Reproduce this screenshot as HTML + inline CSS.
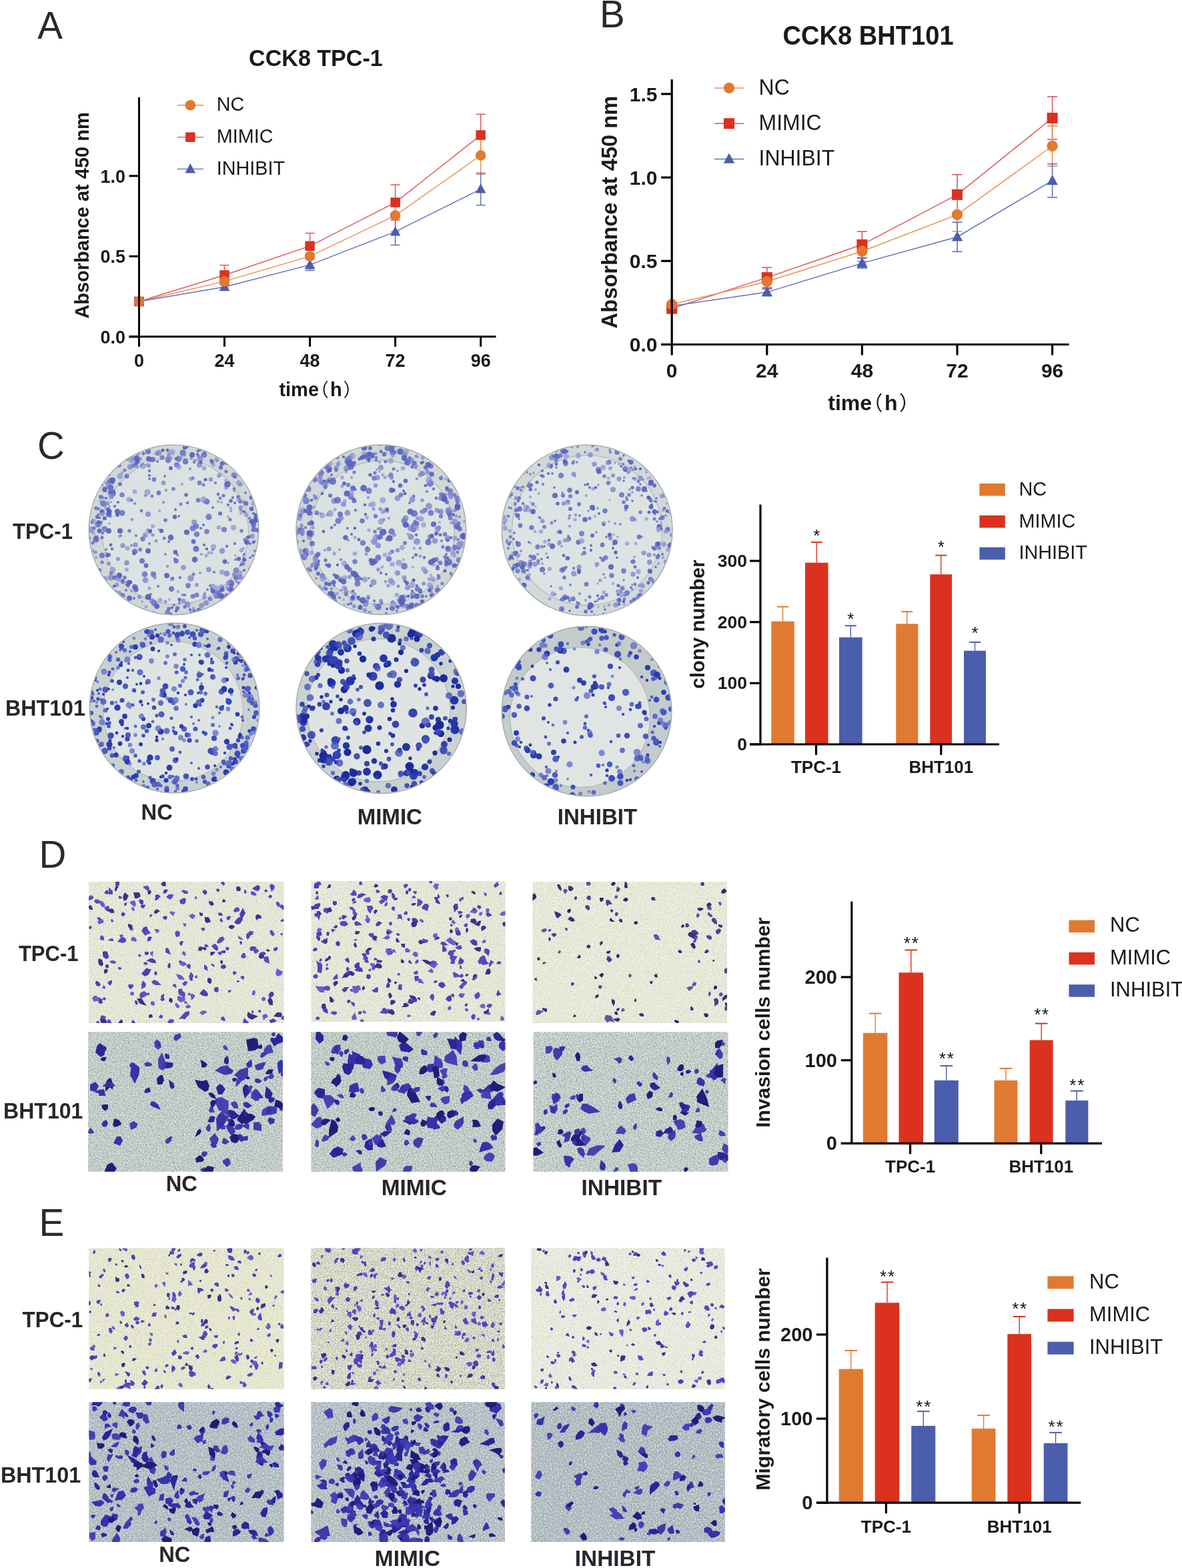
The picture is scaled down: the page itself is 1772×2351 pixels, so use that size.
<!DOCTYPE html><html><head><meta charset="utf-8"><title>Figure</title><style>html,body{margin:0;padding:0;background:#fff;}svg{display:block;}</style></head><body><svg width="1772" height="2351" viewBox="0 0 1772 2351" font-family="'Liberation Sans', Arial, sans-serif">
<defs><filter id="gd_tpc" x="0" y="0" width="100%" height="100%" color-interpolation-filters="sRGB"><feTurbulence type="fractalNoise" baseFrequency="0.7" numOctaves="2" seed="3"/><feColorMatrix type="matrix" values="0 0 0 0 0.714 0 0 0 0 0.737 0 0 0 0 0.635 3 0 0 0 -1.6"/></filter><filter id="gl_tpc" x="0" y="0" width="100%" height="100%" color-interpolation-filters="sRGB"><feTurbulence type="fractalNoise" baseFrequency="0.7" numOctaves="2" seed="8"/><feColorMatrix type="matrix" values="0 0 0 0 0.980 0 0 0 0 0.988 0 0 0 0 0.949 -3 0 0 0 1.5"/></filter><filter id="gd_tpc2" x="0" y="0" width="100%" height="100%" color-interpolation-filters="sRGB"><feTurbulence type="fractalNoise" baseFrequency="0.8" numOctaves="2" seed="3"/><feColorMatrix type="matrix" values="0 0 0 0 0.494 0 0 0 0 0.518 0 0 0 0 0.455 3.2 0 0 0 -1.55"/></filter><filter id="gd_bht" x="0" y="0" width="100%" height="100%" color-interpolation-filters="sRGB"><feTurbulence type="fractalNoise" baseFrequency="0.5" numOctaves="2" seed="5"/><feColorMatrix type="matrix" values="0 0 0 0 0.541 0 0 0 0 0.588 0 0 0 0 0.627 3.5 0 0 0 -1.8"/></filter><filter id="gl_bht" x="0" y="0" width="100%" height="100%" color-interpolation-filters="sRGB"><feTurbulence type="fractalNoise" baseFrequency="0.5" numOctaves="2" seed="9"/><feColorMatrix type="matrix" values="0 0 0 0 0.886 0 0 0 0 0.918 0 0 0 0 0.894 -3.5 0 0 0 1.8"/></filter><filter id="gd_bhtg" x="0" y="0" width="100%" height="100%" color-interpolation-filters="sRGB"><feTurbulence type="fractalNoise" baseFrequency="0.5" numOctaves="2" seed="6"/><feColorMatrix type="matrix" values="0 0 0 0 0.557 0 0 0 0 0.604 0 0 0 0 0.588 3.5 0 0 0 -1.8"/></filter><filter id="gl_bhtg" x="0" y="0" width="100%" height="100%" color-interpolation-filters="sRGB"><feTurbulence type="fractalNoise" baseFrequency="0.5" numOctaves="2" seed="10"/><feColorMatrix type="matrix" values="0 0 0 0 0.910 0 0 0 0 0.941 0 0 0 0 0.902 -3.5 0 0 0 1.8"/></filter><filter id="soft"><feGaussianBlur stdDeviation="0.7"/></filter></defs>
<rect width="1772" height="2351" fill="#ffffff"/>
<text x="56.2" y="57.9" font-size="56.5" text-anchor="start" fill="#2a2a2e">A</text>
<text x="899.0" y="41.2" font-size="56.5" text-anchor="start" fill="#2a2a2e">B</text>
<text x="56.0" y="687.6" font-size="56.5" text-anchor="start" fill="#2a2a2e">C</text>
<text x="58.6" y="1301.0" font-size="56.5" text-anchor="start" fill="#2a2a2e">D</text>
<text x="58.4" y="1853.3" font-size="56.5" text-anchor="start" fill="#2a2a2e">E</text>
<line x1="208.5" y1="454.4" x2="208.5" y2="449.6" stroke="#E0555A" stroke-width="1.5"/>
<line x1="201.5" y1="449.6" x2="215.5" y2="449.6" stroke="#E0555A" stroke-width="1.5"/>
<line x1="201.5" y1="454.4" x2="215.5" y2="454.4" stroke="#E0555A" stroke-width="1.5"/>
<line x1="336.5" y1="427.4" x2="336.5" y2="397.6" stroke="#E0555A" stroke-width="1.5"/>
<line x1="329.5" y1="397.6" x2="343.5" y2="397.6" stroke="#E0555A" stroke-width="1.5"/>
<line x1="329.5" y1="427.4" x2="343.5" y2="427.4" stroke="#E0555A" stroke-width="1.5"/>
<line x1="464.6" y1="388.2" x2="464.6" y2="349.6" stroke="#E0555A" stroke-width="1.5"/>
<line x1="457.6" y1="349.6" x2="471.6" y2="349.6" stroke="#E0555A" stroke-width="1.5"/>
<line x1="457.6" y1="388.2" x2="471.6" y2="388.2" stroke="#E0555A" stroke-width="1.5"/>
<line x1="592.6" y1="330.1" x2="592.6" y2="277.1" stroke="#E0555A" stroke-width="1.5"/>
<line x1="585.6" y1="277.1" x2="599.6" y2="277.1" stroke="#E0555A" stroke-width="1.5"/>
<line x1="585.6" y1="330.1" x2="599.6" y2="330.1" stroke="#E0555A" stroke-width="1.5"/>
<line x1="720.7" y1="233.9" x2="720.7" y2="171.3" stroke="#E0555A" stroke-width="1.5"/>
<line x1="713.7" y1="171.3" x2="727.7" y2="171.3" stroke="#E0555A" stroke-width="1.5"/>
<line x1="713.7" y1="233.9" x2="727.7" y2="233.9" stroke="#E0555A" stroke-width="1.5"/>
<line x1="208.5" y1="454.4" x2="208.5" y2="449.6" stroke="#E89050" stroke-width="1.5"/>
<line x1="201.5" y1="449.6" x2="215.5" y2="449.6" stroke="#E89050" stroke-width="1.5"/>
<line x1="201.5" y1="454.4" x2="215.5" y2="454.4" stroke="#E89050" stroke-width="1.5"/>
<line x1="336.5" y1="431.5" x2="336.5" y2="412.3" stroke="#E89050" stroke-width="1.5"/>
<line x1="329.5" y1="412.3" x2="343.5" y2="412.3" stroke="#E89050" stroke-width="1.5"/>
<line x1="329.5" y1="431.5" x2="343.5" y2="431.5" stroke="#E89050" stroke-width="1.5"/>
<line x1="464.6" y1="403.3" x2="464.6" y2="364.8" stroke="#E89050" stroke-width="1.5"/>
<line x1="457.6" y1="364.8" x2="471.6" y2="364.8" stroke="#E89050" stroke-width="1.5"/>
<line x1="457.6" y1="403.3" x2="471.6" y2="403.3" stroke="#E89050" stroke-width="1.5"/>
<line x1="592.6" y1="347.2" x2="592.6" y2="299.0" stroke="#E89050" stroke-width="1.5"/>
<line x1="585.6" y1="299.0" x2="599.6" y2="299.0" stroke="#E89050" stroke-width="1.5"/>
<line x1="585.6" y1="347.2" x2="599.6" y2="347.2" stroke="#E89050" stroke-width="1.5"/>
<line x1="720.7" y1="261.4" x2="720.7" y2="204.5" stroke="#E89050" stroke-width="1.5"/>
<line x1="713.7" y1="204.5" x2="727.7" y2="204.5" stroke="#E89050" stroke-width="1.5"/>
<line x1="713.7" y1="261.4" x2="727.7" y2="261.4" stroke="#E89050" stroke-width="1.5"/>
<line x1="208.5" y1="454.4" x2="208.5" y2="449.6" stroke="#6070C0" stroke-width="1.5"/>
<line x1="201.5" y1="449.6" x2="215.5" y2="449.6" stroke="#6070C0" stroke-width="1.5"/>
<line x1="201.5" y1="454.4" x2="215.5" y2="454.4" stroke="#6070C0" stroke-width="1.5"/>
<line x1="336.5" y1="435.2" x2="336.5" y2="425.5" stroke="#6070C0" stroke-width="1.5"/>
<line x1="329.5" y1="425.5" x2="343.5" y2="425.5" stroke="#6070C0" stroke-width="1.5"/>
<line x1="329.5" y1="435.2" x2="343.5" y2="435.2" stroke="#6070C0" stroke-width="1.5"/>
<line x1="464.6" y1="405.5" x2="464.6" y2="388.6" stroke="#6070C0" stroke-width="1.5"/>
<line x1="457.6" y1="388.6" x2="471.6" y2="388.6" stroke="#6070C0" stroke-width="1.5"/>
<line x1="457.6" y1="405.5" x2="471.6" y2="405.5" stroke="#6070C0" stroke-width="1.5"/>
<line x1="592.6" y1="367.4" x2="592.6" y2="327.4" stroke="#6070C0" stroke-width="1.5"/>
<line x1="585.6" y1="327.4" x2="599.6" y2="327.4" stroke="#6070C0" stroke-width="1.5"/>
<line x1="585.6" y1="367.4" x2="599.6" y2="367.4" stroke="#6070C0" stroke-width="1.5"/>
<line x1="720.7" y1="307.7" x2="720.7" y2="259.5" stroke="#6070C0" stroke-width="1.5"/>
<line x1="713.7" y1="259.5" x2="727.7" y2="259.5" stroke="#6070C0" stroke-width="1.5"/>
<line x1="713.7" y1="307.7" x2="727.7" y2="307.7" stroke="#6070C0" stroke-width="1.5"/>
<polyline points="208.5,452.0 336.5,412.5 464.6,368.9 592.6,303.6 720.7,202.6" fill="none" stroke="#E0555A" stroke-width="1.4"/>
<polyline points="208.5,452.0 336.5,421.9 464.6,384.1 592.6,323.1 720.7,233.0" fill="none" stroke="#E89050" stroke-width="1.4"/>
<polyline points="208.5,452.0 336.5,430.3 464.6,397.1 592.6,347.4 720.7,283.6" fill="none" stroke="#6070C0" stroke-width="1.4"/>
<polygon points="208.5,443.8 216.2,458.0 200.8,458.0" fill="#4B5EAD"/>
<polygon points="336.5,422.1 344.3,436.3 328.8,436.3" fill="#4B5EAD"/>
<polygon points="464.6,388.8 472.3,403.1 456.8,403.1" fill="#4B5EAD"/>
<polygon points="592.6,339.2 600.4,353.4 584.9,353.4" fill="#4B5EAD"/>
<polygon points="720.7,275.3 728.4,289.6 712.9,289.6" fill="#4B5EAD"/>
<rect x="201.2" y="444.8" width="14.5" height="14.5" fill="#DA321E"/>
<rect x="329.3" y="405.2" width="14.5" height="14.5" fill="#DA321E"/>
<rect x="457.3" y="361.6" width="14.5" height="14.5" fill="#DA321E"/>
<rect x="585.4" y="296.3" width="14.5" height="14.5" fill="#DA321E"/>
<rect x="713.4" y="195.3" width="14.5" height="14.5" fill="#DA321E"/>
<circle cx="208.5" cy="452.0" r="7.8" fill="#E07A30"/>
<circle cx="336.5" cy="421.9" r="7.8" fill="#E07A30"/>
<circle cx="464.6" cy="384.1" r="7.8" fill="#E07A30"/>
<circle cx="592.6" cy="323.1" r="7.8" fill="#E07A30"/>
<circle cx="720.7" cy="233.0" r="7.8" fill="#E07A30"/>
<line x1="208.5" y1="146.0" x2="208.5" y2="506.3" stroke="#000" stroke-width="3"/>
<line x1="193.5" y1="504.8" x2="743.5" y2="504.8" stroke="#000" stroke-width="3"/>
<line x1="193.5" y1="504.8" x2="208.5" y2="504.8" stroke="#000" stroke-width="3"/>
<text x="188.0" y="514.5" font-size="27" font-weight="bold" text-anchor="end" fill="#1a1a1a">0.0</text>
<line x1="193.5" y1="384.3" x2="208.5" y2="384.3" stroke="#000" stroke-width="3"/>
<text x="188.0" y="394.0" font-size="27" font-weight="bold" text-anchor="end" fill="#1a1a1a">0.5</text>
<line x1="193.5" y1="263.8" x2="208.5" y2="263.8" stroke="#000" stroke-width="3"/>
<text x="188.0" y="273.5" font-size="27" font-weight="bold" text-anchor="end" fill="#1a1a1a">1.0</text>
<line x1="208.5" y1="504.8" x2="208.5" y2="519.8" stroke="#000" stroke-width="3"/>
<text x="208.5" y="549.7" font-size="27" font-weight="bold" text-anchor="middle" fill="#1a1a1a">0</text>
<line x1="336.5" y1="504.8" x2="336.5" y2="519.8" stroke="#000" stroke-width="3"/>
<text x="336.5" y="549.7" font-size="27" font-weight="bold" text-anchor="middle" fill="#1a1a1a">24</text>
<line x1="464.6" y1="504.8" x2="464.6" y2="519.8" stroke="#000" stroke-width="3"/>
<text x="464.6" y="549.7" font-size="27" font-weight="bold" text-anchor="middle" fill="#1a1a1a">48</text>
<line x1="592.6" y1="504.8" x2="592.6" y2="519.8" stroke="#000" stroke-width="3"/>
<text x="592.6" y="549.7" font-size="27" font-weight="bold" text-anchor="middle" fill="#1a1a1a">72</text>
<line x1="720.7" y1="504.8" x2="720.7" y2="519.8" stroke="#000" stroke-width="3"/>
<text x="720.7" y="549.7" font-size="27" font-weight="bold" text-anchor="middle" fill="#1a1a1a">96</text>
<text x="133.0" y="323.0" font-size="29" font-weight="bold" text-anchor="middle" fill="#1a1a1a" transform="rotate(-90 133.0 323.0)">Absorbance at 450 nm</text>
<text y="594.3" fill="#1a1a1a"><tspan x="418.4" font-size="29" font-weight="bold">time</tspan><tspan x="465.5" font-size="27.4" font-family="'Liberation Sans', 'Noto Sans CJK SC', sans-serif">（</tspan><tspan x="494.9" font-size="29" font-weight="bold">h</tspan><tspan x="514.4" font-size="27.4" font-family="'Liberation Sans', 'Noto Sans CJK SC', sans-serif">）</tspan></text>
<text x="473.4" y="99.0" font-size="35.5" font-weight="bold" text-anchor="middle" fill="#1a1a1a" transform="matrix(0.96 0 0 1 18.94 0)">CCK8 TPC-1</text>
<line x1="265.6" y1="157.8" x2="305.0" y2="157.8" stroke="#E89050" stroke-width="1.4"/>
<circle cx="285.3" cy="157.8" r="7.8" fill="#E07A30"/>
<text x="324.8" y="166.4" font-size="30" text-anchor="start" fill="#1a1a1a" transform="matrix(0.96 0 0 1 12.99 0)">NC</text>
<line x1="265.6" y1="205.6" x2="305.0" y2="205.6" stroke="#E0555A" stroke-width="1.4"/>
<rect x="278.1" y="198.4" width="14.5" height="14.5" fill="#DA321E"/>
<text x="324.8" y="214.2" font-size="30" text-anchor="start" fill="#1a1a1a" transform="matrix(0.96 0 0 1 12.99 0)">MIMIC</text>
<line x1="265.6" y1="253.4" x2="305.0" y2="253.4" stroke="#6070C0" stroke-width="1.4"/>
<polygon points="285.3,245.1 293.1,259.4 277.6,259.4" fill="#4B5EAD"/>
<text x="324.8" y="262.0" font-size="30" text-anchor="start" fill="#1a1a1a" transform="matrix(0.96 0 0 1 12.99 0)">INHIBIT</text>
<line x1="1007.2" y1="465.2" x2="1007.2" y2="460.2" stroke="#E0555A" stroke-width="1.6"/>
<line x1="999.7" y1="460.2" x2="1014.7" y2="460.2" stroke="#E0555A" stroke-width="1.6"/>
<line x1="999.7" y1="465.2" x2="1014.7" y2="465.2" stroke="#E0555A" stroke-width="1.6"/>
<line x1="1149.8" y1="431.1" x2="1149.8" y2="401.1" stroke="#E0555A" stroke-width="1.6"/>
<line x1="1142.3" y1="401.1" x2="1157.3" y2="401.1" stroke="#E0555A" stroke-width="1.6"/>
<line x1="1142.3" y1="431.1" x2="1157.3" y2="431.1" stroke="#E0555A" stroke-width="1.6"/>
<line x1="1292.4" y1="386.3" x2="1292.4" y2="347.2" stroke="#E0555A" stroke-width="1.6"/>
<line x1="1284.9" y1="347.2" x2="1299.9" y2="347.2" stroke="#E0555A" stroke-width="1.6"/>
<line x1="1284.9" y1="386.3" x2="1299.9" y2="386.3" stroke="#E0555A" stroke-width="1.6"/>
<line x1="1435.0" y1="321.9" x2="1435.0" y2="261.8" stroke="#E0555A" stroke-width="1.6"/>
<line x1="1427.5" y1="261.8" x2="1442.5" y2="261.8" stroke="#E0555A" stroke-width="1.6"/>
<line x1="1427.5" y1="321.9" x2="1442.5" y2="321.9" stroke="#E0555A" stroke-width="1.6"/>
<line x1="1577.6" y1="209.0" x2="1577.6" y2="144.9" stroke="#E0555A" stroke-width="1.6"/>
<line x1="1570.1" y1="144.9" x2="1585.1" y2="144.9" stroke="#E0555A" stroke-width="1.6"/>
<line x1="1570.1" y1="209.0" x2="1585.1" y2="209.0" stroke="#E0555A" stroke-width="1.6"/>
<line x1="1007.2" y1="458.9" x2="1007.2" y2="453.9" stroke="#E89050" stroke-width="1.6"/>
<line x1="999.7" y1="453.9" x2="1014.7" y2="453.9" stroke="#E89050" stroke-width="1.6"/>
<line x1="999.7" y1="458.9" x2="1014.7" y2="458.9" stroke="#E89050" stroke-width="1.6"/>
<line x1="1149.8" y1="432.4" x2="1149.8" y2="412.3" stroke="#E89050" stroke-width="1.6"/>
<line x1="1142.3" y1="412.3" x2="1157.3" y2="412.3" stroke="#E89050" stroke-width="1.6"/>
<line x1="1142.3" y1="432.4" x2="1157.3" y2="432.4" stroke="#E89050" stroke-width="1.6"/>
<line x1="1292.4" y1="391.8" x2="1292.4" y2="361.8" stroke="#E89050" stroke-width="1.6"/>
<line x1="1284.9" y1="361.8" x2="1299.9" y2="361.8" stroke="#E89050" stroke-width="1.6"/>
<line x1="1284.9" y1="391.8" x2="1299.9" y2="391.8" stroke="#E89050" stroke-width="1.6"/>
<line x1="1435.0" y1="347.0" x2="1435.0" y2="296.9" stroke="#E89050" stroke-width="1.6"/>
<line x1="1427.5" y1="296.9" x2="1442.5" y2="296.9" stroke="#E89050" stroke-width="1.6"/>
<line x1="1427.5" y1="347.0" x2="1442.5" y2="347.0" stroke="#E89050" stroke-width="1.6"/>
<line x1="1577.6" y1="249.1" x2="1577.6" y2="189.0" stroke="#E89050" stroke-width="1.6"/>
<line x1="1570.1" y1="189.0" x2="1585.1" y2="189.0" stroke="#E89050" stroke-width="1.6"/>
<line x1="1570.1" y1="249.1" x2="1585.1" y2="249.1" stroke="#E89050" stroke-width="1.6"/>
<line x1="1007.2" y1="461.4" x2="1007.2" y2="456.4" stroke="#6070C0" stroke-width="1.6"/>
<line x1="999.7" y1="456.4" x2="1014.7" y2="456.4" stroke="#6070C0" stroke-width="1.6"/>
<line x1="999.7" y1="461.4" x2="1014.7" y2="461.4" stroke="#6070C0" stroke-width="1.6"/>
<line x1="1149.8" y1="443.1" x2="1149.8" y2="433.1" stroke="#6070C0" stroke-width="1.6"/>
<line x1="1142.3" y1="433.1" x2="1157.3" y2="433.1" stroke="#6070C0" stroke-width="1.6"/>
<line x1="1142.3" y1="443.1" x2="1157.3" y2="443.1" stroke="#6070C0" stroke-width="1.6"/>
<line x1="1292.4" y1="402.1" x2="1292.4" y2="387.0" stroke="#6070C0" stroke-width="1.6"/>
<line x1="1284.9" y1="387.0" x2="1299.9" y2="387.0" stroke="#6070C0" stroke-width="1.6"/>
<line x1="1284.9" y1="402.1" x2="1299.9" y2="402.1" stroke="#6070C0" stroke-width="1.6"/>
<line x1="1435.0" y1="377.3" x2="1435.0" y2="333.2" stroke="#6070C0" stroke-width="1.6"/>
<line x1="1427.5" y1="333.2" x2="1442.5" y2="333.2" stroke="#6070C0" stroke-width="1.6"/>
<line x1="1427.5" y1="377.3" x2="1442.5" y2="377.3" stroke="#6070C0" stroke-width="1.6"/>
<line x1="1577.6" y1="295.9" x2="1577.6" y2="245.8" stroke="#6070C0" stroke-width="1.6"/>
<line x1="1570.1" y1="245.8" x2="1585.1" y2="245.8" stroke="#6070C0" stroke-width="1.6"/>
<line x1="1570.1" y1="295.9" x2="1585.1" y2="295.9" stroke="#6070C0" stroke-width="1.6"/>
<polyline points="1007.2,462.7 1149.8,416.1 1292.4,366.8 1435.0,291.9 1577.6,177.0" fill="none" stroke="#E0555A" stroke-width="1.5"/>
<polyline points="1007.2,456.4 1149.8,422.3 1292.4,376.8 1435.0,321.9 1577.6,219.0" fill="none" stroke="#E89050" stroke-width="1.5"/>
<polyline points="1007.2,458.9 1149.8,438.1 1292.4,394.6 1435.0,355.2 1577.6,270.9" fill="none" stroke="#6070C0" stroke-width="1.5"/>
<polygon points="1007.2,450.1 1015.5,465.3 999.0,465.3" fill="#4B5EAD"/>
<polygon points="1149.8,429.3 1158.1,444.5 1141.6,444.5" fill="#4B5EAD"/>
<polygon points="1292.4,385.8 1300.7,400.9 1284.2,400.9" fill="#4B5EAD"/>
<polygon points="1435.0,346.4 1443.3,361.6 1426.8,361.6" fill="#4B5EAD"/>
<polygon points="1577.6,262.1 1585.9,277.2 1569.4,277.2" fill="#4B5EAD"/>
<rect x="999.2" y="454.7" width="16.0" height="16.0" fill="#DA321E"/>
<rect x="1141.8" y="408.1" width="16.0" height="16.0" fill="#DA321E"/>
<rect x="1284.4" y="358.8" width="16.0" height="16.0" fill="#DA321E"/>
<rect x="1427.0" y="283.9" width="16.0" height="16.0" fill="#DA321E"/>
<rect x="1569.6" y="169.0" width="16.0" height="16.0" fill="#DA321E"/>
<circle cx="1007.2" cy="456.4" r="8.2" fill="#E07A30"/>
<circle cx="1149.8" cy="422.3" r="8.2" fill="#E07A30"/>
<circle cx="1292.4" cy="376.8" r="8.2" fill="#E07A30"/>
<circle cx="1435.0" cy="321.9" r="8.2" fill="#E07A30"/>
<circle cx="1577.6" cy="219.0" r="8.2" fill="#E07A30"/>
<line x1="1007.2" y1="119.0" x2="1007.2" y2="518.1" stroke="#000" stroke-width="3.2"/>
<line x1="991.2" y1="516.5" x2="1602.5" y2="516.5" stroke="#000" stroke-width="3.2"/>
<line x1="991.2" y1="516.5" x2="1007.2" y2="516.5" stroke="#000" stroke-width="3.2"/>
<text x="985.5" y="527.2" font-size="30" font-weight="bold" text-anchor="end" fill="#1a1a1a">0.0</text>
<line x1="991.2" y1="391.3" x2="1007.2" y2="391.3" stroke="#000" stroke-width="3.2"/>
<text x="985.5" y="402.0" font-size="30" font-weight="bold" text-anchor="end" fill="#1a1a1a">0.5</text>
<line x1="991.2" y1="266.1" x2="1007.2" y2="266.1" stroke="#000" stroke-width="3.2"/>
<text x="985.5" y="276.8" font-size="30" font-weight="bold" text-anchor="end" fill="#1a1a1a">1.0</text>
<line x1="991.2" y1="140.9" x2="1007.2" y2="140.9" stroke="#000" stroke-width="3.2"/>
<text x="985.5" y="151.6" font-size="30" font-weight="bold" text-anchor="end" fill="#1a1a1a">1.5</text>
<line x1="1007.2" y1="516.5" x2="1007.2" y2="532.5" stroke="#000" stroke-width="3.2"/>
<text x="1007.2" y="565.7" font-size="30" font-weight="bold" text-anchor="middle" fill="#1a1a1a">0</text>
<line x1="1149.8" y1="516.5" x2="1149.8" y2="532.5" stroke="#000" stroke-width="3.2"/>
<text x="1149.8" y="565.7" font-size="30" font-weight="bold" text-anchor="middle" fill="#1a1a1a">24</text>
<line x1="1292.4" y1="516.5" x2="1292.4" y2="532.5" stroke="#000" stroke-width="3.2"/>
<text x="1292.4" y="565.7" font-size="30" font-weight="bold" text-anchor="middle" fill="#1a1a1a">48</text>
<line x1="1435.0" y1="516.5" x2="1435.0" y2="532.5" stroke="#000" stroke-width="3.2"/>
<text x="1435.0" y="565.7" font-size="30" font-weight="bold" text-anchor="middle" fill="#1a1a1a">72</text>
<line x1="1577.6" y1="516.5" x2="1577.6" y2="532.5" stroke="#000" stroke-width="3.2"/>
<text x="1577.6" y="565.7" font-size="30" font-weight="bold" text-anchor="middle" fill="#1a1a1a">96</text>
<text x="924.5" y="318.0" font-size="32.7" font-weight="bold" text-anchor="middle" fill="#1a1a1a" transform="rotate(-90 924.5 318.0)">Absorbance at 450 nm</text>
<text y="615.3" fill="#1a1a1a"><tspan x="1241.3" font-size="32" font-weight="bold">time</tspan><tspan x="1293.6" font-size="30" font-family="'Liberation Sans', 'Noto Sans CJK SC', sans-serif">（</tspan><tspan x="1326" font-size="32" font-weight="bold">h</tspan><tspan x="1348" font-size="30" font-family="'Liberation Sans', 'Noto Sans CJK SC', sans-serif">）</tspan></text>
<text x="1301.6" y="66.8" font-size="40.5" font-weight="bold" text-anchor="middle" fill="#1a1a1a" transform="matrix(0.94 0 0 1 78.10 0)">CCK8 BHT101</text>
<line x1="1071.0" y1="132.0" x2="1115.0" y2="132.0" stroke="#E89050" stroke-width="1.5"/>
<circle cx="1093.0" cy="132.0" r="8.2" fill="#E07A30"/>
<text x="1137.6" y="141.8" font-size="34" text-anchor="start" fill="#1a1a1a" transform="matrix(0.94 0 0 1 68.26 0)">NC</text>
<line x1="1071.0" y1="185.2" x2="1115.0" y2="185.2" stroke="#E0555A" stroke-width="1.5"/>
<rect x="1085.0" y="177.2" width="16.0" height="16.0" fill="#DA321E"/>
<text x="1137.6" y="195.0" font-size="34" text-anchor="start" fill="#1a1a1a" transform="matrix(0.94 0 0 1 68.26 0)">MIMIC</text>
<line x1="1071.0" y1="238.4" x2="1115.0" y2="238.4" stroke="#6070C0" stroke-width="1.5"/>
<polygon points="1093.0,229.6 1101.2,244.8 1084.8,244.8" fill="#4B5EAD"/>
<text x="1137.6" y="248.2" font-size="34" text-anchor="start" fill="#1a1a1a" transform="matrix(0.94 0 0 1 68.26 0)">INHIBIT</text>
<clipPath id="p11"><circle cx="260.6" cy="794.4" r="126.5"/></clipPath>
<circle cx="260.6" cy="794.4" r="127.4" fill="#D0D7D6" stroke="#9AA2A2" stroke-width="1.2"/>
<circle cx="262.6" cy="796.4" r="110.0" fill="#DBE2E1" stroke="#B4BCBC" stroke-width="1.4"/>
<g clip-path="url(#p11)"><g filter="url(#soft)">
<g fill="#6870C8" fill-opacity="0.85"><circle cx="248" cy="831" r="1.9"/><circle cx="183" cy="769" r="4.5"/><circle cx="270" cy="866" r="2.3"/><circle cx="293" cy="821" r="2.3"/><circle cx="378" cy="795" r="2.1"/><circle cx="262" cy="838" r="2.0"/><circle cx="343" cy="883" r="3.3"/><circle cx="318" cy="691" r="2.5"/><circle cx="181" cy="803" r="1.9"/><circle cx="319" cy="761" r="2.1"/><circle cx="375" cy="853" r="3.0"/><circle cx="353" cy="839" r="1.9"/><circle cx="144" cy="808" r="2.2"/><circle cx="349" cy="746" r="2.2"/><circle cx="295" cy="801" r="4.3"/><circle cx="187" cy="705" r="2.5"/><circle cx="204" cy="803" r="2.1"/><circle cx="289" cy="894" r="3.6"/><circle cx="251" cy="918" r="3.6"/><circle cx="268" cy="774" r="1.9"/><circle cx="187" cy="866" r="3.0"/><circle cx="336" cy="794" r="4.1"/><circle cx="271" cy="756" r="2.4"/><circle cx="268" cy="688" r="4.7"/><circle cx="178" cy="697" r="4.0"/><circle cx="289" cy="792" r="4.6"/><circle cx="295" cy="892" r="3.5"/><circle cx="325" cy="691" r="1.9"/><circle cx="228" cy="744" r="2.4"/><circle cx="350" cy="712" r="2.3"/><circle cx="317" cy="882" r="2.3"/><circle cx="252" cy="690" r="4.4"/><circle cx="364" cy="845" r="3.3"/><circle cx="231" cy="904" r="4.7"/><circle cx="371" cy="806" r="2.8"/><circle cx="328" cy="889" r="3.8"/><circle cx="144" cy="762" r="2.9"/><circle cx="155" cy="755" r="4.8"/><circle cx="237" cy="879" r="2.0"/><circle cx="266" cy="832" r="2.0"/><circle cx="200" cy="698" r="3.2"/><circle cx="360" cy="752" r="3.1"/><circle cx="321" cy="888" r="2.6"/><circle cx="359" cy="749" r="1.9"/><circle cx="167" cy="859" r="2.9"/><circle cx="330" cy="747" r="2.4"/><circle cx="202" cy="755" r="1.9"/><circle cx="360" cy="865" r="3.9"/><circle cx="165" cy="737" r="1.9"/><circle cx="297" cy="750" r="3.5"/><circle cx="218" cy="743" r="1.9"/><circle cx="183" cy="742" r="3.8"/><circle cx="214" cy="808" r="3.7"/><circle cx="305" cy="727" r="2.5"/><circle cx="334" cy="880" r="2.2"/><circle cx="374" cy="777" r="2.3"/><circle cx="246" cy="807" r="2.5"/><circle cx="217" cy="861" r="4.4"/><circle cx="194" cy="796" r="2.8"/><circle cx="291" cy="693" r="2.2"/><circle cx="298" cy="684" r="2.6"/><circle cx="330" cy="886" r="2.1"/><circle cx="310" cy="797" r="3.8"/><circle cx="289" cy="717" r="2.6"/><circle cx="380" cy="790" r="2.7"/><circle cx="311" cy="884" r="2.0"/><circle cx="274" cy="679" r="4.8"/><circle cx="351" cy="733" r="2.4"/><circle cx="367" cy="809" r="2.6"/><circle cx="290" cy="861" r="2.5"/><circle cx="147" cy="786" r="4.8"/><circle cx="163" cy="722" r="2.7"/><circle cx="282" cy="878" r="3.9"/><circle cx="202" cy="689" r="2.4"/><circle cx="166" cy="721" r="4.7"/><circle cx="299" cy="724" r="3.4"/><circle cx="153" cy="727" r="2.1"/><circle cx="315" cy="898" r="3.3"/><circle cx="260" cy="733" r="2.8"/><circle cx="375" cy="836" r="2.1"/><circle cx="380" cy="782" r="4.5"/><circle cx="153" cy="833" r="4.4"/><circle cx="183" cy="893" r="4.1"/><circle cx="231" cy="719" r="3.4"/><circle cx="210" cy="824" r="3.0"/><circle cx="191" cy="689" r="1.9"/><circle cx="265" cy="697" r="4.0"/><circle cx="141" cy="792" r="2.7"/><circle cx="173" cy="887" r="2.5"/><circle cx="294" cy="789" r="4.4"/><circle cx="340" cy="893" r="3.6"/><circle cx="368" cy="739" r="2.0"/><circle cx="313" cy="775" r="4.7"/><circle cx="148" cy="763" r="2.3"/><circle cx="164" cy="712" r="1.9"/><circle cx="362" cy="796" r="2.8"/><circle cx="138" cy="783" r="2.5"/><circle cx="197" cy="818" r="1.9"/></g>
<g fill="#7A80CE" fill-opacity="0.75"><circle cx="184" cy="818" r="3.7"/><circle cx="368" cy="840" r="1.9"/><circle cx="209" cy="895" r="3.2"/><circle cx="159" cy="871" r="1.9"/><circle cx="222" cy="771" r="4.1"/><circle cx="253" cy="687" r="4.6"/><circle cx="159" cy="724" r="2.3"/><circle cx="223" cy="698" r="3.1"/><circle cx="300" cy="688" r="4.4"/><circle cx="136" cy="794" r="4.8"/><circle cx="287" cy="687" r="2.0"/><circle cx="346" cy="766" r="1.9"/><circle cx="318" cy="693" r="3.1"/><circle cx="168" cy="719" r="2.3"/><circle cx="382" cy="812" r="2.1"/><circle cx="316" cy="719" r="3.2"/><circle cx="302" cy="908" r="3.9"/><circle cx="366" cy="753" r="3.0"/><circle cx="302" cy="831" r="2.1"/><circle cx="378" cy="804" r="3.6"/><circle cx="253" cy="681" r="2.6"/><circle cx="367" cy="768" r="2.3"/><circle cx="361" cy="765" r="2.5"/><circle cx="249" cy="735" r="2.2"/><circle cx="299" cy="697" r="4.4"/><circle cx="328" cy="714" r="2.5"/><circle cx="191" cy="874" r="3.7"/><circle cx="251" cy="849" r="2.2"/><circle cx="368" cy="813" r="1.9"/><circle cx="324" cy="887" r="3.2"/><circle cx="340" cy="860" r="4.5"/><circle cx="225" cy="898" r="2.0"/><circle cx="287" cy="685" r="1.9"/><circle cx="360" cy="727" r="2.7"/><circle cx="238" cy="679" r="4.4"/><circle cx="351" cy="861" r="3.3"/><circle cx="198" cy="779" r="2.3"/><circle cx="190" cy="844" r="3.9"/><circle cx="185" cy="893" r="2.8"/><circle cx="161" cy="755" r="3.0"/><circle cx="144" cy="836" r="1.9"/><circle cx="245" cy="753" r="2.2"/><circle cx="274" cy="892" r="2.3"/><circle cx="177" cy="838" r="3.1"/><circle cx="203" cy="817" r="3.8"/><circle cx="235" cy="680" r="3.1"/><circle cx="293" cy="690" r="1.9"/><circle cx="285" cy="703" r="2.2"/><circle cx="234" cy="811" r="2.5"/><circle cx="352" cy="713" r="4.5"/><circle cx="306" cy="896" r="3.0"/><circle cx="206" cy="679" r="4.2"/><circle cx="248" cy="902" r="2.5"/><circle cx="295" cy="877" r="2.9"/><circle cx="163" cy="845" r="3.0"/><circle cx="228" cy="901" r="4.0"/><circle cx="327" cy="752" r="1.9"/><circle cx="275" cy="901" r="3.5"/><circle cx="245" cy="724" r="3.5"/><circle cx="276" cy="682" r="2.8"/><circle cx="309" cy="904" r="4.2"/><circle cx="154" cy="746" r="2.6"/><circle cx="166" cy="866" r="4.5"/><circle cx="167" cy="745" r="3.5"/><circle cx="349" cy="712" r="2.7"/><circle cx="316" cy="690" r="2.2"/><circle cx="306" cy="892" r="1.9"/><circle cx="307" cy="889" r="2.0"/><circle cx="153" cy="769" r="4.6"/><circle cx="175" cy="877" r="3.3"/><circle cx="163" cy="729" r="4.5"/><circle cx="258" cy="868" r="3.3"/><circle cx="157" cy="868" r="4.2"/><circle cx="354" cy="872" r="2.1"/><circle cx="291" cy="783" r="4.0"/><circle cx="275" cy="851" r="3.8"/><circle cx="286" cy="867" r="4.8"/><circle cx="232" cy="866" r="2.6"/><circle cx="229" cy="802" r="2.6"/><circle cx="354" cy="866" r="4.2"/><circle cx="195" cy="700" r="4.3"/><circle cx="214" cy="695" r="1.9"/><circle cx="351" cy="736" r="1.9"/><circle cx="143" cy="828" r="2.8"/><circle cx="210" cy="688" r="2.9"/><circle cx="300" cy="859" r="2.1"/><circle cx="178" cy="890" r="3.9"/><circle cx="361" cy="761" r="3.4"/><circle cx="350" cy="710" r="2.0"/><circle cx="287" cy="918" r="2.6"/><circle cx="197" cy="886" r="1.9"/><circle cx="306" cy="753" r="2.1"/><circle cx="281" cy="906" r="4.5"/><circle cx="313" cy="854" r="3.9"/><circle cx="333" cy="826" r="4.4"/><circle cx="251" cy="917" r="2.0"/><circle cx="290" cy="912" r="1.9"/><circle cx="218" cy="870" r="4.4"/><circle cx="222" cy="795" r="2.8"/><circle cx="205" cy="699" r="2.9"/><circle cx="160" cy="830" r="2.3"/></g>
<g fill="#5E68C4" fill-opacity="0.85"><circle cx="301" cy="792" r="2.1"/><circle cx="266" cy="912" r="3.2"/><circle cx="261" cy="907" r="1.9"/><circle cx="139" cy="814" r="2.5"/><circle cx="248" cy="780" r="2.8"/><circle cx="229" cy="689" r="3.9"/><circle cx="180" cy="726" r="2.9"/><circle cx="327" cy="741" r="2.4"/><circle cx="382" cy="826" r="1.9"/><circle cx="159" cy="824" r="1.9"/><circle cx="352" cy="815" r="2.2"/><circle cx="157" cy="793" r="4.0"/><circle cx="163" cy="832" r="3.0"/><circle cx="224" cy="815" r="1.9"/><circle cx="347" cy="879" r="2.9"/><circle cx="306" cy="682" r="4.4"/><circle cx="264" cy="841" r="3.7"/><circle cx="179" cy="861" r="2.6"/><circle cx="212" cy="766" r="2.4"/><circle cx="247" cy="714" r="1.9"/><circle cx="184" cy="870" r="2.0"/><circle cx="145" cy="807" r="2.2"/><circle cx="264" cy="688" r="2.5"/><circle cx="204" cy="695" r="2.7"/><circle cx="269" cy="904" r="2.0"/><circle cx="134" cy="807" r="2.4"/><circle cx="144" cy="806" r="3.5"/><circle cx="243" cy="686" r="3.5"/><circle cx="166" cy="731" r="4.4"/><circle cx="152" cy="783" r="1.9"/><circle cx="190" cy="714" r="3.5"/><circle cx="277" cy="892" r="2.1"/><circle cx="310" cy="752" r="4.4"/><circle cx="315" cy="878" r="2.0"/><circle cx="335" cy="896" r="2.0"/><circle cx="146" cy="776" r="2.0"/><circle cx="152" cy="767" r="2.3"/><circle cx="330" cy="770" r="3.1"/><circle cx="373" cy="805" r="2.6"/><circle cx="354" cy="855" r="4.3"/><circle cx="172" cy="759" r="2.2"/><circle cx="281" cy="754" r="2.3"/><circle cx="294" cy="823" r="4.6"/><circle cx="153" cy="843" r="2.5"/><circle cx="381" cy="794" r="3.7"/><circle cx="168" cy="823" r="2.3"/><circle cx="379" cy="833" r="2.0"/><circle cx="202" cy="827" r="4.3"/><circle cx="278" cy="692" r="4.4"/><circle cx="331" cy="701" r="3.2"/><circle cx="169" cy="740" r="4.8"/><circle cx="340" cy="819" r="2.3"/><circle cx="189" cy="885" r="2.0"/><circle cx="238" cy="739" r="3.4"/><circle cx="342" cy="757" r="2.3"/><circle cx="298" cy="915" r="3.8"/><circle cx="257" cy="883" r="4.2"/><circle cx="213" cy="841" r="4.1"/><circle cx="259" cy="867" r="1.9"/><circle cx="380" cy="786" r="4.0"/><circle cx="172" cy="866" r="3.6"/><circle cx="383" cy="771" r="2.0"/><circle cx="349" cy="876" r="1.9"/><circle cx="153" cy="806" r="2.5"/><circle cx="357" cy="745" r="2.8"/><circle cx="277" cy="910" r="2.5"/><circle cx="204" cy="881" r="2.9"/><circle cx="323" cy="724" r="2.1"/><circle cx="202" cy="880" r="4.2"/><circle cx="222" cy="677" r="4.1"/><circle cx="321" cy="858" r="2.0"/><circle cx="184" cy="872" r="3.2"/><circle cx="235" cy="909" r="4.3"/><circle cx="165" cy="738" r="3.4"/><circle cx="339" cy="707" r="2.5"/><circle cx="217" cy="803" r="1.9"/><circle cx="375" cy="815" r="2.0"/><circle cx="335" cy="743" r="2.6"/><circle cx="201" cy="897" r="2.0"/><circle cx="236" cy="692" r="1.9"/><circle cx="354" cy="866" r="3.5"/><circle cx="197" cy="750" r="2.5"/><circle cx="366" cy="831" r="2.0"/><circle cx="369" cy="755" r="3.4"/><circle cx="230" cy="861" r="4.0"/><circle cx="144" cy="809" r="4.7"/><circle cx="151" cy="745" r="3.0"/><circle cx="345" cy="779" r="2.5"/><circle cx="215" cy="680" r="2.5"/><circle cx="377" cy="781" r="2.0"/><circle cx="258" cy="911" r="2.3"/><circle cx="319" cy="824" r="1.9"/><circle cx="170" cy="737" r="3.3"/><circle cx="346" cy="874" r="4.8"/><circle cx="224" cy="718" r="1.9"/><circle cx="256" cy="920" r="2.1"/><circle cx="358" cy="874" r="2.3"/><circle cx="145" cy="775" r="2.4"/><circle cx="253" cy="913" r="2.9"/><circle cx="154" cy="799" r="2.2"/><circle cx="212" cy="697" r="2.0"/><circle cx="226" cy="891" r="1.9"/><circle cx="224" cy="706" r="2.2"/><circle cx="230" cy="918" r="2.1"/><circle cx="325" cy="893" r="4.6"/></g>
<g fill="#8A90D4" fill-opacity="0.7"><circle cx="158" cy="795" r="3.4"/><circle cx="317" cy="829" r="2.4"/><circle cx="361" cy="770" r="2.2"/><circle cx="340" cy="881" r="2.5"/><circle cx="358" cy="724" r="4.3"/><circle cx="238" cy="794" r="1.9"/><circle cx="213" cy="902" r="2.0"/><circle cx="218" cy="802" r="4.5"/><circle cx="362" cy="825" r="3.3"/><circle cx="363" cy="726" r="1.9"/><circle cx="180" cy="714" r="4.4"/><circle cx="140" cy="781" r="3.5"/><circle cx="151" cy="751" r="2.3"/><circle cx="286" cy="718" r="3.1"/><circle cx="357" cy="749" r="2.7"/><circle cx="341" cy="876" r="2.7"/><circle cx="242" cy="686" r="2.2"/><circle cx="338" cy="720" r="1.9"/><circle cx="362" cy="864" r="1.9"/><circle cx="329" cy="712" r="3.3"/><circle cx="256" cy="689" r="2.0"/><circle cx="153" cy="768" r="2.5"/><circle cx="166" cy="774" r="2.5"/><circle cx="325" cy="689" r="3.8"/><circle cx="258" cy="678" r="4.5"/><circle cx="219" cy="910" r="2.4"/><circle cx="358" cy="863" r="4.0"/><circle cx="271" cy="687" r="2.9"/><circle cx="369" cy="772" r="3.5"/><circle cx="199" cy="687" r="4.2"/><circle cx="355" cy="856" r="4.2"/><circle cx="360" cy="864" r="2.8"/><circle cx="332" cy="753" r="1.9"/><circle cx="355" cy="868" r="2.6"/><circle cx="342" cy="873" r="2.7"/><circle cx="342" cy="844" r="2.1"/><circle cx="307" cy="892" r="2.6"/><circle cx="325" cy="881" r="3.5"/><circle cx="202" cy="737" r="3.5"/><circle cx="350" cy="791" r="4.1"/><circle cx="305" cy="749" r="4.7"/><circle cx="267" cy="887" r="2.3"/><circle cx="289" cy="716" r="2.2"/><circle cx="228" cy="858" r="2.0"/><circle cx="178" cy="868" r="4.5"/><circle cx="157" cy="760" r="2.2"/><circle cx="193" cy="749" r="3.8"/><circle cx="178" cy="868" r="1.9"/><circle cx="139" cy="780" r="1.9"/><circle cx="224" cy="882" r="2.7"/><circle cx="240" cy="900" r="3.6"/><circle cx="365" cy="822" r="1.9"/><circle cx="361" cy="858" r="2.6"/><circle cx="313" cy="829" r="2.4"/><circle cx="353" cy="833" r="1.9"/><circle cx="323" cy="892" r="3.3"/><circle cx="179" cy="804" r="2.4"/><circle cx="298" cy="684" r="2.0"/><circle cx="221" cy="738" r="4.7"/><circle cx="317" cy="899" r="1.9"/><circle cx="166" cy="753" r="2.0"/><circle cx="332" cy="880" r="3.9"/><circle cx="164" cy="759" r="1.9"/><circle cx="328" cy="791" r="3.3"/><circle cx="342" cy="775" r="2.1"/><circle cx="307" cy="683" r="1.9"/><circle cx="191" cy="822" r="3.6"/><circle cx="333" cy="858" r="4.1"/><circle cx="320" cy="697" r="2.9"/><circle cx="164" cy="785" r="1.9"/><circle cx="309" cy="833" r="2.7"/><circle cx="244" cy="676" r="2.1"/><circle cx="346" cy="762" r="2.4"/><circle cx="239" cy="766" r="2.2"/><circle cx="204" cy="688" r="2.2"/><circle cx="197" cy="690" r="4.7"/><circle cx="273" cy="726" r="2.2"/><circle cx="319" cy="879" r="4.0"/><circle cx="268" cy="700" r="3.9"/><circle cx="254" cy="899" r="2.0"/><circle cx="283" cy="910" r="1.9"/><circle cx="229" cy="789" r="3.0"/><circle cx="163" cy="741" r="1.9"/><circle cx="219" cy="698" r="2.0"/><circle cx="169" cy="854" r="4.4"/><circle cx="140" cy="799" r="2.7"/><circle cx="306" cy="702" r="3.4"/><circle cx="190" cy="854" r="3.1"/><circle cx="183" cy="709" r="2.4"/><circle cx="320" cy="820" r="4.1"/><circle cx="381" cy="755" r="4.5"/><circle cx="214" cy="699" r="4.3"/><circle cx="178" cy="697" r="2.0"/><circle cx="138" cy="826" r="3.2"/><circle cx="167" cy="744" r="3.2"/><circle cx="339" cy="731" r="3.4"/><circle cx="365" cy="834" r="1.9"/></g>
<g fill="#5560BE" fill-opacity="0.9"><circle cx="346" cy="751" r="2.8"/><circle cx="279" cy="742" r="2.8"/><circle cx="224" cy="713" r="2.1"/><circle cx="388" cy="795" r="4.2"/><circle cx="291" cy="916" r="2.6"/><circle cx="292" cy="839" r="4.4"/><circle cx="349" cy="885" r="2.8"/><circle cx="244" cy="675" r="2.5"/><circle cx="176" cy="772" r="2.9"/><circle cx="206" cy="692" r="3.6"/><circle cx="219" cy="848" r="3.4"/><circle cx="385" cy="779" r="4.7"/><circle cx="177" cy="753" r="2.1"/><circle cx="163" cy="771" r="4.2"/><circle cx="296" cy="681" r="2.0"/><circle cx="380" cy="770" r="2.0"/><circle cx="262" cy="775" r="3.2"/><circle cx="341" cy="726" r="4.8"/><circle cx="269" cy="899" r="2.7"/><circle cx="153" cy="766" r="2.6"/><circle cx="339" cy="694" r="3.0"/><circle cx="149" cy="855" r="2.9"/><circle cx="370" cy="813" r="3.8"/><circle cx="169" cy="724" r="2.0"/><circle cx="196" cy="873" r="2.3"/><circle cx="290" cy="812" r="3.5"/><circle cx="301" cy="693" r="2.5"/><circle cx="166" cy="817" r="2.4"/><circle cx="256" cy="806" r="4.4"/><circle cx="157" cy="734" r="3.9"/><circle cx="366" cy="839" r="3.0"/><circle cx="377" cy="763" r="3.3"/><circle cx="192" cy="877" r="3.1"/><circle cx="377" cy="746" r="3.3"/><circle cx="301" cy="674" r="2.5"/><circle cx="307" cy="678" r="2.0"/><circle cx="194" cy="897" r="4.0"/><circle cx="223" cy="895" r="2.7"/><circle cx="288" cy="682" r="4.1"/><circle cx="333" cy="884" r="3.6"/><circle cx="310" cy="823" r="2.2"/><circle cx="305" cy="787" r="2.0"/><circle cx="317" cy="692" r="2.1"/><circle cx="251" cy="675" r="2.5"/><circle cx="159" cy="747" r="2.1"/><circle cx="161" cy="833" r="2.7"/><circle cx="250" cy="863" r="4.0"/><circle cx="147" cy="772" r="1.9"/><circle cx="264" cy="916" r="2.3"/><circle cx="332" cy="894" r="4.4"/><circle cx="148" cy="783" r="2.9"/><circle cx="169" cy="720" r="4.0"/><circle cx="223" cy="688" r="4.0"/><circle cx="149" cy="796" r="3.4"/><circle cx="319" cy="886" r="3.5"/><circle cx="347" cy="885" r="3.8"/><circle cx="149" cy="776" r="2.0"/><circle cx="361" cy="847" r="1.9"/><circle cx="222" cy="895" r="4.6"/><circle cx="256" cy="702" r="2.9"/><circle cx="277" cy="671" r="3.3"/><circle cx="383" cy="779" r="1.9"/><circle cx="162" cy="764" r="3.3"/><circle cx="201" cy="830" r="2.5"/><circle cx="194" cy="873" r="3.6"/><circle cx="236" cy="909" r="2.5"/><circle cx="365" cy="767" r="1.9"/><circle cx="308" cy="719" r="2.6"/><circle cx="358" cy="838" r="3.2"/><circle cx="226" cy="795" r="1.9"/><circle cx="179" cy="863" r="4.2"/><circle cx="337" cy="842" r="3.4"/><circle cx="333" cy="695" r="3.2"/><circle cx="306" cy="817" r="2.1"/><circle cx="163" cy="796" r="4.1"/><circle cx="366" cy="855" r="2.1"/><circle cx="380" cy="813" r="2.4"/><circle cx="281" cy="670" r="2.0"/><circle cx="263" cy="828" r="3.4"/><circle cx="263" cy="764" r="1.9"/><circle cx="204" cy="884" r="3.6"/><circle cx="176" cy="767" r="4.2"/><circle cx="285" cy="914" r="2.1"/><circle cx="222" cy="826" r="4.0"/><circle cx="164" cy="767" r="3.7"/><circle cx="201" cy="882" r="2.1"/><circle cx="352" cy="715" r="1.9"/><circle cx="377" cy="782" r="3.5"/><circle cx="225" cy="797" r="3.0"/><circle cx="242" cy="796" r="3.2"/><circle cx="352" cy="754" r="1.9"/><circle cx="280" cy="798" r="4.1"/><circle cx="253" cy="812" r="1.9"/><circle cx="205" cy="687" r="3.9"/><circle cx="171" cy="879" r="2.3"/><circle cx="157" cy="777" r="3.0"/><circle cx="385" cy="775" r="4.5"/><circle cx="180" cy="796" r="4.1"/><circle cx="297" cy="676" r="2.2"/></g>
</g></g>
<clipPath id="p12"><circle cx="571.3" cy="794.3" r="126.5"/></clipPath>
<circle cx="571.3" cy="794.3" r="127.4" fill="#D0D7D6" stroke="#9AA2A2" stroke-width="1.2"/>
<circle cx="573.3" cy="798.3" r="108.0" fill="#DBE2E1" stroke="#B4BCBC" stroke-width="1.4"/>
<g clip-path="url(#p12)"><g filter="url(#soft)">
<g fill="#6870C8" fill-opacity="0.85"><circle cx="519" cy="705" r="2.1"/><circle cx="688" cy="840" r="4.2"/><circle cx="523" cy="689" r="4.1"/><circle cx="661" cy="741" r="3.0"/><circle cx="459" cy="751" r="5.0"/><circle cx="475" cy="769" r="3.5"/><circle cx="614" cy="687" r="3.0"/><circle cx="449" cy="793" r="2.3"/><circle cx="662" cy="811" r="2.0"/><circle cx="639" cy="894" r="2.0"/><circle cx="458" cy="826" r="4.5"/><circle cx="483" cy="863" r="3.6"/><circle cx="531" cy="708" r="2.6"/><circle cx="590" cy="669" r="3.2"/><circle cx="475" cy="845" r="4.2"/><circle cx="563" cy="774" r="3.2"/><circle cx="489" cy="700" r="3.4"/><circle cx="556" cy="878" r="2.5"/><circle cx="686" cy="752" r="3.3"/><circle cx="511" cy="839" r="2.1"/><circle cx="583" cy="838" r="4.3"/><circle cx="507" cy="781" r="4.6"/><circle cx="661" cy="774" r="3.2"/><circle cx="529" cy="732" r="4.3"/><circle cx="620" cy="744" r="2.5"/><circle cx="503" cy="901" r="2.4"/><circle cx="597" cy="879" r="2.3"/><circle cx="640" cy="737" r="2.1"/><circle cx="564" cy="690" r="2.4"/><circle cx="665" cy="746" r="5.0"/><circle cx="686" cy="790" r="3.3"/><circle cx="645" cy="725" r="5.0"/><circle cx="637" cy="765" r="3.7"/><circle cx="611" cy="909" r="3.4"/><circle cx="472" cy="719" r="4.2"/><circle cx="675" cy="736" r="3.8"/><circle cx="524" cy="687" r="4.0"/><circle cx="497" cy="791" r="2.5"/><circle cx="667" cy="801" r="3.2"/><circle cx="657" cy="863" r="2.4"/><circle cx="581" cy="672" r="4.5"/><circle cx="586" cy="712" r="3.4"/><circle cx="607" cy="814" r="3.1"/><circle cx="551" cy="824" r="4.3"/><circle cx="532" cy="842" r="3.7"/><circle cx="682" cy="821" r="4.4"/><circle cx="587" cy="797" r="4.7"/><circle cx="453" cy="799" r="2.6"/><circle cx="606" cy="849" r="5.0"/><circle cx="606" cy="781" r="4.6"/><circle cx="621" cy="788" r="4.7"/><circle cx="648" cy="892" r="3.6"/><circle cx="476" cy="846" r="3.4"/><circle cx="561" cy="717" r="3.7"/><circle cx="526" cy="745" r="4.2"/><circle cx="488" cy="730" r="3.1"/><circle cx="587" cy="677" r="2.0"/><circle cx="622" cy="782" r="2.8"/><circle cx="576" cy="795" r="2.1"/><circle cx="590" cy="703" r="2.6"/><circle cx="601" cy="742" r="3.4"/><circle cx="572" cy="904" r="2.5"/><circle cx="626" cy="883" r="4.1"/><circle cx="664" cy="746" r="4.9"/><circle cx="595" cy="916" r="2.0"/><circle cx="630" cy="887" r="3.2"/><circle cx="588" cy="827" r="2.9"/><circle cx="676" cy="860" r="2.4"/><circle cx="492" cy="707" r="2.4"/><circle cx="493" cy="703" r="4.8"/><circle cx="453" cy="802" r="2.0"/><circle cx="561" cy="901" r="2.2"/><circle cx="489" cy="847" r="2.2"/><circle cx="658" cy="866" r="2.7"/><circle cx="551" cy="682" r="4.4"/><circle cx="462" cy="733" r="4.6"/><circle cx="589" cy="902" r="2.1"/><circle cx="620" cy="794" r="3.9"/><circle cx="685" cy="747" r="3.6"/><circle cx="675" cy="739" r="3.5"/><circle cx="678" cy="864" r="2.3"/><circle cx="500" cy="890" r="2.1"/><circle cx="550" cy="902" r="2.8"/><circle cx="613" cy="912" r="4.5"/><circle cx="681" cy="742" r="2.9"/><circle cx="530" cy="748" r="2.4"/><circle cx="633" cy="894" r="2.9"/><circle cx="673" cy="768" r="4.5"/><circle cx="490" cy="696" r="2.4"/><circle cx="660" cy="844" r="3.5"/><circle cx="553" cy="736" r="4.7"/><circle cx="667" cy="835" r="2.7"/><circle cx="564" cy="686" r="2.3"/><circle cx="588" cy="679" r="3.7"/><circle cx="664" cy="820" r="2.7"/><circle cx="536" cy="875" r="4.6"/><circle cx="606" cy="906" r="2.0"/><circle cx="519" cy="891" r="3.1"/><circle cx="591" cy="678" r="3.5"/><circle cx="444" cy="798" r="4.8"/><circle cx="654" cy="839" r="3.7"/><circle cx="522" cy="727" r="3.2"/><circle cx="533" cy="734" r="2.1"/><circle cx="481" cy="709" r="4.7"/><circle cx="456" cy="835" r="5.0"/><circle cx="447" cy="777" r="2.0"/><circle cx="646" cy="699" r="3.8"/><circle cx="675" cy="777" r="3.2"/><circle cx="646" cy="769" r="4.5"/><circle cx="663" cy="875" r="2.5"/><circle cx="544" cy="814" r="4.3"/><circle cx="672" cy="823" r="4.7"/><circle cx="630" cy="886" r="3.4"/><circle cx="451" cy="798" r="3.3"/><circle cx="489" cy="723" r="3.5"/><circle cx="687" cy="809" r="2.1"/><circle cx="580" cy="809" r="2.4"/></g>
<g fill="#7A80CE" fill-opacity="0.75"><circle cx="493" cy="823" r="3.6"/><circle cx="487" cy="727" r="3.9"/><circle cx="682" cy="765" r="2.9"/><circle cx="611" cy="881" r="4.0"/><circle cx="492" cy="698" r="2.8"/><circle cx="501" cy="751" r="4.6"/><circle cx="468" cy="802" r="2.8"/><circle cx="564" cy="803" r="2.4"/><circle cx="482" cy="723" r="4.3"/><circle cx="497" cy="883" r="2.4"/><circle cx="611" cy="689" r="2.2"/><circle cx="583" cy="777" r="2.0"/><circle cx="483" cy="883" r="2.0"/><circle cx="491" cy="772" r="2.5"/><circle cx="454" cy="800" r="2.6"/><circle cx="548" cy="906" r="4.3"/><circle cx="650" cy="870" r="2.2"/><circle cx="560" cy="873" r="4.6"/><circle cx="630" cy="834" r="2.2"/><circle cx="469" cy="791" r="2.7"/><circle cx="596" cy="747" r="4.4"/><circle cx="511" cy="777" r="4.1"/><circle cx="467" cy="799" r="4.2"/><circle cx="520" cy="688" r="3.3"/><circle cx="635" cy="875" r="3.1"/><circle cx="658" cy="791" r="3.2"/><circle cx="444" cy="798" r="4.6"/><circle cx="473" cy="837" r="4.4"/><circle cx="596" cy="706" r="2.0"/><circle cx="561" cy="812" r="4.9"/><circle cx="578" cy="798" r="2.0"/><circle cx="487" cy="867" r="2.0"/><circle cx="556" cy="685" r="2.0"/><circle cx="528" cy="898" r="3.8"/><circle cx="518" cy="882" r="2.3"/><circle cx="587" cy="903" r="2.1"/><circle cx="641" cy="707" r="2.6"/><circle cx="591" cy="802" r="3.0"/><circle cx="684" cy="774" r="2.2"/><circle cx="515" cy="756" r="4.1"/><circle cx="481" cy="770" r="2.1"/><circle cx="689" cy="775" r="2.2"/><circle cx="527" cy="716" r="2.0"/><circle cx="630" cy="712" r="3.4"/><circle cx="626" cy="777" r="2.8"/><circle cx="563" cy="680" r="2.4"/><circle cx="524" cy="865" r="3.0"/><circle cx="661" cy="767" r="4.2"/><circle cx="507" cy="696" r="3.2"/><circle cx="469" cy="847" r="3.5"/><circle cx="608" cy="777" r="4.5"/><circle cx="624" cy="684" r="2.6"/><circle cx="643" cy="759" r="5.0"/><circle cx="521" cy="769" r="4.4"/><circle cx="618" cy="749" r="4.4"/><circle cx="531" cy="698" r="2.1"/><circle cx="473" cy="746" r="3.5"/><circle cx="623" cy="701" r="2.4"/><circle cx="452" cy="788" r="2.9"/><circle cx="519" cy="887" r="3.6"/><circle cx="616" cy="792" r="4.9"/><circle cx="581" cy="767" r="2.3"/><circle cx="560" cy="763" r="2.6"/><circle cx="511" cy="885" r="2.1"/><circle cx="652" cy="811" r="4.3"/><circle cx="606" cy="866" r="3.6"/><circle cx="670" cy="735" r="2.3"/><circle cx="585" cy="672" r="5.0"/><circle cx="520" cy="696" r="2.0"/><circle cx="523" cy="694" r="4.8"/><circle cx="586" cy="871" r="4.4"/><circle cx="625" cy="718" r="2.3"/><circle cx="566" cy="716" r="3.8"/><circle cx="569" cy="693" r="2.1"/><circle cx="624" cy="832" r="2.6"/><circle cx="547" cy="915" r="3.3"/><circle cx="677" cy="766" r="2.0"/><circle cx="596" cy="825" r="3.2"/><circle cx="626" cy="685" r="2.0"/><circle cx="530" cy="748" r="2.7"/><circle cx="607" cy="784" r="2.8"/><circle cx="658" cy="767" r="2.5"/><circle cx="679" cy="771" r="2.5"/><circle cx="480" cy="715" r="3.8"/><circle cx="616" cy="805" r="4.5"/><circle cx="511" cy="867" r="2.7"/><circle cx="467" cy="798" r="2.7"/><circle cx="625" cy="812" r="5.0"/><circle cx="689" cy="816" r="4.6"/><circle cx="467" cy="849" r="2.3"/><circle cx="587" cy="716" r="3.3"/><circle cx="630" cy="822" r="2.4"/><circle cx="638" cy="857" r="3.8"/><circle cx="531" cy="909" r="3.0"/><circle cx="571" cy="701" r="4.3"/><circle cx="619" cy="891" r="4.4"/><circle cx="571" cy="901" r="3.1"/><circle cx="504" cy="702" r="3.7"/><circle cx="553" cy="867" r="2.0"/><circle cx="596" cy="859" r="4.0"/><circle cx="567" cy="818" r="4.3"/><circle cx="609" cy="695" r="2.2"/><circle cx="684" cy="745" r="3.1"/><circle cx="471" cy="743" r="2.1"/><circle cx="494" cy="720" r="4.7"/><circle cx="606" cy="895" r="3.7"/><circle cx="549" cy="831" r="2.4"/><circle cx="577" cy="716" r="2.2"/><circle cx="570" cy="763" r="2.7"/><circle cx="563" cy="728" r="3.2"/><circle cx="606" cy="684" r="4.1"/><circle cx="580" cy="671" r="2.0"/><circle cx="522" cy="810" r="2.1"/><circle cx="487" cy="825" r="2.0"/><circle cx="656" cy="793" r="4.2"/><circle cx="607" cy="682" r="3.8"/><circle cx="672" cy="771" r="2.3"/><circle cx="474" cy="747" r="2.0"/><circle cx="676" cy="745" r="3.6"/><circle cx="633" cy="750" r="2.8"/><circle cx="570" cy="667" r="2.2"/><circle cx="479" cy="879" r="2.4"/><circle cx="634" cy="686" r="3.0"/><circle cx="487" cy="881" r="2.8"/><circle cx="633" cy="710" r="4.1"/><circle cx="500" cy="719" r="3.2"/><circle cx="567" cy="854" r="2.9"/><circle cx="567" cy="793" r="2.3"/><circle cx="640" cy="704" r="2.3"/><circle cx="570" cy="792" r="2.2"/><circle cx="554" cy="919" r="3.2"/><circle cx="655" cy="765" r="3.6"/><circle cx="474" cy="867" r="2.1"/><circle cx="672" cy="765" r="4.6"/><circle cx="578" cy="872" r="2.2"/><circle cx="661" cy="747" r="4.1"/><circle cx="671" cy="807" r="4.5"/><circle cx="617" cy="690" r="3.8"/><circle cx="696" cy="782" r="2.0"/><circle cx="520" cy="702" r="4.7"/><circle cx="575" cy="779" r="2.6"/></g>
<g fill="#5E68C4" fill-opacity="0.85"><circle cx="499" cy="722" r="5.0"/><circle cx="506" cy="686" r="2.6"/><circle cx="542" cy="868" r="2.3"/><circle cx="688" cy="822" r="2.4"/><circle cx="463" cy="785" r="2.6"/><circle cx="570" cy="805" r="4.0"/><circle cx="443" cy="791" r="2.0"/><circle cx="558" cy="844" r="4.5"/><circle cx="543" cy="781" r="3.8"/><circle cx="550" cy="821" r="2.0"/><circle cx="502" cy="787" r="2.1"/><circle cx="482" cy="723" r="2.1"/><circle cx="567" cy="836" r="4.5"/><circle cx="587" cy="673" r="4.4"/><circle cx="614" cy="754" r="2.0"/><circle cx="613" cy="910" r="2.2"/><circle cx="509" cy="896" r="2.0"/><circle cx="466" cy="804" r="2.1"/><circle cx="501" cy="862" r="2.5"/><circle cx="603" cy="902" r="2.5"/><circle cx="611" cy="693" r="5.0"/><circle cx="462" cy="853" r="2.5"/><circle cx="567" cy="910" r="4.9"/><circle cx="450" cy="773" r="3.4"/><circle cx="686" cy="828" r="2.4"/><circle cx="621" cy="695" r="3.9"/><circle cx="488" cy="723" r="2.6"/><circle cx="522" cy="906" r="2.0"/><circle cx="468" cy="815" r="4.0"/><circle cx="495" cy="743" r="3.1"/><circle cx="578" cy="692" r="2.6"/><circle cx="501" cy="878" r="2.1"/><circle cx="473" cy="854" r="2.0"/><circle cx="562" cy="797" r="2.6"/><circle cx="606" cy="900" r="2.7"/><circle cx="455" cy="834" r="3.6"/><circle cx="497" cy="712" r="2.0"/><circle cx="456" cy="743" r="4.4"/><circle cx="520" cy="692" r="3.5"/><circle cx="650" cy="733" r="2.3"/><circle cx="475" cy="833" r="3.1"/><circle cx="546" cy="684" r="3.3"/><circle cx="618" cy="700" r="2.5"/><circle cx="488" cy="840" r="2.7"/><circle cx="685" cy="789" r="5.0"/><circle cx="588" cy="912" r="4.1"/><circle cx="610" cy="787" r="3.2"/><circle cx="638" cy="701" r="3.1"/><circle cx="689" cy="793" r="3.7"/><circle cx="674" cy="772" r="3.2"/><circle cx="666" cy="743" r="3.8"/><circle cx="669" cy="846" r="3.2"/><circle cx="670" cy="753" r="3.1"/><circle cx="621" cy="770" r="5.1"/><circle cx="634" cy="693" r="2.2"/><circle cx="576" cy="681" r="3.5"/><circle cx="531" cy="751" r="3.6"/><circle cx="686" cy="847" r="2.1"/><circle cx="642" cy="813" r="4.7"/><circle cx="553" cy="691" r="2.4"/><circle cx="590" cy="735" r="3.0"/><circle cx="477" cy="831" r="3.5"/><circle cx="623" cy="832" r="2.3"/><circle cx="536" cy="867" r="4.9"/><circle cx="673" cy="844" r="2.2"/><circle cx="643" cy="809" r="2.4"/><circle cx="619" cy="836" r="2.0"/><circle cx="673" cy="843" r="5.1"/><circle cx="489" cy="883" r="2.6"/><circle cx="654" cy="747" r="2.4"/><circle cx="661" cy="717" r="2.9"/><circle cx="521" cy="792" r="2.0"/><circle cx="588" cy="668" r="2.3"/><circle cx="618" cy="886" r="2.1"/><circle cx="524" cy="854" r="3.8"/><circle cx="530" cy="732" r="2.7"/><circle cx="510" cy="771" r="4.1"/><circle cx="562" cy="709" r="2.6"/><circle cx="632" cy="767" r="2.6"/><circle cx="610" cy="693" r="2.2"/><circle cx="620" cy="870" r="2.7"/><circle cx="625" cy="785" r="3.5"/><circle cx="452" cy="795" r="4.3"/><circle cx="656" cy="852" r="3.2"/><circle cx="506" cy="750" r="5.0"/><circle cx="688" cy="784" r="2.5"/><circle cx="504" cy="705" r="2.5"/><circle cx="458" cy="791" r="2.0"/><circle cx="669" cy="831" r="2.1"/><circle cx="671" cy="810" r="2.7"/><circle cx="526" cy="700" r="4.6"/><circle cx="567" cy="806" r="3.5"/><circle cx="670" cy="840" r="4.2"/><circle cx="460" cy="831" r="3.0"/><circle cx="539" cy="899" r="2.1"/><circle cx="552" cy="686" r="4.9"/><circle cx="465" cy="855" r="2.6"/><circle cx="607" cy="871" r="2.5"/><circle cx="656" cy="885" r="4.1"/><circle cx="625" cy="908" r="4.2"/><circle cx="526" cy="905" r="2.2"/><circle cx="636" cy="836" r="2.4"/><circle cx="579" cy="920" r="2.2"/><circle cx="602" cy="907" r="3.5"/><circle cx="540" cy="909" r="2.4"/></g>
<g fill="#8A90D4" fill-opacity="0.7"><circle cx="693" cy="820" r="2.0"/><circle cx="517" cy="866" r="3.7"/><circle cx="462" cy="854" r="2.3"/><circle cx="452" cy="768" r="4.1"/><circle cx="595" cy="892" r="3.3"/><circle cx="531" cy="891" r="3.7"/><circle cx="679" cy="829" r="4.0"/><circle cx="647" cy="880" r="3.0"/><circle cx="634" cy="768" r="3.3"/><circle cx="480" cy="720" r="4.1"/><circle cx="516" cy="882" r="4.0"/><circle cx="555" cy="757" r="3.1"/><circle cx="643" cy="868" r="2.7"/><circle cx="513" cy="729" r="2.7"/><circle cx="528" cy="684" r="4.9"/><circle cx="604" cy="702" r="3.5"/><circle cx="464" cy="806" r="3.9"/><circle cx="516" cy="845" r="4.4"/><circle cx="646" cy="887" r="2.5"/><circle cx="450" cy="827" r="4.8"/><circle cx="484" cy="867" r="4.9"/><circle cx="648" cy="868" r="4.3"/><circle cx="553" cy="795" r="2.6"/><circle cx="582" cy="808" r="2.9"/><circle cx="608" cy="785" r="3.4"/><circle cx="679" cy="785" r="2.1"/><circle cx="670" cy="841" r="2.9"/><circle cx="519" cy="708" r="2.0"/><circle cx="559" cy="756" r="4.2"/><circle cx="662" cy="715" r="2.3"/><circle cx="483" cy="773" r="4.4"/><circle cx="624" cy="791" r="4.3"/><circle cx="646" cy="881" r="2.2"/><circle cx="674" cy="762" r="2.2"/><circle cx="515" cy="899" r="2.1"/><circle cx="676" cy="784" r="2.0"/><circle cx="513" cy="716" r="2.9"/><circle cx="643" cy="720" r="5.0"/><circle cx="460" cy="748" r="2.8"/><circle cx="692" cy="815" r="4.3"/><circle cx="688" cy="816" r="2.8"/><circle cx="552" cy="895" r="3.2"/><circle cx="668" cy="744" r="2.2"/><circle cx="650" cy="846" r="3.3"/><circle cx="457" cy="834" r="3.4"/><circle cx="532" cy="806" r="2.5"/><circle cx="644" cy="877" r="4.3"/><circle cx="577" cy="832" r="3.2"/><circle cx="565" cy="704" r="2.2"/><circle cx="574" cy="750" r="4.6"/><circle cx="449" cy="777" r="3.9"/><circle cx="464" cy="736" r="2.1"/><circle cx="618" cy="877" r="4.7"/><circle cx="622" cy="789" r="2.5"/><circle cx="502" cy="764" r="2.6"/><circle cx="445" cy="812" r="3.2"/><circle cx="505" cy="890" r="2.8"/><circle cx="453" cy="797" r="4.4"/><circle cx="647" cy="882" r="3.2"/><circle cx="547" cy="869" r="4.4"/><circle cx="589" cy="683" r="3.0"/><circle cx="584" cy="830" r="3.1"/><circle cx="488" cy="723" r="3.5"/><circle cx="624" cy="699" r="3.1"/><circle cx="656" cy="868" r="2.4"/><circle cx="586" cy="691" r="4.2"/><circle cx="588" cy="846" r="3.8"/><circle cx="479" cy="882" r="3.0"/><circle cx="545" cy="679" r="2.7"/><circle cx="456" cy="749" r="2.8"/><circle cx="495" cy="770" r="4.9"/><circle cx="472" cy="843" r="3.4"/><circle cx="656" cy="879" r="2.3"/><circle cx="606" cy="910" r="2.5"/><circle cx="467" cy="829" r="3.2"/><circle cx="680" cy="783" r="2.1"/><circle cx="526" cy="740" r="5.0"/><circle cx="659" cy="783" r="2.1"/><circle cx="508" cy="693" r="2.1"/><circle cx="562" cy="907" r="2.9"/><circle cx="443" cy="792" r="4.4"/><circle cx="686" cy="837" r="2.1"/><circle cx="675" cy="741" r="4.5"/><circle cx="562" cy="814" r="2.5"/><circle cx="465" cy="852" r="2.1"/><circle cx="582" cy="714" r="2.1"/><circle cx="574" cy="712" r="2.5"/><circle cx="571" cy="782" r="4.5"/><circle cx="569" cy="707" r="2.0"/><circle cx="681" cy="833" r="2.9"/><circle cx="619" cy="850" r="2.0"/><circle cx="597" cy="899" r="2.8"/><circle cx="605" cy="839" r="2.0"/><circle cx="495" cy="695" r="3.6"/><circle cx="621" cy="822" r="2.3"/><circle cx="643" cy="804" r="2.6"/><circle cx="499" cy="900" r="2.9"/><circle cx="550" cy="776" r="2.7"/><circle cx="681" cy="782" r="4.7"/><circle cx="589" cy="874" r="3.9"/><circle cx="668" cy="718" r="2.0"/><circle cx="467" cy="849" r="2.2"/><circle cx="454" cy="765" r="4.6"/><circle cx="509" cy="824" r="2.2"/><circle cx="635" cy="787" r="3.7"/><circle cx="641" cy="708" r="3.6"/><circle cx="526" cy="888" r="2.2"/><circle cx="603" cy="821" r="3.9"/><circle cx="631" cy="778" r="4.4"/><circle cx="552" cy="746" r="2.4"/><circle cx="635" cy="853" r="3.8"/><circle cx="565" cy="841" r="3.0"/><circle cx="590" cy="906" r="4.5"/><circle cx="471" cy="760" r="2.3"/><circle cx="563" cy="806" r="4.0"/><circle cx="598" cy="901" r="2.5"/><circle cx="576" cy="767" r="2.2"/><circle cx="646" cy="862" r="2.0"/><circle cx="548" cy="772" r="2.0"/><circle cx="484" cy="883" r="2.3"/><circle cx="532" cy="830" r="3.3"/><circle cx="657" cy="796" r="2.3"/><circle cx="609" cy="676" r="4.4"/><circle cx="516" cy="907" r="2.0"/><circle cx="517" cy="751" r="2.7"/><circle cx="675" cy="721" r="2.4"/><circle cx="556" cy="685" r="2.1"/><circle cx="501" cy="830" r="2.9"/><circle cx="574" cy="767" r="3.7"/><circle cx="682" cy="807" r="3.7"/><circle cx="573" cy="850" r="2.4"/><circle cx="598" cy="844" r="4.8"/><circle cx="612" cy="801" r="2.4"/><circle cx="582" cy="878" r="3.1"/><circle cx="684" cy="781" r="2.5"/></g>
<g fill="#5560BE" fill-opacity="0.9"><circle cx="516" cy="725" r="2.9"/><circle cx="650" cy="840" r="3.4"/><circle cx="552" cy="897" r="2.1"/><circle cx="520" cy="850" r="3.9"/><circle cx="612" cy="894" r="2.4"/><circle cx="486" cy="721" r="2.1"/><circle cx="464" cy="769" r="4.3"/><circle cx="554" cy="680" r="3.0"/><circle cx="644" cy="885" r="2.9"/><circle cx="670" cy="732" r="2.9"/><circle cx="606" cy="687" r="3.9"/><circle cx="533" cy="765" r="2.1"/><circle cx="602" cy="902" r="4.9"/><circle cx="458" cy="766" r="3.1"/><circle cx="506" cy="847" r="2.2"/><circle cx="464" cy="761" r="4.7"/><circle cx="478" cy="841" r="2.0"/><circle cx="676" cy="806" r="2.1"/><circle cx="600" cy="900" r="2.8"/><circle cx="547" cy="757" r="2.2"/><circle cx="667" cy="748" r="3.8"/><circle cx="656" cy="849" r="2.0"/><circle cx="493" cy="848" r="3.4"/><circle cx="493" cy="721" r="2.2"/><circle cx="615" cy="767" r="4.6"/><circle cx="638" cy="728" r="2.3"/><circle cx="548" cy="771" r="2.1"/><circle cx="494" cy="876" r="3.0"/><circle cx="531" cy="694" r="2.8"/><circle cx="608" cy="787" r="4.4"/><circle cx="579" cy="861" r="2.0"/><circle cx="587" cy="735" r="3.9"/><circle cx="485" cy="797" r="2.4"/><circle cx="630" cy="908" r="2.9"/><circle cx="555" cy="712" r="2.7"/><circle cx="543" cy="686" r="3.6"/><circle cx="696" cy="804" r="4.8"/><circle cx="529" cy="886" r="2.0"/><circle cx="556" cy="840" r="3.3"/><circle cx="497" cy="890" r="3.7"/><circle cx="527" cy="801" r="2.0"/><circle cx="555" cy="672" r="2.9"/><circle cx="608" cy="721" r="3.3"/><circle cx="467" cy="784" r="3.7"/><circle cx="474" cy="851" r="3.0"/><circle cx="530" cy="860" r="4.6"/><circle cx="532" cy="792" r="2.3"/><circle cx="469" cy="785" r="2.0"/><circle cx="540" cy="911" r="3.6"/><circle cx="624" cy="802" r="2.2"/><circle cx="681" cy="848" r="3.6"/><circle cx="515" cy="872" r="4.3"/><circle cx="600" cy="677" r="4.8"/><circle cx="574" cy="798" r="5.1"/><circle cx="669" cy="843" r="2.4"/><circle cx="494" cy="705" r="3.2"/><circle cx="694" cy="804" r="4.7"/><circle cx="686" cy="761" r="4.3"/><circle cx="671" cy="822" r="2.4"/><circle cx="533" cy="862" r="4.4"/><circle cx="520" cy="740" r="4.6"/><circle cx="553" cy="689" r="2.1"/><circle cx="477" cy="860" r="2.9"/><circle cx="571" cy="859" r="2.1"/><circle cx="545" cy="732" r="4.9"/><circle cx="467" cy="750" r="2.3"/><circle cx="620" cy="870" r="2.2"/><circle cx="671" cy="836" r="2.0"/><circle cx="647" cy="711" r="3.8"/><circle cx="617" cy="910" r="3.3"/><circle cx="618" cy="895" r="2.6"/><circle cx="483" cy="740" r="2.3"/><circle cx="610" cy="874" r="3.1"/><circle cx="646" cy="843" r="4.4"/><circle cx="546" cy="671" r="4.7"/><circle cx="596" cy="910" r="3.0"/><circle cx="660" cy="802" r="2.4"/><circle cx="647" cy="804" r="3.8"/><circle cx="605" cy="736" r="2.0"/><circle cx="625" cy="894" r="4.1"/><circle cx="539" cy="688" r="2.4"/><circle cx="525" cy="695" r="5.1"/><circle cx="495" cy="890" r="3.8"/><circle cx="642" cy="697" r="4.6"/><circle cx="529" cy="896" r="3.4"/><circle cx="580" cy="913" r="2.1"/><circle cx="625" cy="878" r="2.0"/><circle cx="464" cy="800" r="4.5"/><circle cx="600" cy="728" r="3.2"/><circle cx="686" cy="759" r="4.4"/><circle cx="537" cy="896" r="3.0"/><circle cx="650" cy="786" r="4.1"/><circle cx="456" cy="826" r="2.0"/><circle cx="510" cy="870" r="3.0"/><circle cx="674" cy="720" r="3.6"/><circle cx="489" cy="875" r="3.0"/><circle cx="633" cy="902" r="3.3"/><circle cx="544" cy="900" r="4.8"/><circle cx="464" cy="799" r="3.9"/><circle cx="584" cy="807" r="4.8"/><circle cx="558" cy="682" r="3.6"/><circle cx="617" cy="907" r="3.7"/><circle cx="632" cy="694" r="2.4"/><circle cx="654" cy="800" r="3.0"/><circle cx="580" cy="764" r="3.1"/><circle cx="538" cy="809" r="2.5"/><circle cx="607" cy="740" r="2.5"/><circle cx="667" cy="856" r="2.5"/><circle cx="515" cy="685" r="2.1"/><circle cx="602" cy="896" r="3.9"/><circle cx="590" cy="722" r="2.2"/><circle cx="561" cy="842" r="4.6"/><circle cx="559" cy="685" r="2.3"/><circle cx="505" cy="865" r="3.7"/><circle cx="518" cy="806" r="3.8"/><circle cx="500" cy="895" r="4.0"/><circle cx="500" cy="873" r="3.5"/><circle cx="646" cy="893" r="2.1"/><circle cx="680" cy="772" r="2.1"/><circle cx="666" cy="749" r="3.8"/><circle cx="455" cy="811" r="2.0"/><circle cx="571" cy="677" r="2.4"/></g>
</g></g>
<clipPath id="p13"><circle cx="880.1" cy="795.2" r="127.1"/></clipPath>
<circle cx="880.1" cy="795.2" r="128.0" fill="#D2D9D8" stroke="#9AA2A2" stroke-width="1.2"/>
<circle cx="880.1" cy="795.2" r="112.6" fill="#DCE3E2" stroke="#B4BCBC" stroke-width="1.4"/>
<g clip-path="url(#p13)"><g filter="url(#soft)">
<g fill="#6870C8" fill-opacity="0.85"><circle cx="972" cy="873" r="1.9"/><circle cx="867" cy="905" r="2.8"/><circle cx="989" cy="822" r="2.2"/><circle cx="860" cy="852" r="2.2"/><circle cx="854" cy="789" r="1.8"/><circle cx="763" cy="761" r="1.7"/><circle cx="987" cy="833" r="2.6"/><circle cx="848" cy="695" r="3.9"/><circle cx="766" cy="741" r="3.2"/><circle cx="884" cy="895" r="2.6"/><circle cx="772" cy="849" r="3.9"/><circle cx="830" cy="683" r="2.2"/><circle cx="842" cy="913" r="4.0"/><circle cx="807" cy="841" r="2.7"/><circle cx="795" cy="834" r="2.7"/><circle cx="814" cy="726" r="2.1"/><circle cx="877" cy="727" r="1.9"/><circle cx="839" cy="797" r="2.8"/><circle cx="908" cy="836" r="3.6"/><circle cx="843" cy="676" r="3.4"/><circle cx="774" cy="829" r="3.3"/><circle cx="957" cy="722" r="2.4"/><circle cx="799" cy="756" r="2.7"/><circle cx="785" cy="856" r="3.8"/><circle cx="950" cy="899" r="2.7"/><circle cx="989" cy="778" r="2.4"/><circle cx="854" cy="773" r="1.9"/><circle cx="975" cy="868" r="3.2"/><circle cx="876" cy="829" r="3.1"/><circle cx="946" cy="701" r="1.7"/><circle cx="809" cy="776" r="2.3"/><circle cx="975" cy="725" r="3.6"/><circle cx="985" cy="782" r="1.7"/><circle cx="846" cy="866" r="2.9"/><circle cx="909" cy="892" r="2.7"/><circle cx="943" cy="742" r="2.7"/><circle cx="932" cy="742" r="3.9"/><circle cx="855" cy="877" r="1.9"/><circle cx="991" cy="792" r="2.1"/><circle cx="879" cy="876" r="3.6"/><circle cx="831" cy="892" r="1.8"/><circle cx="897" cy="704" r="3.9"/><circle cx="827" cy="784" r="2.4"/><circle cx="957" cy="733" r="3.9"/><circle cx="753" cy="776" r="3.1"/><circle cx="812" cy="819" r="1.7"/><circle cx="915" cy="678" r="2.0"/><circle cx="949" cy="717" r="1.8"/><circle cx="814" cy="714" r="2.6"/><circle cx="855" cy="744" r="3.1"/><circle cx="766" cy="762" r="1.9"/><circle cx="844" cy="898" r="3.6"/><circle cx="765" cy="813" r="2.2"/><circle cx="942" cy="709" r="1.9"/><circle cx="904" cy="839" r="3.4"/><circle cx="786" cy="878" r="3.7"/><circle cx="896" cy="893" r="2.3"/><circle cx="806" cy="820" r="3.7"/><circle cx="906" cy="714" r="2.8"/><circle cx="852" cy="897" r="2.7"/><circle cx="752" cy="807" r="1.9"/><circle cx="812" cy="713" r="2.0"/><circle cx="935" cy="856" r="3.9"/><circle cx="872" cy="800" r="3.9"/><circle cx="844" cy="743" r="3.1"/><circle cx="937" cy="893" r="1.8"/><circle cx="776" cy="856" r="3.5"/><circle cx="853" cy="808" r="3.4"/><circle cx="939" cy="746" r="1.9"/><circle cx="917" cy="863" r="3.7"/><circle cx="935" cy="870" r="1.8"/><circle cx="847" cy="895" r="3.7"/><circle cx="795" cy="734" r="2.6"/><circle cx="774" cy="765" r="3.1"/><circle cx="859" cy="694" r="2.6"/><circle cx="930" cy="786" r="1.8"/><circle cx="933" cy="882" r="3.6"/><circle cx="940" cy="889" r="4.2"/><circle cx="816" cy="790" r="3.0"/><circle cx="912" cy="724" r="3.3"/><circle cx="937" cy="703" r="4.0"/><circle cx="981" cy="778" r="2.6"/><circle cx="903" cy="896" r="3.4"/><circle cx="843" cy="739" r="1.7"/><circle cx="892" cy="902" r="1.7"/><circle cx="807" cy="845" r="1.8"/><circle cx="797" cy="791" r="3.8"/><circle cx="841" cy="713" r="4.2"/><circle cx="840" cy="683" r="3.6"/><circle cx="769" cy="838" r="1.8"/><circle cx="859" cy="898" r="3.8"/><circle cx="982" cy="771" r="1.7"/><circle cx="986" cy="835" r="3.2"/><circle cx="771" cy="799" r="2.1"/><circle cx="884" cy="777" r="2.6"/><circle cx="960" cy="768" r="2.8"/><circle cx="987" cy="815" r="2.1"/></g>
<g fill="#7A80CE" fill-opacity="0.75"><circle cx="832" cy="685" r="3.7"/><circle cx="952" cy="718" r="2.9"/><circle cx="1001" cy="794" r="4.2"/><circle cx="914" cy="675" r="2.0"/><circle cx="834" cy="676" r="2.7"/><circle cx="773" cy="771" r="2.0"/><circle cx="787" cy="765" r="2.7"/><circle cx="980" cy="751" r="1.7"/><circle cx="965" cy="735" r="3.1"/><circle cx="773" cy="745" r="1.8"/><circle cx="913" cy="692" r="2.2"/><circle cx="928" cy="696" r="1.7"/><circle cx="958" cy="893" r="3.6"/><circle cx="781" cy="843" r="3.3"/><circle cx="995" cy="743" r="3.5"/><circle cx="989" cy="863" r="1.7"/><circle cx="981" cy="832" r="2.3"/><circle cx="1002" cy="768" r="1.9"/><circle cx="795" cy="842" r="3.2"/><circle cx="846" cy="673" r="2.9"/><circle cx="907" cy="866" r="1.8"/><circle cx="842" cy="819" r="1.9"/><circle cx="951" cy="835" r="1.9"/><circle cx="756" cy="785" r="2.4"/><circle cx="790" cy="763" r="1.8"/><circle cx="923" cy="907" r="3.8"/><circle cx="965" cy="829" r="3.5"/><circle cx="787" cy="846" r="4.0"/><circle cx="931" cy="887" r="2.4"/><circle cx="853" cy="777" r="2.2"/><circle cx="866" cy="670" r="2.2"/><circle cx="827" cy="686" r="4.2"/><circle cx="891" cy="696" r="3.8"/><circle cx="860" cy="711" r="3.5"/><circle cx="913" cy="782" r="1.7"/><circle cx="895" cy="674" r="3.0"/><circle cx="800" cy="709" r="1.7"/><circle cx="938" cy="764" r="2.7"/><circle cx="998" cy="773" r="2.1"/><circle cx="794" cy="850" r="3.0"/><circle cx="868" cy="850" r="3.6"/><circle cx="905" cy="785" r="3.3"/><circle cx="962" cy="805" r="2.0"/><circle cx="895" cy="846" r="3.3"/><circle cx="777" cy="834" r="2.2"/><circle cx="915" cy="807" r="3.2"/><circle cx="959" cy="878" r="2.5"/><circle cx="984" cy="821" r="3.8"/><circle cx="760" cy="813" r="1.8"/><circle cx="806" cy="831" r="2.0"/><circle cx="781" cy="826" r="2.1"/><circle cx="895" cy="901" r="2.0"/><circle cx="949" cy="861" r="3.7"/><circle cx="936" cy="716" r="2.1"/><circle cx="948" cy="778" r="4.2"/><circle cx="842" cy="855" r="3.8"/><circle cx="919" cy="734" r="4.2"/><circle cx="944" cy="734" r="1.9"/><circle cx="922" cy="694" r="1.7"/><circle cx="925" cy="886" r="1.7"/><circle cx="803" cy="734" r="1.9"/><circle cx="919" cy="713" r="3.1"/><circle cx="973" cy="832" r="3.6"/><circle cx="891" cy="922" r="2.2"/><circle cx="869" cy="890" r="2.2"/><circle cx="814" cy="782" r="2.3"/><circle cx="897" cy="727" r="1.7"/><circle cx="1007" cy="802" r="3.2"/><circle cx="969" cy="708" r="1.7"/><circle cx="775" cy="855" r="2.0"/><circle cx="987" cy="790" r="3.3"/><circle cx="845" cy="755" r="3.2"/><circle cx="950" cy="899" r="1.9"/><circle cx="772" cy="754" r="1.7"/><circle cx="764" cy="745" r="2.4"/><circle cx="978" cy="870" r="2.9"/><circle cx="885" cy="682" r="3.8"/><circle cx="896" cy="762" r="1.9"/><circle cx="816" cy="860" r="1.9"/><circle cx="928" cy="718" r="3.5"/><circle cx="791" cy="760" r="2.4"/><circle cx="948" cy="738" r="1.9"/><circle cx="873" cy="831" r="2.3"/><circle cx="978" cy="723" r="2.1"/><circle cx="862" cy="714" r="1.7"/><circle cx="974" cy="843" r="3.9"/><circle cx="882" cy="766" r="1.8"/><circle cx="798" cy="727" r="2.0"/><circle cx="802" cy="846" r="3.7"/><circle cx="960" cy="717" r="3.9"/><circle cx="847" cy="852" r="3.0"/><circle cx="960" cy="895" r="3.9"/><circle cx="952" cy="779" r="2.5"/><circle cx="813" cy="821" r="1.8"/><circle cx="860" cy="860" r="3.9"/><circle cx="948" cy="877" r="1.9"/><circle cx="998" cy="842" r="3.3"/><circle cx="847" cy="810" r="3.1"/><circle cx="767" cy="854" r="3.7"/><circle cx="863" cy="772" r="2.3"/><circle cx="964" cy="719" r="1.9"/><circle cx="894" cy="798" r="2.1"/><circle cx="948" cy="884" r="1.9"/><circle cx="860" cy="692" r="2.4"/></g>
<g fill="#5E68C4" fill-opacity="0.85"><circle cx="777" cy="751" r="2.3"/><circle cx="884" cy="731" r="2.1"/><circle cx="778" cy="778" r="1.8"/><circle cx="935" cy="721" r="1.7"/><circle cx="854" cy="735" r="3.7"/><circle cx="972" cy="746" r="3.0"/><circle cx="772" cy="756" r="2.1"/><circle cx="955" cy="896" r="1.7"/><circle cx="829" cy="684" r="1.7"/><circle cx="832" cy="781" r="2.0"/><circle cx="865" cy="693" r="1.7"/><circle cx="991" cy="793" r="2.4"/><circle cx="983" cy="752" r="1.9"/><circle cx="890" cy="667" r="2.5"/><circle cx="923" cy="828" r="2.8"/><circle cx="826" cy="700" r="2.8"/><circle cx="780" cy="788" r="3.4"/><circle cx="946" cy="881" r="2.1"/><circle cx="974" cy="856" r="3.4"/><circle cx="969" cy="736" r="1.7"/><circle cx="958" cy="805" r="3.4"/><circle cx="876" cy="822" r="2.3"/><circle cx="762" cy="822" r="1.9"/><circle cx="985" cy="767" r="2.1"/><circle cx="952" cy="850" r="2.6"/><circle cx="834" cy="691" r="2.3"/><circle cx="760" cy="810" r="1.7"/><circle cx="791" cy="866" r="3.5"/><circle cx="979" cy="873" r="1.9"/><circle cx="844" cy="854" r="3.7"/><circle cx="935" cy="753" r="2.7"/><circle cx="762" cy="774" r="2.3"/><circle cx="784" cy="845" r="3.5"/><circle cx="867" cy="855" r="1.9"/><circle cx="777" cy="816" r="4.0"/><circle cx="834" cy="701" r="1.7"/><circle cx="855" cy="763" r="3.1"/><circle cx="1005" cy="816" r="2.8"/><circle cx="850" cy="677" r="2.4"/><circle cx="865" cy="903" r="1.7"/><circle cx="979" cy="821" r="2.6"/><circle cx="975" cy="749" r="2.9"/><circle cx="868" cy="856" r="3.2"/><circle cx="993" cy="776" r="3.4"/><circle cx="857" cy="670" r="1.9"/><circle cx="960" cy="893" r="3.5"/><circle cx="794" cy="728" r="4.1"/><circle cx="1001" cy="793" r="2.4"/><circle cx="778" cy="747" r="3.0"/><circle cx="949" cy="704" r="1.7"/><circle cx="772" cy="830" r="3.8"/><circle cx="887" cy="908" r="3.5"/><circle cx="793" cy="813" r="2.0"/><circle cx="922" cy="785" r="1.7"/><circle cx="779" cy="763" r="4.1"/><circle cx="867" cy="813" r="3.7"/><circle cx="852" cy="752" r="2.4"/><circle cx="887" cy="917" r="2.1"/><circle cx="972" cy="874" r="2.7"/><circle cx="981" cy="823" r="2.5"/><circle cx="784" cy="755" r="2.3"/><circle cx="984" cy="747" r="1.7"/><circle cx="927" cy="891" r="2.6"/><circle cx="854" cy="901" r="2.0"/><circle cx="868" cy="756" r="2.9"/><circle cx="813" cy="854" r="4.2"/><circle cx="934" cy="696" r="1.9"/><circle cx="953" cy="900" r="4.0"/><circle cx="852" cy="804" r="1.9"/><circle cx="823" cy="810" r="2.2"/><circle cx="775" cy="813" r="2.3"/><circle cx="795" cy="846" r="3.3"/><circle cx="800" cy="836" r="4.0"/><circle cx="877" cy="678" r="1.8"/><circle cx="946" cy="902" r="2.5"/><circle cx="962" cy="743" r="1.7"/><circle cx="781" cy="735" r="2.0"/><circle cx="773" cy="748" r="1.8"/><circle cx="991" cy="788" r="1.8"/><circle cx="913" cy="693" r="3.6"/><circle cx="993" cy="831" r="2.0"/><circle cx="776" cy="732" r="3.1"/><circle cx="905" cy="861" r="1.7"/><circle cx="764" cy="838" r="2.5"/><circle cx="795" cy="711" r="1.7"/><circle cx="952" cy="876" r="2.4"/><circle cx="907" cy="766" r="3.7"/><circle cx="930" cy="688" r="2.7"/><circle cx="903" cy="817" r="3.4"/><circle cx="883" cy="912" r="2.7"/><circle cx="770" cy="808" r="2.1"/><circle cx="920" cy="816" r="1.8"/><circle cx="835" cy="685" r="4.0"/><circle cx="986" cy="768" r="1.9"/><circle cx="765" cy="805" r="2.4"/><circle cx="949" cy="842" r="3.6"/><circle cx="936" cy="898" r="2.3"/><circle cx="925" cy="678" r="3.8"/><circle cx="888" cy="669" r="1.8"/><circle cx="760" cy="813" r="1.7"/><circle cx="898" cy="898" r="1.9"/><circle cx="826" cy="879" r="1.7"/><circle cx="940" cy="749" r="2.2"/><circle cx="816" cy="819" r="1.9"/><circle cx="790" cy="708" r="1.7"/><circle cx="841" cy="899" r="2.1"/><circle cx="828" cy="710" r="1.9"/></g>
<g fill="#8A90D4" fill-opacity="0.7"><circle cx="906" cy="909" r="2.0"/><circle cx="974" cy="716" r="2.0"/><circle cx="817" cy="812" r="2.8"/><circle cx="838" cy="815" r="2.9"/><circle cx="779" cy="832" r="1.9"/><circle cx="915" cy="702" r="3.1"/><circle cx="969" cy="778" r="2.6"/><circle cx="889" cy="733" r="2.8"/><circle cx="757" cy="780" r="3.9"/><circle cx="994" cy="765" r="2.4"/><circle cx="995" cy="816" r="3.9"/><circle cx="764" cy="796" r="2.7"/><circle cx="757" cy="774" r="2.0"/><circle cx="964" cy="879" r="3.2"/><circle cx="911" cy="694" r="3.5"/><circle cx="788" cy="760" r="3.4"/><circle cx="778" cy="869" r="2.8"/><circle cx="803" cy="760" r="1.7"/><circle cx="757" cy="792" r="3.7"/><circle cx="892" cy="774" r="1.9"/><circle cx="808" cy="740" r="1.9"/><circle cx="912" cy="717" r="2.3"/><circle cx="991" cy="784" r="1.7"/><circle cx="811" cy="797" r="3.3"/><circle cx="833" cy="891" r="2.0"/><circle cx="829" cy="890" r="3.5"/><circle cx="851" cy="810" r="3.0"/><circle cx="963" cy="877" r="3.1"/><circle cx="813" cy="845" r="2.2"/><circle cx="851" cy="753" r="4.1"/><circle cx="919" cy="875" r="2.2"/><circle cx="1002" cy="824" r="3.5"/><circle cx="863" cy="862" r="1.9"/><circle cx="896" cy="875" r="1.8"/><circle cx="900" cy="870" r="2.7"/><circle cx="987" cy="795" r="3.2"/><circle cx="913" cy="907" r="2.5"/><circle cx="824" cy="853" r="3.1"/><circle cx="981" cy="769" r="2.4"/><circle cx="988" cy="792" r="3.0"/><circle cx="999" cy="755" r="1.7"/><circle cx="878" cy="900" r="2.2"/><circle cx="940" cy="815" r="3.2"/><circle cx="781" cy="731" r="2.0"/><circle cx="932" cy="891" r="4.1"/><circle cx="824" cy="898" r="2.5"/><circle cx="823" cy="698" r="3.9"/><circle cx="957" cy="857" r="3.8"/><circle cx="831" cy="690" r="1.8"/><circle cx="992" cy="744" r="3.2"/><circle cx="823" cy="816" r="2.9"/><circle cx="905" cy="888" r="2.7"/><circle cx="849" cy="684" r="4.1"/><circle cx="793" cy="862" r="2.9"/><circle cx="914" cy="750" r="1.7"/><circle cx="972" cy="843" r="1.8"/><circle cx="819" cy="830" r="2.1"/><circle cx="987" cy="845" r="2.2"/><circle cx="899" cy="871" r="2.1"/><circle cx="936" cy="906" r="2.1"/><circle cx="785" cy="710" r="2.3"/><circle cx="897" cy="910" r="1.7"/><circle cx="953" cy="815" r="2.5"/><circle cx="961" cy="886" r="3.3"/><circle cx="839" cy="813" r="3.3"/><circle cx="927" cy="887" r="3.5"/><circle cx="792" cy="764" r="4.1"/><circle cx="969" cy="703" r="3.1"/><circle cx="931" cy="699" r="1.8"/><circle cx="943" cy="705" r="3.9"/><circle cx="971" cy="717" r="1.7"/><circle cx="926" cy="805" r="1.9"/><circle cx="795" cy="745" r="2.3"/><circle cx="994" cy="836" r="2.3"/><circle cx="998" cy="797" r="3.3"/><circle cx="794" cy="869" r="1.9"/><circle cx="894" cy="849" r="1.8"/><circle cx="813" cy="781" r="3.6"/><circle cx="836" cy="798" r="2.2"/><circle cx="768" cy="830" r="2.1"/><circle cx="796" cy="815" r="1.7"/><circle cx="920" cy="802" r="1.9"/><circle cx="841" cy="882" r="3.3"/><circle cx="904" cy="701" r="4.1"/><circle cx="951" cy="700" r="2.2"/><circle cx="995" cy="817" r="2.4"/><circle cx="872" cy="811" r="4.1"/><circle cx="795" cy="753" r="1.7"/><circle cx="802" cy="797" r="2.3"/><circle cx="867" cy="683" r="4.2"/><circle cx="793" cy="723" r="1.8"/><circle cx="862" cy="779" r="2.6"/><circle cx="879" cy="743" r="2.3"/></g>
<g fill="#5560BE" fill-opacity="0.9"><circle cx="822" cy="710" r="2.1"/><circle cx="836" cy="755" r="2.7"/><circle cx="840" cy="798" r="2.8"/><circle cx="776" cy="773" r="3.5"/><circle cx="927" cy="675" r="2.3"/><circle cx="847" cy="897" r="2.6"/><circle cx="808" cy="697" r="2.3"/><circle cx="981" cy="728" r="3.0"/><circle cx="900" cy="836" r="1.7"/><circle cx="847" cy="692" r="3.5"/><circle cx="805" cy="723" r="2.6"/><circle cx="868" cy="858" r="2.7"/><circle cx="976" cy="760" r="3.5"/><circle cx="766" cy="835" r="3.2"/><circle cx="771" cy="729" r="2.4"/><circle cx="846" cy="677" r="3.8"/><circle cx="886" cy="825" r="2.2"/><circle cx="893" cy="731" r="2.2"/><circle cx="938" cy="706" r="2.1"/><circle cx="783" cy="850" r="3.8"/><circle cx="976" cy="723" r="3.9"/><circle cx="966" cy="733" r="3.9"/><circle cx="898" cy="707" r="3.8"/><circle cx="986" cy="816" r="4.0"/><circle cx="905" cy="787" r="2.0"/><circle cx="776" cy="847" r="3.6"/><circle cx="865" cy="910" r="2.8"/><circle cx="907" cy="914" r="1.8"/><circle cx="878" cy="917" r="2.8"/><circle cx="849" cy="850" r="1.7"/><circle cx="1004" cy="818" r="3.5"/><circle cx="1000" cy="766" r="2.5"/><circle cx="916" cy="850" r="4.2"/><circle cx="1006" cy="770" r="2.0"/><circle cx="983" cy="850" r="1.7"/><circle cx="881" cy="726" r="2.2"/><circle cx="834" cy="696" r="2.4"/><circle cx="996" cy="762" r="2.2"/><circle cx="845" cy="833" r="2.4"/><circle cx="843" cy="914" r="1.7"/><circle cx="886" cy="818" r="1.9"/><circle cx="977" cy="757" r="2.0"/><circle cx="973" cy="746" r="2.4"/><circle cx="854" cy="916" r="1.7"/><circle cx="791" cy="855" r="1.9"/><circle cx="973" cy="768" r="2.5"/><circle cx="811" cy="713" r="1.7"/><circle cx="922" cy="813" r="3.9"/><circle cx="763" cy="816" r="2.2"/><circle cx="812" cy="838" r="1.7"/><circle cx="981" cy="767" r="3.6"/><circle cx="927" cy="878" r="2.5"/><circle cx="953" cy="703" r="2.2"/><circle cx="935" cy="683" r="1.7"/><circle cx="834" cy="682" r="2.3"/><circle cx="931" cy="699" r="1.8"/><circle cx="799" cy="767" r="4.0"/><circle cx="928" cy="906" r="2.2"/><circle cx="869" cy="773" r="1.8"/><circle cx="919" cy="822" r="2.0"/><circle cx="948" cy="731" r="2.6"/><circle cx="976" cy="752" r="1.8"/><circle cx="939" cy="760" r="3.4"/><circle cx="905" cy="920" r="1.8"/><circle cx="827" cy="698" r="2.2"/><circle cx="832" cy="743" r="4.1"/><circle cx="948" cy="751" r="1.8"/><circle cx="851" cy="837" r="3.3"/><circle cx="851" cy="895" r="1.8"/><circle cx="877" cy="779" r="3.8"/><circle cx="909" cy="805" r="1.7"/><circle cx="890" cy="764" r="1.7"/><circle cx="821" cy="836" r="2.1"/><circle cx="865" cy="738" r="3.1"/><circle cx="885" cy="907" r="3.9"/><circle cx="831" cy="731" r="1.7"/><circle cx="898" cy="770" r="2.0"/><circle cx="928" cy="900" r="3.4"/><circle cx="960" cy="703" r="2.2"/><circle cx="925" cy="836" r="1.8"/><circle cx="935" cy="902" r="2.4"/><circle cx="946" cy="693" r="3.6"/><circle cx="975" cy="857" r="2.9"/><circle cx="914" cy="802" r="3.2"/><circle cx="888" cy="761" r="4.0"/><circle cx="769" cy="853" r="2.4"/><circle cx="784" cy="730" r="1.7"/><circle cx="828" cy="819" r="4.2"/><circle cx="888" cy="803" r="2.9"/><circle cx="796" cy="734" r="2.1"/><circle cx="785" cy="877" r="3.6"/><circle cx="988" cy="788" r="2.5"/><circle cx="960" cy="726" r="1.7"/><circle cx="813" cy="706" r="1.9"/><circle cx="988" cy="814" r="1.7"/><circle cx="884" cy="910" r="3.6"/><circle cx="923" cy="829" r="2.2"/><circle cx="956" cy="866" r="2.0"/><circle cx="943" cy="691" r="2.3"/></g>
</g></g>
<clipPath id="p21"><circle cx="261.6" cy="1061.6" r="126.5"/></clipPath>
<circle cx="261.6" cy="1061.6" r="127.4" fill="#CAD1D1" stroke="#9AA2A2" stroke-width="1.2"/>
<circle cx="259.6" cy="1066.6" r="105.0" fill="#DFE4E3" stroke="#B4BCBC" stroke-width="1.4"/>
<g clip-path="url(#p21)"><g filter="url(#soft)">
<g fill="#3344BC" fill-opacity="0.95"><circle cx="191" cy="1136" r="3.1"/><circle cx="339" cy="984" r="3.2"/><circle cx="365" cy="1126" r="4.0"/><circle cx="191" cy="1108" r="3.7"/><circle cx="256" cy="1050" r="4.6"/><circle cx="334" cy="1059" r="2.0"/><circle cx="215" cy="1103" r="2.8"/><circle cx="183" cy="1050" r="3.6"/><circle cx="338" cy="986" r="3.6"/><circle cx="298" cy="1152" r="1.9"/><circle cx="375" cy="1013" r="3.6"/><circle cx="381" cy="1075" r="3.1"/><circle cx="353" cy="986" r="1.9"/><circle cx="305" cy="945" r="4.4"/><circle cx="362" cy="991" r="3.0"/><circle cx="370" cy="994" r="4.6"/><circle cx="308" cy="1100" r="3.0"/><circle cx="263" cy="1099" r="3.2"/><circle cx="289" cy="951" r="4.5"/><circle cx="149" cy="1118" r="2.1"/><circle cx="221" cy="947" r="3.7"/><circle cx="277" cy="939" r="2.9"/><circle cx="219" cy="947" r="2.9"/><circle cx="311" cy="1150" r="3.8"/><circle cx="229" cy="1171" r="4.5"/><circle cx="322" cy="1167" r="3.0"/><circle cx="337" cy="1129" r="2.3"/><circle cx="212" cy="965" r="1.9"/><circle cx="356" cy="1130" r="4.7"/><circle cx="213" cy="1057" r="1.9"/><circle cx="164" cy="1122" r="3.3"/><circle cx="379" cy="1048" r="1.9"/><circle cx="278" cy="1183" r="4.0"/><circle cx="305" cy="1098" r="2.6"/><circle cx="349" cy="976" r="3.8"/><circle cx="337" cy="1035" r="2.7"/><circle cx="374" cy="1046" r="2.2"/><circle cx="257" cy="967" r="1.9"/><circle cx="192" cy="1005" r="2.5"/><circle cx="136" cy="1083" r="4.7"/><circle cx="178" cy="989" r="2.2"/><circle cx="321" cy="1168" r="3.6"/><circle cx="191" cy="1016" r="2.0"/><circle cx="150" cy="1096" r="2.3"/><circle cx="194" cy="1170" r="4.7"/><circle cx="202" cy="1036" r="2.0"/><circle cx="222" cy="1141" r="2.8"/><circle cx="145" cy="1099" r="3.6"/><circle cx="304" cy="944" r="2.3"/><circle cx="164" cy="1008" r="2.5"/><circle cx="364" cy="1080" r="2.0"/><circle cx="161" cy="1063" r="2.2"/><circle cx="279" cy="1164" r="2.5"/><circle cx="166" cy="1103" r="4.8"/><circle cx="168" cy="1021" r="2.8"/><circle cx="294" cy="1168" r="2.4"/><circle cx="321" cy="1107" r="4.1"/><circle cx="343" cy="1052" r="4.7"/><circle cx="182" cy="993" r="2.0"/><circle cx="284" cy="1110" r="3.6"/><circle cx="182" cy="969" r="4.0"/><circle cx="266" cy="952" r="4.5"/><circle cx="357" cy="1110" r="3.1"/><circle cx="265" cy="1008" r="2.6"/><circle cx="302" cy="944" r="2.8"/><circle cx="300" cy="992" r="2.6"/><circle cx="273" cy="950" r="4.2"/><circle cx="357" cy="1135" r="2.3"/><circle cx="288" cy="1168" r="3.0"/><circle cx="260" cy="949" r="2.3"/><circle cx="316" cy="1126" r="4.7"/><circle cx="297" cy="1039" r="2.1"/><circle cx="142" cy="1101" r="2.0"/><circle cx="280" cy="1103" r="2.8"/><circle cx="371" cy="1118" r="2.0"/><circle cx="147" cy="1048" r="2.7"/><circle cx="248" cy="1029" r="4.5"/><circle cx="343" cy="1148" r="4.2"/><circle cx="353" cy="1142" r="4.0"/><circle cx="364" cy="1118" r="4.0"/><circle cx="160" cy="1085" r="2.5"/><circle cx="352" cy="1118" r="4.0"/><circle cx="380" cy="1093" r="3.9"/><circle cx="231" cy="1061" r="3.3"/><circle cx="332" cy="1062" r="3.7"/><circle cx="287" cy="982" r="2.0"/><circle cx="209" cy="985" r="4.5"/><circle cx="259" cy="1164" r="1.9"/></g>
<g fill="#3B4CC0" fill-opacity="0.9"><circle cx="182" cy="972" r="2.8"/><circle cx="209" cy="1141" r="2.8"/><circle cx="299" cy="982" r="1.9"/><circle cx="193" cy="995" r="2.1"/><circle cx="214" cy="967" r="4.4"/><circle cx="263" cy="1140" r="4.3"/><circle cx="339" cy="980" r="3.4"/><circle cx="318" cy="1129" r="3.1"/><circle cx="371" cy="1033" r="4.4"/><circle cx="305" cy="1165" r="3.3"/><circle cx="188" cy="1029" r="4.2"/><circle cx="220" cy="1024" r="2.4"/><circle cx="187" cy="1138" r="3.2"/><circle cx="199" cy="1005" r="2.3"/><circle cx="344" cy="1120" r="4.7"/><circle cx="148" cy="1040" r="1.9"/><circle cx="378" cy="1054" r="3.4"/><circle cx="141" cy="1051" r="2.0"/><circle cx="164" cy="1084" r="2.8"/><circle cx="252" cy="947" r="3.7"/><circle cx="345" cy="1092" r="2.5"/><circle cx="368" cy="1118" r="2.3"/><circle cx="164" cy="989" r="2.9"/><circle cx="163" cy="1089" r="2.9"/><circle cx="299" cy="1012" r="4.4"/><circle cx="261" cy="940" r="2.4"/><circle cx="204" cy="1170" r="2.4"/><circle cx="287" cy="1144" r="1.9"/><circle cx="293" cy="1093" r="3.6"/><circle cx="354" cy="1121" r="2.4"/><circle cx="365" cy="1037" r="1.9"/><circle cx="319" cy="1015" r="4.1"/><circle cx="292" cy="957" r="3.2"/><circle cx="355" cy="988" r="4.0"/><circle cx="364" cy="1018" r="2.4"/><circle cx="214" cy="1038" r="3.0"/><circle cx="225" cy="1166" r="2.7"/><circle cx="201" cy="1035" r="3.3"/><circle cx="287" cy="1075" r="2.1"/><circle cx="158" cy="1034" r="4.6"/><circle cx="168" cy="1133" r="3.3"/><circle cx="257" cy="1077" r="2.5"/><circle cx="318" cy="993" r="3.2"/><circle cx="236" cy="1136" r="3.9"/><circle cx="169" cy="1148" r="3.3"/><circle cx="192" cy="1166" r="3.4"/><circle cx="332" cy="1037" r="4.4"/><circle cx="258" cy="1123" r="3.9"/><circle cx="335" cy="1142" r="3.2"/><circle cx="276" cy="1093" r="4.1"/><circle cx="279" cy="1164" r="4.5"/><circle cx="150" cy="1074" r="1.9"/><circle cx="145" cy="1111" r="3.5"/><circle cx="307" cy="1172" r="3.2"/><circle cx="137" cy="1069" r="3.2"/><circle cx="203" cy="986" r="2.4"/><circle cx="331" cy="1150" r="1.9"/><circle cx="295" cy="945" r="2.1"/><circle cx="244" cy="1164" r="3.0"/><circle cx="188" cy="1092" r="2.0"/><circle cx="195" cy="977" r="2.0"/><circle cx="347" cy="1155" r="1.9"/><circle cx="303" cy="949" r="2.1"/><circle cx="342" cy="1158" r="2.2"/><circle cx="384" cy="1069" r="3.9"/><circle cx="208" cy="1157" r="3.0"/><circle cx="192" cy="1102" r="4.1"/><circle cx="199" cy="1057" r="2.6"/><circle cx="346" cy="1137" r="3.2"/><circle cx="164" cy="983" r="2.7"/><circle cx="373" cy="1002" r="3.8"/><circle cx="300" cy="1057" r="2.6"/><circle cx="365" cy="1017" r="1.9"/><circle cx="244" cy="1036" r="4.5"/><circle cx="298" cy="1080" r="1.9"/><circle cx="235" cy="1073" r="2.7"/><circle cx="274" cy="1003" r="4.3"/><circle cx="284" cy="956" r="2.0"/><circle cx="318" cy="1005" r="2.6"/><circle cx="232" cy="1176" r="4.2"/><circle cx="152" cy="1049" r="2.0"/><circle cx="383" cy="1058" r="3.6"/><circle cx="280" cy="1101" r="3.0"/><circle cx="165" cy="1110" r="2.6"/><circle cx="203" cy="1133" r="2.9"/><circle cx="141" cy="1094" r="2.6"/><circle cx="270" cy="1128" r="2.4"/><circle cx="157" cy="1126" r="4.7"/><circle cx="347" cy="1086" r="2.2"/><circle cx="301" cy="951" r="4.4"/><circle cx="286" cy="1038" r="4.5"/><circle cx="341" cy="1049" r="2.6"/><circle cx="226" cy="964" r="2.2"/><circle cx="220" cy="1096" r="3.3"/><circle cx="340" cy="994" r="2.5"/><circle cx="221" cy="1181" r="3.1"/><circle cx="233" cy="944" r="2.0"/><circle cx="339" cy="987" r="2.0"/><circle cx="281" cy="948" r="4.0"/><circle cx="366" cy="1012" r="2.4"/><circle cx="242" cy="1071" r="4.5"/><circle cx="168" cy="1054" r="3.2"/></g>
<g fill="#2C3CB2" fill-opacity="1.0"><circle cx="229" cy="973" r="3.4"/><circle cx="357" cy="980" r="2.6"/><circle cx="224" cy="1144" r="2.8"/><circle cx="204" cy="1163" r="3.8"/><circle cx="385" cy="1031" r="3.2"/><circle cx="346" cy="1036" r="4.4"/><circle cx="241" cy="1165" r="2.3"/><circle cx="325" cy="1172" r="2.7"/><circle cx="163" cy="1033" r="2.0"/><circle cx="322" cy="1148" r="2.0"/><circle cx="311" cy="969" r="2.5"/><circle cx="365" cy="1031" r="2.6"/><circle cx="336" cy="1033" r="4.5"/><circle cx="141" cy="1018" r="3.9"/><circle cx="211" cy="1025" r="2.4"/><circle cx="278" cy="1042" r="2.1"/><circle cx="260" cy="1096" r="2.0"/><circle cx="250" cy="1185" r="3.5"/><circle cx="200" cy="1165" r="3.4"/><circle cx="176" cy="1061" r="4.7"/><circle cx="246" cy="1042" r="3.9"/><circle cx="155" cy="1041" r="2.0"/><circle cx="254" cy="1151" r="4.5"/><circle cx="162" cy="1078" r="3.0"/><circle cx="359" cy="990" r="2.1"/><circle cx="352" cy="1138" r="2.9"/><circle cx="228" cy="955" r="4.1"/><circle cx="351" cy="979" r="2.2"/><circle cx="276" cy="996" r="1.9"/><circle cx="339" cy="1158" r="4.5"/><circle cx="174" cy="1132" r="3.7"/><circle cx="184" cy="1104" r="2.2"/><circle cx="339" cy="1001" r="1.9"/><circle cx="137" cy="1038" r="2.9"/><circle cx="274" cy="1186" r="2.1"/><circle cx="320" cy="1169" r="3.1"/><circle cx="183" cy="1086" r="2.8"/><circle cx="163" cy="1012" r="2.2"/><circle cx="293" cy="1058" r="3.7"/><circle cx="216" cy="1014" r="1.9"/><circle cx="187" cy="1074" r="3.9"/><circle cx="211" cy="1052" r="2.8"/><circle cx="164" cy="1116" r="4.6"/><circle cx="314" cy="1004" r="3.2"/><circle cx="267" cy="1039" r="2.2"/><circle cx="180" cy="1115" r="3.4"/><circle cx="235" cy="1110" r="2.7"/><circle cx="215" cy="1078" r="3.1"/><circle cx="340" cy="1112" r="4.2"/><circle cx="165" cy="1111" r="2.0"/><circle cx="203" cy="970" r="4.0"/><circle cx="191" cy="1092" r="2.3"/><circle cx="222" cy="1055" r="2.0"/><circle cx="145" cy="1095" r="3.1"/><circle cx="374" cy="1096" r="2.7"/><circle cx="181" cy="997" r="3.1"/><circle cx="182" cy="1082" r="3.9"/><circle cx="272" cy="1089" r="3.2"/><circle cx="249" cy="1170" r="3.6"/><circle cx="370" cy="1122" r="2.0"/><circle cx="302" cy="1031" r="3.9"/><circle cx="317" cy="988" r="1.9"/><circle cx="265" cy="1138" r="2.6"/><circle cx="223" cy="1088" r="4.1"/><circle cx="241" cy="1097" r="4.6"/><circle cx="146" cy="1035" r="2.1"/><circle cx="175" cy="1099" r="2.4"/><circle cx="348" cy="1087" r="2.1"/><circle cx="191" cy="1142" r="4.4"/><circle cx="238" cy="976" r="2.1"/><circle cx="360" cy="1101" r="2.4"/><circle cx="249" cy="1159" r="2.3"/><circle cx="360" cy="1104" r="3.6"/><circle cx="328" cy="972" r="2.2"/><circle cx="205" cy="1026" r="1.9"/><circle cx="236" cy="953" r="3.2"/><circle cx="353" cy="993" r="3.4"/><circle cx="349" cy="1145" r="2.9"/><circle cx="313" cy="968" r="3.0"/><circle cx="235" cy="1105" r="2.2"/><circle cx="185" cy="962" r="2.0"/><circle cx="356" cy="1071" r="3.3"/><circle cx="302" cy="993" r="3.8"/><circle cx="292" cy="966" r="3.7"/><circle cx="138" cy="1046" r="2.2"/><circle cx="211" cy="1116" r="3.0"/><circle cx="340" cy="1019" r="3.1"/><circle cx="179" cy="1023" r="4.0"/><circle cx="343" cy="970" r="3.0"/><circle cx="303" cy="1050" r="3.5"/><circle cx="374" cy="1039" r="2.3"/><circle cx="310" cy="946" r="3.5"/><circle cx="149" cy="1093" r="3.7"/><circle cx="225" cy="1136" r="4.7"/></g>
<g fill="#4A5AC4" fill-opacity="0.85"><circle cx="369" cy="1004" r="3.5"/><circle cx="230" cy="1049" r="3.0"/><circle cx="241" cy="959" r="4.8"/><circle cx="356" cy="1012" r="2.1"/><circle cx="260" cy="1091" r="2.3"/><circle cx="262" cy="1172" r="4.6"/><circle cx="174" cy="978" r="2.1"/><circle cx="290" cy="953" r="1.9"/><circle cx="215" cy="1172" r="1.9"/><circle cx="370" cy="1113" r="1.9"/><circle cx="169" cy="1003" r="2.6"/><circle cx="265" cy="1167" r="4.5"/><circle cx="250" cy="1096" r="4.6"/><circle cx="241" cy="1178" r="2.5"/><circle cx="168" cy="1132" r="2.7"/><circle cx="165" cy="985" r="3.3"/><circle cx="158" cy="1065" r="3.5"/><circle cx="357" cy="1017" r="3.0"/><circle cx="363" cy="1075" r="2.5"/><circle cx="177" cy="989" r="3.2"/><circle cx="308" cy="1040" r="3.0"/><circle cx="203" cy="1089" r="2.5"/><circle cx="323" cy="1130" r="3.8"/><circle cx="236" cy="1183" r="2.2"/><circle cx="279" cy="1056" r="2.0"/><circle cx="305" cy="944" r="3.5"/><circle cx="244" cy="1108" r="2.0"/><circle cx="242" cy="1042" r="3.2"/><circle cx="263" cy="1187" r="2.4"/><circle cx="325" cy="1060" r="2.4"/><circle cx="155" cy="1052" r="4.7"/><circle cx="347" cy="1118" r="2.7"/><circle cx="158" cy="1125" r="2.4"/><circle cx="298" cy="1053" r="4.5"/><circle cx="312" cy="1175" r="3.6"/><circle cx="180" cy="975" r="1.9"/><circle cx="374" cy="1050" r="4.2"/><circle cx="250" cy="1182" r="3.8"/><circle cx="187" cy="975" r="3.3"/><circle cx="255" cy="1165" r="3.6"/><circle cx="197" cy="970" r="3.0"/><circle cx="152" cy="1116" r="3.9"/><circle cx="237" cy="1176" r="4.1"/><circle cx="139" cy="1085" r="3.9"/><circle cx="369" cy="1118" r="2.5"/><circle cx="278" cy="1016" r="2.6"/><circle cx="266" cy="1178" r="2.8"/><circle cx="295" cy="1111" r="2.8"/><circle cx="138" cy="1048" r="1.9"/><circle cx="145" cy="1059" r="2.4"/><circle cx="329" cy="1069" r="2.2"/><circle cx="343" cy="964" r="2.5"/><circle cx="264" cy="1008" r="2.5"/><circle cx="349" cy="1154" r="4.4"/><circle cx="248" cy="994" r="3.0"/><circle cx="301" cy="1038" r="3.2"/><circle cx="195" cy="1170" r="1.9"/><circle cx="260" cy="1054" r="3.3"/><circle cx="241" cy="1054" r="4.2"/><circle cx="290" cy="1085" r="2.0"/><circle cx="373" cy="1032" r="3.2"/><circle cx="150" cy="1033" r="2.4"/><circle cx="264" cy="1062" r="3.8"/><circle cx="145" cy="1097" r="3.6"/><circle cx="363" cy="1138" r="4.7"/><circle cx="319" cy="1087" r="3.1"/><circle cx="307" cy="968" r="1.9"/><circle cx="311" cy="958" r="2.1"/><circle cx="265" cy="957" r="2.4"/><circle cx="296" cy="1019" r="2.5"/><circle cx="344" cy="1143" r="3.5"/><circle cx="227" cy="948" r="3.8"/><circle cx="210" cy="1008" r="4.6"/><circle cx="215" cy="1090" r="3.9"/><circle cx="363" cy="1106" r="2.7"/><circle cx="138" cy="1041" r="2.4"/><circle cx="367" cy="1124" r="3.7"/><circle cx="254" cy="953" r="2.9"/><circle cx="222" cy="1022" r="4.1"/><circle cx="369" cy="1114" r="3.8"/><circle cx="188" cy="1136" r="3.7"/><circle cx="283" cy="1102" r="3.2"/><circle cx="277" cy="989" r="2.8"/><circle cx="229" cy="1082" r="2.4"/><circle cx="371" cy="1106" r="3.7"/><circle cx="304" cy="1011" r="1.9"/><circle cx="171" cy="1121" r="2.0"/><circle cx="182" cy="1157" r="4.0"/><circle cx="262" cy="1173" r="2.3"/><circle cx="330" cy="959" r="3.7"/><circle cx="262" cy="981" r="3.0"/><circle cx="374" cy="1011" r="2.2"/><circle cx="336" cy="1144" r="3.6"/><circle cx="311" cy="982" r="4.4"/><circle cx="279" cy="1008" r="2.9"/><circle cx="270" cy="1028" r="3.1"/></g>
<g fill="#5A68C8" fill-opacity="0.75"><circle cx="347" cy="1041" r="2.1"/><circle cx="362" cy="983" r="3.8"/><circle cx="177" cy="1001" r="2.9"/><circle cx="152" cy="1076" r="2.2"/><circle cx="165" cy="990" r="2.6"/><circle cx="267" cy="940" r="3.2"/><circle cx="382" cy="1054" r="4.0"/><circle cx="169" cy="1034" r="1.9"/><circle cx="215" cy="1179" r="3.6"/><circle cx="298" cy="967" r="4.7"/><circle cx="251" cy="1047" r="2.7"/><circle cx="267" cy="960" r="3.4"/><circle cx="298" cy="1008" r="2.0"/><circle cx="373" cy="1064" r="2.1"/><circle cx="266" cy="1182" r="3.1"/><circle cx="319" cy="1076" r="2.4"/><circle cx="256" cy="952" r="2.1"/><circle cx="342" cy="1063" r="3.4"/><circle cx="142" cy="1094" r="2.8"/><circle cx="195" cy="1117" r="3.3"/><circle cx="323" cy="1123" r="4.4"/><circle cx="351" cy="989" r="3.8"/><circle cx="261" cy="1033" r="4.1"/><circle cx="241" cy="950" r="1.9"/><circle cx="231" cy="1177" r="3.8"/><circle cx="364" cy="998" r="1.9"/><circle cx="263" cy="1050" r="4.8"/><circle cx="174" cy="1053" r="2.2"/><circle cx="218" cy="958" r="2.4"/><circle cx="195" cy="1061" r="1.9"/><circle cx="223" cy="952" r="2.9"/><circle cx="368" cy="999" r="1.9"/><circle cx="136" cy="1051" r="2.8"/><circle cx="376" cy="1100" r="3.2"/><circle cx="342" cy="1145" r="4.7"/><circle cx="145" cy="1053" r="2.0"/><circle cx="253" cy="935" r="2.4"/><circle cx="238" cy="1017" r="2.7"/><circle cx="227" cy="991" r="3.9"/><circle cx="212" cy="965" r="2.7"/><circle cx="276" cy="1110" r="2.7"/><circle cx="191" cy="989" r="4.8"/><circle cx="195" cy="1145" r="2.6"/><circle cx="302" cy="1025" r="2.0"/><circle cx="216" cy="1145" r="2.9"/><circle cx="271" cy="1106" r="3.9"/><circle cx="251" cy="984" r="3.1"/><circle cx="361" cy="1140" r="2.1"/><circle cx="326" cy="973" r="2.3"/><circle cx="201" cy="957" r="2.4"/><circle cx="203" cy="1102" r="2.9"/><circle cx="198" cy="1126" r="4.0"/><circle cx="136" cy="1085" r="3.2"/><circle cx="375" cy="1045" r="4.7"/><circle cx="386" cy="1080" r="1.9"/><circle cx="325" cy="1154" r="2.7"/><circle cx="237" cy="1092" r="4.5"/><circle cx="321" cy="1124" r="3.0"/><circle cx="274" cy="1021" r="3.1"/><circle cx="212" cy="1074" r="4.2"/><circle cx="156" cy="1007" r="4.6"/><circle cx="264" cy="999" r="3.7"/><circle cx="323" cy="1099" r="4.7"/><circle cx="140" cy="1041" r="2.1"/><circle cx="329" cy="1089" r="1.9"/><circle cx="383" cy="1098" r="4.1"/><circle cx="242" cy="960" r="2.7"/><circle cx="146" cy="1022" r="2.3"/><circle cx="144" cy="1016" r="2.0"/><circle cx="256" cy="935" r="4.1"/><circle cx="209" cy="984" r="2.2"/><circle cx="193" cy="1057" r="4.4"/><circle cx="247" cy="951" r="2.9"/><circle cx="368" cy="1042" r="4.4"/><circle cx="320" cy="1160" r="3.4"/><circle cx="251" cy="964" r="2.7"/><circle cx="153" cy="1083" r="4.7"/><circle cx="295" cy="1173" r="2.0"/><circle cx="302" cy="947" r="3.1"/><circle cx="336" cy="1020" r="4.4"/></g>
</g></g>
<clipPath id="p22"><circle cx="571.6" cy="1062.0" r="126.8"/></clipPath>
<circle cx="571.6" cy="1062.0" r="127.7" fill="#CAD1D1" stroke="#9AA2A2" stroke-width="1.2"/>
<circle cx="567.6" cy="1065.0" r="107.3" fill="#DFE4E3" stroke="#B4BCBC" stroke-width="1.4"/>
<g clip-path="url(#p22)"><g filter="url(#soft)">
<g fill="#2434A8" fill-opacity="1.0"><circle cx="651" cy="986" r="5.5"/><circle cx="540" cy="943" r="2.7"/><circle cx="681" cy="1050" r="6.5"/><circle cx="589" cy="1103" r="3.4"/><circle cx="653" cy="1099" r="2.7"/><circle cx="554" cy="1079" r="5.8"/><circle cx="579" cy="1126" r="3.1"/><circle cx="618" cy="1180" r="3.6"/><circle cx="607" cy="1160" r="2.9"/><circle cx="590" cy="1056" r="4.9"/><circle cx="493" cy="987" r="6.2"/><circle cx="504" cy="1143" r="3.2"/><circle cx="596" cy="1026" r="5.3"/><circle cx="496" cy="975" r="4.6"/><circle cx="594" cy="989" r="3.5"/><circle cx="651" cy="1017" r="3.6"/><circle cx="494" cy="995" r="3.5"/><circle cx="615" cy="1137" r="2.7"/><circle cx="560" cy="958" r="3.5"/><circle cx="547" cy="1185" r="6.1"/><circle cx="584" cy="1078" r="3.3"/><circle cx="686" cy="1010" r="3.0"/><circle cx="540" cy="1175" r="2.8"/><circle cx="567" cy="1115" r="3.3"/><circle cx="552" cy="1187" r="3.3"/><circle cx="535" cy="1082" r="5.7"/><circle cx="622" cy="1158" r="5.0"/><circle cx="474" cy="1016" r="3.5"/><circle cx="575" cy="987" r="5.9"/><circle cx="569" cy="1091" r="3.5"/><circle cx="518" cy="1062" r="4.9"/><circle cx="599" cy="1125" r="3.8"/><circle cx="609" cy="1120" r="6.0"/><circle cx="682" cy="1094" r="6.7"/><circle cx="454" cy="1074" r="5.5"/><circle cx="646" cy="1013" r="5.3"/><circle cx="521" cy="972" r="6.1"/><circle cx="479" cy="1140" r="3.2"/><circle cx="666" cy="1020" r="2.7"/><circle cx="589" cy="1065" r="3.3"/><circle cx="675" cy="991" r="2.7"/><circle cx="486" cy="1128" r="3.2"/><circle cx="454" cy="1106" r="5.1"/><circle cx="555" cy="1012" r="2.7"/><circle cx="552" cy="1092" r="5.6"/><circle cx="517" cy="1092" r="3.8"/><circle cx="481" cy="972" r="2.7"/><circle cx="637" cy="1150" r="5.1"/><circle cx="591" cy="1184" r="5.0"/><circle cx="465" cy="1111" r="2.7"/><circle cx="657" cy="1079" r="4.3"/><circle cx="682" cy="1021" r="5.1"/><circle cx="653" cy="1062" r="3.8"/><circle cx="675" cy="1081" r="3.3"/><circle cx="494" cy="1134" r="3.2"/><circle cx="470" cy="1061" r="2.7"/><circle cx="588" cy="1048" r="2.8"/><circle cx="550" cy="1157" r="5.9"/><circle cx="519" cy="1118" r="5.2"/><circle cx="488" cy="988" r="5.3"/><circle cx="477" cy="987" r="4.9"/><circle cx="525" cy="1021" r="6.7"/><circle cx="546" cy="1070" r="2.9"/><circle cx="636" cy="1027" r="2.8"/><circle cx="656" cy="982" r="4.2"/><circle cx="582" cy="995" r="4.8"/><circle cx="539" cy="980" r="3.3"/><circle cx="561" cy="1141" r="4.3"/><circle cx="681" cy="1085" r="5.7"/><circle cx="511" cy="978" r="4.9"/><circle cx="496" cy="1052" r="2.7"/><circle cx="577" cy="1149" r="4.6"/><circle cx="499" cy="966" r="6.3"/><circle cx="667" cy="1077" r="2.9"/><circle cx="497" cy="1024" r="6.3"/><circle cx="454" cy="1093" r="4.0"/></g>
<g fill="#2A3AAE" fill-opacity="0.95"><circle cx="619" cy="1069" r="6.8"/><circle cx="503" cy="1110" r="6.3"/><circle cx="638" cy="1108" r="6.1"/><circle cx="620" cy="1163" r="6.2"/><circle cx="593" cy="1086" r="5.4"/><circle cx="585" cy="1100" r="2.8"/><circle cx="610" cy="1159" r="4.9"/><circle cx="642" cy="1087" r="4.1"/><circle cx="600" cy="960" r="2.7"/><circle cx="527" cy="1155" r="3.2"/><circle cx="628" cy="950" r="6.3"/><circle cx="506" cy="1044" r="2.7"/><circle cx="482" cy="1095" r="3.1"/><circle cx="519" cy="1093" r="2.8"/><circle cx="529" cy="1172" r="5.4"/><circle cx="499" cy="1138" r="3.9"/><circle cx="477" cy="1012" r="3.0"/><circle cx="647" cy="1075" r="3.9"/><circle cx="651" cy="1160" r="3.7"/><circle cx="546" cy="1098" r="2.8"/><circle cx="632" cy="1173" r="3.1"/><circle cx="475" cy="983" r="3.4"/><circle cx="597" cy="940" r="2.6"/><circle cx="655" cy="1089" r="2.9"/><circle cx="672" cy="1092" r="2.7"/><circle cx="501" cy="990" r="6.3"/><circle cx="476" cy="996" r="4.3"/><circle cx="538" cy="1159" r="4.1"/><circle cx="550" cy="1122" r="4.1"/><circle cx="518" cy="1026" r="4.2"/><circle cx="459" cy="1116" r="4.2"/><circle cx="550" cy="1145" r="4.1"/><circle cx="489" cy="1059" r="6.0"/><circle cx="483" cy="1125" r="2.7"/><circle cx="634" cy="1019" r="4.6"/><circle cx="479" cy="1056" r="3.4"/><circle cx="683" cy="1078" r="3.3"/><circle cx="508" cy="1125" r="2.8"/><circle cx="564" cy="999" r="5.1"/><circle cx="485" cy="1149" r="2.8"/><circle cx="629" cy="1160" r="3.8"/><circle cx="623" cy="1028" r="2.9"/><circle cx="509" cy="998" r="3.8"/><circle cx="453" cy="1056" r="3.8"/><circle cx="509" cy="993" r="4.6"/><circle cx="559" cy="1014" r="6.8"/><circle cx="505" cy="1132" r="6.3"/><circle cx="644" cy="1142" r="3.5"/><circle cx="455" cy="1083" r="5.8"/><circle cx="540" cy="947" r="6.0"/><circle cx="681" cy="1078" r="2.9"/><circle cx="507" cy="997" r="6.4"/><circle cx="666" cy="1116" r="5.0"/><circle cx="468" cy="1062" r="4.0"/><circle cx="632" cy="975" r="3.4"/><circle cx="518" cy="1163" r="6.7"/><circle cx="622" cy="951" r="3.5"/><circle cx="662" cy="978" r="5.1"/><circle cx="522" cy="1106" r="2.9"/></g>
<g fill="#1E2C9C" fill-opacity="1.0"><circle cx="566" cy="1162" r="6.5"/><circle cx="687" cy="1029" r="4.1"/><circle cx="553" cy="1012" r="3.7"/><circle cx="614" cy="1149" r="6.5"/><circle cx="511" cy="1049" r="2.8"/><circle cx="609" cy="1006" r="3.1"/><circle cx="679" cy="1029" r="2.6"/><circle cx="617" cy="1156" r="4.0"/><circle cx="512" cy="1005" r="5.2"/><circle cx="530" cy="1159" r="6.1"/><circle cx="521" cy="1128" r="5.6"/><circle cx="655" cy="1018" r="4.6"/><circle cx="499" cy="998" r="3.2"/><circle cx="599" cy="965" r="2.9"/><circle cx="503" cy="972" r="4.0"/><circle cx="532" cy="969" r="2.8"/><circle cx="587" cy="957" r="6.6"/><circle cx="531" cy="1017" r="2.8"/><circle cx="485" cy="1139" r="5.6"/><circle cx="505" cy="1169" r="6.0"/><circle cx="569" cy="1028" r="6.6"/><circle cx="460" cy="1074" r="4.0"/><circle cx="527" cy="1173" r="5.9"/><circle cx="629" cy="1033" r="2.7"/><circle cx="485" cy="1133" r="6.5"/><circle cx="661" cy="1100" r="5.2"/><circle cx="560" cy="942" r="2.7"/><circle cx="534" cy="950" r="6.1"/><circle cx="511" cy="1066" r="5.1"/><circle cx="482" cy="1045" r="2.7"/><circle cx="579" cy="997" r="4.1"/><circle cx="475" cy="1130" r="2.7"/><circle cx="618" cy="947" r="5.2"/><circle cx="661" cy="995" r="2.7"/><circle cx="679" cy="1061" r="3.1"/><circle cx="519" cy="1161" r="4.7"/><circle cx="625" cy="958" r="4.6"/><circle cx="616" cy="951" r="5.4"/><circle cx="516" cy="1034" r="5.4"/><circle cx="659" cy="1087" r="6.6"/><circle cx="550" cy="1124" r="6.7"/><circle cx="652" cy="1129" r="3.7"/><circle cx="665" cy="1017" r="6.0"/><circle cx="463" cy="1059" r="2.7"/><circle cx="557" cy="943" r="4.3"/><circle cx="601" cy="978" r="4.2"/><circle cx="495" cy="1021" r="4.4"/><circle cx="633" cy="1088" r="4.3"/><circle cx="653" cy="1091" r="4.6"/><circle cx="544" cy="988" r="5.2"/><circle cx="674" cy="1109" r="3.6"/><circle cx="455" cy="1079" r="5.9"/><circle cx="516" cy="1167" r="5.4"/><circle cx="659" cy="1087" r="2.7"/></g>
<g fill="#3444B4" fill-opacity="0.9"><circle cx="571" cy="1145" r="3.2"/><circle cx="621" cy="1175" r="4.3"/><circle cx="514" cy="1022" r="4.2"/><circle cx="462" cy="1116" r="2.7"/><circle cx="527" cy="961" r="5.9"/><circle cx="491" cy="970" r="2.7"/><circle cx="480" cy="992" r="2.7"/><circle cx="579" cy="995" r="3.0"/><circle cx="599" cy="1019" r="4.1"/><circle cx="490" cy="1042" r="3.6"/><circle cx="516" cy="964" r="3.8"/><circle cx="565" cy="1165" r="2.6"/><circle cx="665" cy="1125" r="5.9"/><circle cx="617" cy="957" r="2.6"/><circle cx="530" cy="1071" r="3.0"/><circle cx="476" cy="977" r="4.8"/><circle cx="579" cy="952" r="5.2"/><circle cx="520" cy="991" r="3.8"/><circle cx="622" cy="993" r="6.5"/><circle cx="493" cy="1142" r="6.2"/><circle cx="583" cy="1138" r="3.4"/><circle cx="507" cy="967" r="5.5"/><circle cx="629" cy="948" r="4.4"/><circle cx="520" cy="1068" r="2.8"/><circle cx="516" cy="1169" r="3.7"/><circle cx="570" cy="948" r="3.5"/><circle cx="541" cy="1030" r="3.1"/><circle cx="610" cy="1178" r="3.7"/><circle cx="696" cy="1052" r="3.8"/><circle cx="574" cy="1151" r="3.0"/><circle cx="498" cy="989" r="5.7"/><circle cx="467" cy="1102" r="6.1"/><circle cx="551" cy="1054" r="6.0"/><circle cx="628" cy="1118" r="4.9"/><circle cx="530" cy="1014" r="2.9"/><circle cx="520" cy="1030" r="4.5"/><circle cx="541" cy="1121" r="2.9"/><circle cx="648" cy="1156" r="4.2"/><circle cx="644" cy="968" r="4.0"/><circle cx="536" cy="1034" r="2.8"/><circle cx="446" cy="1078" r="6.7"/><circle cx="639" cy="1041" r="2.9"/><circle cx="460" cy="1010" r="3.7"/><circle cx="657" cy="1098" r="4.8"/><circle cx="535" cy="1134" r="4.7"/><circle cx="588" cy="1116" r="2.9"/><circle cx="494" cy="979" r="5.3"/><circle cx="647" cy="1004" r="4.5"/><circle cx="627" cy="1123" r="3.0"/><circle cx="509" cy="1002" r="2.7"/><circle cx="601" cy="1160" r="4.5"/></g>
<g fill="#4656BC" fill-opacity="0.8"><circle cx="518" cy="1177" r="4.5"/><circle cx="598" cy="1129" r="5.8"/><circle cx="613" cy="1158" r="2.7"/><circle cx="621" cy="990" r="4.0"/><circle cx="509" cy="1144" r="5.5"/><circle cx="489" cy="1120" r="2.8"/><circle cx="524" cy="945" r="5.0"/><circle cx="589" cy="1011" r="6.1"/><circle cx="529" cy="1067" r="5.6"/><circle cx="600" cy="1163" r="2.8"/><circle cx="584" cy="1012" r="4.2"/><circle cx="507" cy="1168" r="3.6"/><circle cx="596" cy="945" r="3.0"/><circle cx="638" cy="1082" r="6.3"/><circle cx="498" cy="1070" r="2.9"/><circle cx="519" cy="969" r="4.9"/><circle cx="647" cy="1010" r="4.9"/><circle cx="453" cy="1093" r="4.5"/><circle cx="571" cy="1057" r="4.9"/><circle cx="485" cy="1052" r="2.8"/><circle cx="582" cy="1178" r="4.3"/><circle cx="668" cy="1077" r="3.3"/><circle cx="673" cy="1130" r="3.2"/><circle cx="461" cy="1030" r="4.9"/><circle cx="691" cy="1040" r="5.3"/><circle cx="604" cy="971" r="4.1"/><circle cx="521" cy="1005" r="3.2"/><circle cx="508" cy="1108" r="2.8"/><circle cx="538" cy="954" r="6.2"/><circle cx="636" cy="1165" r="3.0"/><circle cx="583" cy="938" r="6.5"/><circle cx="577" cy="936" r="2.9"/><circle cx="641" cy="1062" r="2.7"/><circle cx="572" cy="942" r="5.6"/><circle cx="508" cy="1081" r="4.6"/><circle cx="499" cy="1159" r="3.2"/><circle cx="465" cy="1046" r="5.3"/><circle cx="538" cy="1049" r="2.8"/><circle cx="456" cy="1067" r="4.0"/><circle cx="510" cy="971" r="2.7"/><circle cx="534" cy="1084" r="3.3"/><circle cx="458" cy="1062" r="4.2"/><circle cx="686" cy="1007" r="6.5"/><circle cx="609" cy="958" r="3.7"/><circle cx="550" cy="1171" r="3.2"/><circle cx="525" cy="959" r="2.7"/><circle cx="502" cy="1118" r="6.1"/><circle cx="638" cy="1110" r="5.2"/><circle cx="641" cy="976" r="4.8"/><circle cx="543" cy="1184" r="3.5"/><circle cx="468" cy="1018" r="5.1"/><circle cx="673" cy="1043" r="5.1"/><circle cx="693" cy="1097" r="4.9"/><circle cx="473" cy="992" r="3.0"/><circle cx="480" cy="1028" r="3.8"/><circle cx="573" cy="945" r="3.7"/><circle cx="499" cy="1030" r="2.7"/><circle cx="525" cy="1052" r="4.4"/><circle cx="567" cy="1188" r="3.2"/><circle cx="566" cy="1002" r="4.8"/></g>
</g></g>
<clipPath id="p23"><circle cx="879.6" cy="1066.5" r="126.5"/></clipPath>
<circle cx="879.6" cy="1066.5" r="127.4" fill="#C4CBCB" stroke="#9AA2A2" stroke-width="1.2"/>
<circle cx="869.6" cy="1075.5" r="105.0" fill="#E0E5E3" stroke="#B4BCBC" stroke-width="1.4"/>
<g clip-path="url(#p23)"><g filter="url(#soft)">
<g fill="#3344BC" fill-opacity="0.95"><circle cx="822" cy="1083" r="2.1"/><circle cx="772" cy="1032" r="2.4"/><circle cx="984" cy="1049" r="4.4"/><circle cx="781" cy="1113" r="2.3"/><circle cx="862" cy="1193" r="2.6"/><circle cx="912" cy="1031" r="2.3"/><circle cx="945" cy="1064" r="2.4"/><circle cx="945" cy="979" r="3.1"/><circle cx="858" cy="1192" r="4.2"/><circle cx="988" cy="999" r="2.3"/><circle cx="917" cy="1046" r="5.2"/><circle cx="926" cy="981" r="5.1"/><circle cx="778" cy="992" r="2.8"/><circle cx="833" cy="1048" r="3.6"/><circle cx="930" cy="1164" r="4.7"/><circle cx="901" cy="944" r="3.9"/><circle cx="837" cy="1135" r="2.2"/><circle cx="903" cy="946" r="3.8"/><circle cx="799" cy="1017" r="4.6"/><circle cx="778" cy="1001" r="4.1"/><circle cx="866" cy="1046" r="2.2"/><circle cx="771" cy="1114" r="4.3"/><circle cx="1002" cy="1046" r="4.7"/><circle cx="917" cy="1167" r="4.9"/><circle cx="790" cy="1062" r="4.4"/><circle cx="945" cy="1169" r="2.3"/><circle cx="836" cy="993" r="3.1"/><circle cx="893" cy="1029" r="4.8"/><circle cx="962" cy="1015" r="2.2"/><circle cx="773" cy="1026" r="2.9"/><circle cx="910" cy="1163" r="2.3"/><circle cx="908" cy="1060" r="2.1"/><circle cx="934" cy="1071" r="2.2"/><circle cx="877" cy="1085" r="2.4"/><circle cx="915" cy="999" r="4.1"/><circle cx="841" cy="966" r="4.5"/><circle cx="916" cy="1112" r="2.3"/><circle cx="771" cy="1072" r="4.2"/><circle cx="825" cy="953" r="4.5"/><circle cx="774" cy="1032" r="3.0"/><circle cx="762" cy="1118" r="2.1"/><circle cx="967" cy="1070" r="2.6"/><circle cx="956" cy="1059" r="4.0"/><circle cx="775" cy="1039" r="2.6"/><circle cx="859" cy="1180" r="3.5"/><circle cx="818" cy="1105" r="2.4"/><circle cx="959" cy="1054" r="2.4"/><circle cx="775" cy="995" r="3.3"/><circle cx="753" cy="1074" r="3.7"/><circle cx="815" cy="1077" r="3.1"/><circle cx="940" cy="1103" r="4.3"/><circle cx="984" cy="1113" r="4.8"/></g>
<g fill="#3B4CC0" fill-opacity="0.9"><circle cx="886" cy="1036" r="3.5"/><circle cx="909" cy="956" r="3.8"/><circle cx="832" cy="1162" r="4.4"/><circle cx="777" cy="999" r="5.0"/><circle cx="864" cy="1049" r="2.8"/><circle cx="927" cy="1103" r="3.2"/><circle cx="886" cy="1162" r="2.2"/><circle cx="833" cy="1138" r="4.8"/><circle cx="789" cy="1122" r="3.9"/><circle cx="819" cy="1150" r="2.2"/><circle cx="815" cy="960" r="3.2"/><circle cx="833" cy="1180" r="4.7"/><circle cx="885" cy="958" r="3.3"/><circle cx="979" cy="1018" r="2.9"/><circle cx="968" cy="1104" r="4.3"/><circle cx="825" cy="1004" r="2.1"/><circle cx="834" cy="973" r="3.7"/><circle cx="980" cy="1107" r="3.7"/><circle cx="908" cy="974" r="3.6"/><circle cx="902" cy="1030" r="4.1"/><circle cx="790" cy="1045" r="3.5"/><circle cx="826" cy="1028" r="4.4"/><circle cx="897" cy="1148" r="3.3"/><circle cx="974" cy="1050" r="2.1"/><circle cx="906" cy="1054" r="2.5"/><circle cx="778" cy="1059" r="3.8"/><circle cx="938" cy="1038" r="5.2"/><circle cx="958" cy="1137" r="2.9"/><circle cx="980" cy="1009" r="5.3"/><circle cx="902" cy="957" r="3.7"/><circle cx="930" cy="1174" r="4.5"/><circle cx="989" cy="1119" r="2.1"/><circle cx="891" cy="947" r="4.7"/><circle cx="962" cy="1157" r="2.1"/><circle cx="757" cy="1063" r="5.0"/><circle cx="879" cy="962" r="2.5"/><circle cx="845" cy="976" r="4.8"/><circle cx="851" cy="1099" r="2.2"/><circle cx="995" cy="1068" r="4.6"/><circle cx="1006" cy="1063" r="4.1"/><circle cx="885" cy="1102" r="3.9"/><circle cx="914" cy="1146" r="4.3"/><circle cx="907" cy="1055" r="2.2"/><circle cx="932" cy="955" r="4.7"/><circle cx="958" cy="1059" r="4.0"/><circle cx="891" cy="1014" r="3.1"/><circle cx="766" cy="1031" r="2.3"/><circle cx="872" cy="1105" r="3.0"/><circle cx="994" cy="1068" r="2.8"/><circle cx="950" cy="1148" r="2.3"/><circle cx="892" cy="947" r="3.4"/><circle cx="977" cy="1045" r="2.2"/><circle cx="784" cy="1018" r="2.1"/><circle cx="921" cy="952" r="2.8"/><circle cx="775" cy="1118" r="2.7"/></g>
<g fill="#2C3CB2" fill-opacity="1.0"><circle cx="830" cy="1128" r="4.0"/><circle cx="798" cy="1162" r="4.2"/><circle cx="892" cy="1024" r="3.1"/><circle cx="970" cy="1140" r="3.6"/><circle cx="779" cy="1120" r="2.1"/><circle cx="791" cy="1125" r="4.4"/><circle cx="889" cy="1042" r="2.5"/><circle cx="989" cy="1017" r="2.5"/><circle cx="795" cy="1117" r="2.4"/><circle cx="925" cy="967" r="2.8"/><circle cx="966" cy="1068" r="3.6"/><circle cx="800" cy="1132" r="5.2"/><circle cx="910" cy="1155" r="2.7"/><circle cx="795" cy="974" r="3.2"/><circle cx="929" cy="1001" r="2.1"/><circle cx="998" cy="1092" r="2.3"/><circle cx="971" cy="1132" r="2.4"/><circle cx="820" cy="980" r="4.6"/><circle cx="970" cy="1020" r="2.2"/><circle cx="798" cy="999" r="2.4"/><circle cx="971" cy="1001" r="4.1"/><circle cx="869" cy="1020" r="3.9"/><circle cx="988" cy="1084" r="2.9"/><circle cx="890" cy="1030" r="4.5"/><circle cx="981" cy="1089" r="2.1"/><circle cx="995" cy="1038" r="3.8"/><circle cx="845" cy="1111" r="3.8"/><circle cx="824" cy="1057" r="2.7"/><circle cx="862" cy="1113" r="2.5"/><circle cx="800" cy="1129" r="4.1"/><circle cx="954" cy="985" r="3.8"/><circle cx="985" cy="1012" r="5.0"/><circle cx="826" cy="1172" r="5.3"/><circle cx="849" cy="1004" r="4.5"/><circle cx="819" cy="1179" r="4.6"/><circle cx="907" cy="947" r="2.8"/><circle cx="940" cy="1170" r="2.3"/><circle cx="808" cy="1134" r="4.6"/><circle cx="774" cy="1099" r="4.0"/><circle cx="882" cy="1095" r="2.2"/><circle cx="990" cy="1113" r="2.2"/><circle cx="762" cy="1060" r="3.3"/><circle cx="972" cy="1117" r="2.1"/><circle cx="882" cy="966" r="2.6"/><circle cx="875" cy="1024" r="3.9"/><circle cx="840" cy="975" r="5.0"/><circle cx="808" cy="974" r="3.7"/></g>
<g fill="#4A5AC4" fill-opacity="0.85"><circle cx="969" cy="1078" r="3.6"/><circle cx="947" cy="1056" r="3.4"/><circle cx="879" cy="939" r="2.7"/><circle cx="877" cy="1091" r="3.3"/><circle cx="960" cy="1136" r="4.7"/><circle cx="823" cy="1115" r="2.9"/><circle cx="763" cy="1037" r="3.9"/><circle cx="833" cy="1184" r="4.9"/><circle cx="960" cy="1088" r="4.1"/><circle cx="757" cy="1038" r="3.6"/><circle cx="829" cy="1087" r="2.3"/><circle cx="984" cy="1111" r="3.8"/><circle cx="820" cy="1163" r="2.1"/><circle cx="970" cy="1136" r="3.3"/><circle cx="771" cy="1032" r="4.7"/><circle cx="955" cy="1168" r="4.0"/><circle cx="820" cy="994" r="2.1"/><circle cx="879" cy="1074" r="3.1"/><circle cx="838" cy="973" r="3.2"/><circle cx="1000" cy="1023" r="4.6"/><circle cx="871" cy="941" r="5.1"/><circle cx="797" cy="1044" r="2.1"/><circle cx="890" cy="1188" r="3.5"/><circle cx="993" cy="1066" r="4.0"/><circle cx="881" cy="962" r="3.7"/><circle cx="907" cy="1174" r="2.8"/><circle cx="933" cy="1125" r="3.9"/><circle cx="962" cy="1139" r="2.4"/><circle cx="955" cy="1137" r="4.5"/><circle cx="930" cy="988" r="2.2"/><circle cx="978" cy="1098" r="2.7"/><circle cx="943" cy="983" r="2.8"/><circle cx="998" cy="1089" r="4.4"/><circle cx="783" cy="1018" r="2.4"/><circle cx="913" cy="1026" r="3.5"/><circle cx="816" cy="1166" r="4.0"/><circle cx="904" cy="1147" r="2.1"/><circle cx="767" cy="1042" r="3.7"/><circle cx="851" cy="965" r="2.2"/><circle cx="982" cy="1074" r="3.9"/><circle cx="883" cy="958" r="2.1"/><circle cx="982" cy="1017" r="3.1"/></g>
<g fill="#5A68C8" fill-opacity="0.75"><circle cx="977" cy="989" r="2.1"/><circle cx="847" cy="1083" r="3.4"/><circle cx="971" cy="1141" r="4.8"/><circle cx="854" cy="1146" r="4.6"/><circle cx="777" cy="1041" r="3.3"/><circle cx="895" cy="977" r="3.8"/><circle cx="918" cy="1014" r="2.4"/><circle cx="899" cy="967" r="2.3"/><circle cx="851" cy="1168" r="2.1"/><circle cx="928" cy="965" r="3.5"/><circle cx="833" cy="1170" r="3.6"/><circle cx="928" cy="1062" r="4.1"/><circle cx="964" cy="1143" r="2.1"/><circle cx="770" cy="1071" r="3.3"/><circle cx="1005" cy="1084" r="4.3"/><circle cx="817" cy="985" r="5.0"/><circle cx="951" cy="1156" r="2.2"/><circle cx="774" cy="1037" r="3.5"/><circle cx="883" cy="1187" r="2.1"/><circle cx="860" cy="1031" r="2.6"/><circle cx="955" cy="1128" r="5.3"/><circle cx="925" cy="1150" r="2.6"/><circle cx="775" cy="1017" r="2.4"/><circle cx="880" cy="1043" r="5.1"/><circle cx="757" cy="1040" r="2.8"/><circle cx="822" cy="1156" r="4.6"/><circle cx="999" cy="1085" r="2.3"/><circle cx="861" cy="973" r="2.3"/><circle cx="902" cy="1129" r="4.7"/><circle cx="990" cy="1080" r="3.9"/><circle cx="841" cy="1178" r="2.2"/><circle cx="813" cy="967" r="4.5"/><circle cx="776" cy="1108" r="3.9"/><circle cx="870" cy="1190" r="3.1"/><circle cx="884" cy="1098" r="3.8"/><circle cx="959" cy="976" r="2.7"/><circle cx="811" cy="1162" r="3.5"/><circle cx="798" cy="1128" r="4.0"/><circle cx="874" cy="964" r="3.5"/><circle cx="950" cy="968" r="5.2"/><circle cx="818" cy="968" r="2.9"/><circle cx="834" cy="1156" r="2.1"/><circle cx="994" cy="1085" r="3.4"/><circle cx="929" cy="1157" r="4.1"/></g>
</g></g>
<text x="64.0" y="807.8" font-size="33.4" font-weight="bold" text-anchor="middle" fill="#26262c" transform="matrix(0.933 0 0 1 4.29 0)">TPC-1</text>
<text x="68.0" y="1073.2" font-size="33.5" font-weight="bold" text-anchor="middle" fill="#26262c" transform="matrix(0.96 0 0 1 2.72 0)">BHT101</text>
<text x="235.2" y="1229.5" font-size="33.4" font-weight="bold" text-anchor="middle" fill="#26262c" transform="matrix(0.98 0 0 1 4.70 0)">NC</text>
<text x="584.3" y="1235.8" font-size="33.4" font-weight="bold" text-anchor="middle" fill="#26262c" transform="matrix(0.99 0 0 1 5.84 0)">MIMIC</text>
<text x="895.5" y="1235.8" font-size="33.4" font-weight="bold" text-anchor="middle" fill="#26262c" transform="matrix(0.99 0 0 1 8.96 0)">INHIBIT</text>
<line x1="1173.5" y1="931.7" x2="1173.5" y2="909.7" stroke="#E07A30" stroke-width="1.4"/>
<line x1="1165.0" y1="909.7" x2="1182.0" y2="909.7" stroke="#E07A30" stroke-width="2.0"/>
<rect x="1156.3" y="931.7" width="34.5" height="184.3" fill="#E07A30"/>
<line x1="1224.2" y1="843.7" x2="1224.2" y2="813.0" stroke="#DA321E" stroke-width="1.4"/>
<line x1="1215.8" y1="813.0" x2="1232.8" y2="813.0" stroke="#DA321E" stroke-width="2.0"/>
<rect x="1207.0" y="843.7" width="34.5" height="272.3" fill="#DA321E"/>
<text x="1224.2" y="812.0" font-size="26" text-anchor="middle" fill="#111">*</text>
<line x1="1275.3" y1="955.6" x2="1275.3" y2="938.2" stroke="#4B5EAD" stroke-width="1.4"/>
<line x1="1266.8" y1="938.2" x2="1283.8" y2="938.2" stroke="#4B5EAD" stroke-width="2.0"/>
<rect x="1258.0" y="955.6" width="34.6" height="160.4" fill="#4B5EAD"/>
<text x="1275.3" y="936.6" font-size="26" text-anchor="middle" fill="#111">*</text>
<line x1="1359.8" y1="935.4" x2="1359.8" y2="917.1" stroke="#E07A30" stroke-width="1.4"/>
<line x1="1351.3" y1="917.1" x2="1368.3" y2="917.1" stroke="#E07A30" stroke-width="2.0"/>
<rect x="1343.3" y="935.4" width="33.0" height="180.6" fill="#E07A30"/>
<line x1="1410.7" y1="861.2" x2="1410.7" y2="832.7" stroke="#DA321E" stroke-width="1.4"/>
<line x1="1402.2" y1="832.7" x2="1419.2" y2="832.7" stroke="#DA321E" stroke-width="2.0"/>
<rect x="1394.3" y="861.2" width="32.7" height="254.8" fill="#DA321E"/>
<text x="1410.7" y="829.0" font-size="26" text-anchor="middle" fill="#111">*</text>
<line x1="1461.5" y1="975.7" x2="1461.5" y2="962.9" stroke="#4B5EAD" stroke-width="1.4"/>
<line x1="1453.0" y1="962.9" x2="1470.0" y2="962.9" stroke="#4B5EAD" stroke-width="2.0"/>
<rect x="1445.0" y="975.7" width="33.0" height="140.3" fill="#4B5EAD"/>
<text x="1461.5" y="957.8" font-size="26" text-anchor="middle" fill="#111">*</text>
<line x1="1140.0" y1="756.5" x2="1140.0" y2="1117.6" stroke="#000" stroke-width="3.2"/>
<line x1="1124.0" y1="1116.0" x2="1498.0" y2="1116.0" stroke="#000" stroke-width="3.2"/>
<line x1="1124.0" y1="1116.0" x2="1140.0" y2="1116.0" stroke="#000" stroke-width="3.2"/>
<text x="1120.0" y="1125.0" font-size="26.5" font-weight="bold" text-anchor="end" fill="#1a1a1a">0</text>
<line x1="1124.0" y1="1024.3" x2="1140.0" y2="1024.3" stroke="#000" stroke-width="3.2"/>
<text x="1120.0" y="1033.3" font-size="26.5" font-weight="bold" text-anchor="end" fill="#1a1a1a">100</text>
<line x1="1124.0" y1="932.7" x2="1140.0" y2="932.7" stroke="#000" stroke-width="3.2"/>
<text x="1120.0" y="941.7" font-size="26.5" font-weight="bold" text-anchor="end" fill="#1a1a1a">200</text>
<line x1="1124.0" y1="841.0" x2="1140.0" y2="841.0" stroke="#000" stroke-width="3.2"/>
<text x="1120.0" y="850.0" font-size="26.5" font-weight="bold" text-anchor="end" fill="#1a1a1a">300</text>
<line x1="1223.5" y1="1116.0" x2="1223.5" y2="1132.0" stroke="#000" stroke-width="3.2"/>
<text x="1223.5" y="1159.0" font-size="26" font-weight="bold" text-anchor="middle" fill="#1a1a1a">TPC-1</text>
<line x1="1410.8" y1="1116.0" x2="1410.8" y2="1132.0" stroke="#000" stroke-width="3.2"/>
<text x="1410.8" y="1159.0" font-size="26" font-weight="bold" text-anchor="middle" fill="#1a1a1a">BHT101</text>
<text x="1056.0" y="936.0" font-size="29.5" font-weight="bold" text-anchor="middle" fill="#1a1a1a" transform="rotate(-90 1056.0 936.0)">clony number</text>
<rect x="1468.4" y="725.0" width="38.4" height="18.5" fill="#E07A30"/>
<text x="1527.5" y="742.9" font-size="30" text-anchor="start" fill="#1a1a1a" transform="matrix(0.96 0 0 1 61.10 0)">NC</text>
<rect x="1468.4" y="772.8" width="38.4" height="18.5" fill="#DA321E"/>
<text x="1527.5" y="790.7" font-size="30" text-anchor="start" fill="#1a1a1a" transform="matrix(0.96 0 0 1 61.10 0)">MIMIC</text>
<rect x="1468.4" y="820.6" width="38.4" height="18.5" fill="#4B5EAD"/>
<text x="1527.5" y="838.5" font-size="30" text-anchor="start" fill="#1a1a1a" transform="matrix(0.96 0 0 1 61.10 0)">INHIBIT</text>
<clipPath id="c31"><rect x="133.0" y="1322.0" width="292.5" height="212.0"/></clipPath>
<rect x="133.0" y="1322.0" width="292.5" height="212.0" fill="#E4E7D6"/>
<rect x="133.0" y="1322.0" width="292.5" height="212.0" filter="url(#gd_tpc)"/>
<rect x="133.0" y="1322.0" width="292.5" height="212.0" filter="url(#gl_tpc)"/>
<g clip-path="url(#c31)"><g filter="url(#soft)">
<path fill="#5B46C4" fill-opacity="1.0" d="M133 1350l0-5 3-3 4 2 0 3-3 2zM163 1367l-3-1-2-2-2-3 3-2 4-1 1 4 0 3zM274 1495l-1-1 0-5 1-3 3 2 1 3-1 4zM233 1463l-2-3 1-4 3 1 1 3zM314 1356l-1-2 0-4 2 1 2 1 1 1-1 2-2 1zM293 1466l-1 0 0-1 1-2 2-1 1 2 0 1-1 2zM161 1474l2-3 3-1 2 0 0 3 0 1-3 4-3-3zM409 1404l-3-3-2-4 2-3 3 2 3 5zM232 1350l1-5 4-1 1 1 0 3-4 2zM301 1392l3-1 3 0 0 3-2 2-2-1zM282 1340l-6 0-4-4 3-2 6 2zM242 1477l-9 0-4-2-2-3 4-3 5 2zM156 1410l-6-1 0-4 2-3 4 3zM153 1482l1-2 1-3 2 2 1 1 0 1-1 2-2-1zM372 1403l-1-3 3-4 2 0 3 0 1 4-3 2-3 2zM212 1483l0-7 2-6 5 5-1 5zM334 1383l-3-1-1-1-1-2 1-1 2-2 1 3 1 1zM397 1337l-1-2 3-2 2 2 0 2-3 1zM369 1542l-3-4-2-6 2-6 4 4 3 3-1 3zM350 1366l1-3 4-3 4 2 0 4-3 1-4 1zM270 1354l-1-4 3-2 4-2 3 2-1 6-3 2-4-1zM271 1445l-2-1-1-2 1-2 2 0 2 2 0 3zM330 1432l-2-1-2-3 3-1 2 0 1 1 1 2-2 2zM381 1343l-2-1-3-1 0-3 1-2 3 1 2 1 3 4zM368 1340l-2-1 0-5 2 0 2 4zM325 1413l1-3 3-4 5-2 3 4-5 5-5 2zM222 1336l-3-2-5-4 5-2 4 1 1 4zM419 1358l-2 2-3-4 0-4 3 0 2 2 1 3zM133 1391l1-3 3 1 1 2-2 2-2 0zM380 1427l2-4 5 0 1 4-5 3zM218 1403l-3-3-3-5 6-6 2 0 2 5 4 5-5 2zM276 1478l-3-3 4-4 3 0 1 3-3 4zM399 1443l-3-2-1-5 3-2 4 0 1 3 1 8zM430 1363l-6 1-6-5 4-3 7 4zM209 1494l1-5 6-3 4 3 4 0-3 3-5 3-5 2zM274 1527l1-3 4 0 0 2-1 2-3 0zM371 1409l-2-4 0-4 2-2 3 0 1 5-1 2zM339 1377l2-3 4-1 1 2-2 4-2 1zM209 1435l0 0-2-2 1-2 1-1 2 2 1 1-1 1zM264 1405l-2-7 4-3 4 3-1 6zM249 1345l4-4 7 0-1 4-4 4zM290 1465l-3 2-3 0-1-3 1-2 2-5 4 5zM150 1354l-5 1-4-3 2-4 7 2zM271 1493l-3-2-1-5 1-3 4-1 1 1 1 4-1 6zM162 1410l2-2 3-1 2 0 1 2 0 2-2 0-2 0zM362 1436l-1-2 3-5 3 0 2 6-3 2zM264 1479l1 3-5-3-2-1 2-2 2-1 2 1zM174 1444l-3 1-5-1-1-3 3-1 5 1z"/>
<path fill="#4E3DB4" fill-opacity="1.0" d="M329 1336l-1 1-2 0-1-1-1-2 2-2 2 1 1 1zM241 1496l1-4 4-2 0 3-1 4zM221 1411l0-4 2-3 5 1-3 6zM360 1374l-1-3 5-10 4 8-4 7zM148 1479l-3-1-2-3 0-2 1-2 2 0 3 2 2 4zM408 1345l-3 2-3-2 2-3 3 0zM308 1342l-4-3 0-4 4-1 3 4zM388 1430l5-3 5 1 0 3-3 2-4 0zM184 1374l-2-1 0-3 2-3 1 1 2 1 1 2-3 3zM331 1450l0-2 4-2 3 1 1 4-4 2-3-1zM215 1396l-1-4 2-2 3 2-1 3zM421 1527l1-1 2-3 3 0 2 2 0 2-3 2-2 0zM382 1335l-4-3 8-5 3 1 1 4-3 4zM159 1438l-4-3-1-3 0-5 4-1 3 1 2 7 0 2zM410 1493l-3 2-4 0 0-5 3-3 3 0 2 4zM244 1339l2-5 3-1 3 2-4 5zM271 1418l-2-3 1-3 2-1 3 0-2 6zM388 1518l-1-3 2-1 2 1 0 3zM160 1452l-2-2 0-3 1-1 3 0 1 2 0 3zM311 1494l-7-1-5-3 3-4 3-3 4 3 3 4zM187 1359l-1-3 1-2 2-1 1 1 0 2-2 2zM182 1453l-3 1-3-3 3-1 3 1zM306 1417l2-1 2 0 1 1 2 3-5 0-1-2zM211 1359l0-2 3 0 3-1 1 2-2 3-1 1-3-1zM403 1530l5-2 2-1 5 4-5 2-4 1zM161 1341l-5-2 3-4 3 0 1 5zM150 1381l-1 0-2-2-2-4 2 1 2-1 3 3 0 2zM150 1505l-3-2 2-7 4 2 1 6zM244 1375l1-1 4-1 1 1 1 2-2 3-1 0-3-1zM214 1357l-4-2-2-4 2-3 5 2 0 4zM289 1469l-1 2-2-1-2-1 1-3 2 0 1 0 1 2zM253 1452l-2-3 1-3 1-2 2 0 1 5-1 2zM223 1431l-3 1-2 0-1-2 0-3 1 0 4 0 1 2zM332 1428l-1-2 4-1 3 0 0 2 0 2-3 0-2 0zM178 1346l0-3 3 1 2 1-1 2-3 1zM217 1464l-5-4 5-6 3-3 3 2 4 0-3 6-2 3zM234 1444l-5 0-3-1-7-3 3-1 3-2 4 0 4 3zM351 1383l3-4 3-3 6-3 1 6-4 6-5 1zM174 1329l-1-3 0-4 3-4 3 2 0 6-1 2z"/>
<path fill="#6652CC" fill-opacity="0.95" d="M200 1366l-2-1-1-3 1-2 3 1 1 4zM157 1360l-4 0-3-4-2-5 3 0 2 0 4 4 0 2zM413 1460l2-8 9 5-2 5-6 2zM266 1465l-2-5 7 2 3 2 3 5-6 0-3-1zM146 1383l3-5 5 0 2 5-7 3zM365 1409l-4 0-2-1-2-1 0-4 3 2 2 1zM394 1525l-1-1 2-3 4-1 1 1 2 4-3 1-4 4zM232 1507l-3 1-3-2 0-4 3-1 3 2 0 2zM266 1499l0-6 9 2 3 1-1 5-6 2-3-2zM289 1498l-2 2-1-6-1-3 2-1 2 0 3 2 0 3zM141 1502l-3-5 3-4 4 0 3 5-4 3zM294 1348l-2 0 0-1 0-2 1-1 2 0 0 2 1 1zM204 1412l-4-1-4-1 1-3 1-2 2 0 3 1 2 4zM196 1481l-2 0-2-2 2-3 2 0 4 0 0 4zM227 1432l-2-1 0-3 2-1 2-1 1 2-1 3 0 4zM378 1492l0-5 3-3 2 3-1 5zM279 1389l-2 0-2-1 0-2-1-1 2-1 3 1 0 2zM277 1505l-1-2 1-2 2 0 3 4zM286 1376l-3-3 3-2 3-1 4 3-1 2-3 3zM142 1498l3-2 4-1 1 4-3 2-3 0zM199 1396l-4-3 1-3 3 0 1 3zM420 1401l1-2 3 0 0 3-1 1zM220 1490l2-2 2 1 0 3-3 0zM280 1446l-5 3-6-3 2-5 7 2zM215 1494l-1-2 1-2 1-2 2 1 1 2-1 2-1 1zM261 1370l-1 4-3-3-3-2 2-3 4 1 3 1zM281 1491l2-3 3 2-1 2-2 1zM233 1396l-2-3 5 0 2 1 1 1-1 3-1 0-3 1zM307 1520l-3 2-5-3 3-3 4-1 5 2zM202 1360l-3-2-5-5 3-2 5-1 2 6zM278 1511l1-3 3-2 2 1 2 1-1 3-3 1-3-1zM269 1511l-4 0-3-4 2-4 5 5zM180 1405l-1-3 2-1 3 0 1 3-1 1-3 2zM394 1501l-2-2 1-4 3 0 2 1 0 4zM200 1492l-1 1-3-1-1-2 1-3 2 0 3 1 0 2zM377 1520l0-3 0-2 3 0 1 3-2 1zM277 1433l-1 0-3-3 0-2 2-2 2 1 1 2 1 3z"/>
<path fill="#3A3088" fill-opacity="1.0" d="M360 1336l-5 0-1-4 1-3 2 0 3 1 1 3zM422 1525l-5 0-7-1 5-6 6 0 2 3zM381 1527l-3 2-6-3-2-4 4-2 3 0 10 4zM161 1533l-4 2-6-2-1-4 1-4 5 1 3 3zM304 1372l-2 2-1-1-2-1 0-2 0-2 4 1 1 1zM171 1369l-5 0-5-5 7-2 3 3zM338 1352l-2 1-2 0-1-3 2-2 2 1 1 2zM404 1426l-1 1-3-1-1-1 0-1 2-1 2 1 2 1zM314 1475l-3-3 0-5 3-1 3 2 0 6zM186 1351l-2-5 1-4 2-4 6 5-3 6zM314 1383l-4 1-3-3 0-4 0-2 5 0 2 2 2 5zM316 1433l-1-3 1-3 3 0 4 0-4 5zM206 1347l-4 0-1-4-1-5 9 0 2 6zM157 1460l-1-2 0-3 1-2 2 0 3 1-1 3-1 2zM332 1446l-1-2-1-2 2-3 2 2 0 1 0 2zM342 1390l3-3 4 0 3 2-2 3-2 1-2 0zM297 1425l1-5 4-1 2 3-2 4zM404 1507l-3-7 4-6 4 7 0 6zM314 1356l1-2 1-2 2-1 2 3 1 2-3 2-1 0zM223 1523l1-2 4 0 1 4-3 1-3 0zM310 1423l-3 2-4-3 1-2 4 0zM196 1396l-2-4-2-3 0-4 4 1 3 2-1 2zM395 1436l-1 1-5-2 0-2 0-1 2 0 3 0 2 1zM392 1377l-4 0-4 3-1-6 1-2 2-1 4 1 2 3zM152 1449l-4-3-1-5 1-4 5 2 2 7zM172 1335l0-2 1-3 1-2 1 0 3 1-2 3-2 5zM231 1368l0-2 4-3 5 3-6 4-2 0zM177 1535l2-4 3-3 2 3 0 2-2 3-4 0zM220 1508l-7-2-3-1-1-1-4-7 7 0 3 4 2 3zM241 1326l4-5 3 1 1 6-4 1zM388 1433l1-2 4 1 1 0 2 3-3 2-1 1-4-2zM257 1504l-4-3 1-5 4 1 1 4zM225 1341l-3 0-1-5 4-2 2 3zM374 1522l-2 0-1-1 0-2 1-2 3 2 0 2zM137 1364l-2 0-4-4 3-2 2-1 1 1 2 4 0 2z"/>
<path fill="#5544BE" fill-opacity="1.0" d="M407 1337l-2-6-1-3 3-3 5 3-1 5zM224 1373l1-1 1-1 2 0 0 2-2 2-1 0zM361 1417l-1-2-1-2 1-2 1 0 2 1 0 2-1 2zM351 1462l-2-2 0-3 2-1 4 2-1 2zM268 1528l7-8 3-3 6-1 0 5-4 4-5 2zM204 1507l-1-2-1-2 0-3 2 0 2 1 1 3-1 2zM240 1498l3-2 3 0 1 4-5 1zM281 1451l-2-4 5-2 2 3-1 5zM153 1499l1-2 2-2 2 1 1 2-2 2-2-1zM364 1469l-4-4 3-2 3 1 0 4zM157 1527l-3 2-3-2 0-3 2-2 2 1 5 2zM326 1426l-4-2-3-3-2-3 3-2 3-1 4 5 0 2zM251 1532l4-4 6 1-1 4-6 2zM166 1535l-3 0-2-2 0-3 1-2 3 1 1 2 2 4zM342 1488l0-3 3-1 2 1-2 3zM222 1445l-3 2-3-1-1-2 3-2 3 2zM335 1328l-2-2-2-1 1-3 0-2 3 2 2 2 0 2zM244 1526l-4 1-2-2 3-4 3 2zM169 1383l-2-1-1-3 2-1 2 2zM252 1430l-4-2 0-6 3-1 2 2 3 8zM322 1487l-1-2 0-3 2-2 4 0 1 5-2 3zM146 1535l-1-1-1-2 1-1 3 0 1 2 0 1zM358 1473l-2 0-1-1 0-2 3 0 1 1zM239 1346l-3 1-3-2-1-2 3-2 2 0 4 3zM342 1425l-2 0-2-2 1-3 3 0 2 2zM203 1534l-4 1-2-2 1-3 2-1 2 3zM374 1423l2-4 5 0 4 1-3 5-6 1zM195 1483l-1-1-2-6 3 0 3 0 1 3-1 3zM189 1412l-5 2-8-2 4-5 5-2 4 3zM334 1373l-4 0-3-1 0-3 4-1 2 2zM312 1456l-4-2-2-1 0-3 0-4 3 2 2 2 0 3zM420 1381l2-2 1-1 2 0 1 2 0 1-2 1-2 0zM410 1425l0-3 4-2 1 0 2 2-2 3-2 1-2 0zM336 1531l-3-1-2-2 1-3 3-1 2 3 1 3zM322 1449l-3 0-3-3 2-1 1 0 3 3zM164 1341l-1-1 0-4 0-6 4 4 2 2 0 2 0 3z"/>
</g>
</g>
<clipPath id="c32"><rect x="466.5" y="1321.0" width="291.0" height="211.0"/></clipPath>
<rect x="466.5" y="1321.0" width="291.0" height="211.0" fill="#E4E7D6"/>
<rect x="466.5" y="1321.0" width="291.0" height="211.0" filter="url(#gd_tpc)"/>
<rect x="466.5" y="1321.0" width="291.0" height="211.0" filter="url(#gl_tpc)"/>
<g clip-path="url(#c32)"><g filter="url(#soft)">
<path fill="#5B46C4" fill-opacity="1.0" d="M491 1370l-6-3 0-5 5-1 4 5zM507 1467l-2 1-4 1-2-1 2-4 1-1 4-3 0 4zM648 1324l-2 1-3-2 1-2 2-1 2 2zM485 1481l1-2 5-1 3 1 1 3-1 3-5 0-4-2zM478 1348l-3 1-3-1 2-3 3-3zM729 1509l1-2 3-2 3 0 2 2-1 2-2 2-3 0zM551 1439l-1 1-4-1-2-1 1-3 2-1 3 0 2 2zM558 1406l-4-2-2-3 3-2 5 0 1 5zM486 1412l1-4 4-2 0 4-3 3zM603 1379l-3-2-5 1 2-4-1-3 4 0 2 1 1 4zM577 1517l-3-1-1-4 4-1 2 2zM731 1518l-1-1 1-5 2 0 0 3-1 4zM478 1441l1-2 1-2 1 0 2 1-1 3-2 1zM734 1444l0-1 1-3 2 0 4 3-2 1-3 2zM686 1465l-5 1-1-2-1-5 1-2 6 3 4 4zM634 1414l-1-7 7 2 2 1-1 3-5 1zM558 1409l2-3 3 1 1 0 1 2 0 1-3 1-1-1zM620 1460l1-3 2-1 3-1 1 5-3 1-2 0zM581 1431l1-6 3-2 5 5-3 3zM708 1529l-2-5 3-4 4 2-1 6zM677 1427l2-3 2 0 0 2-1 2zM586 1388l-3-2 0-3 3-1 1 0 1 3-1 2zM707 1469l3-5 6-2-1 4-4 4zM534 1341l-2 2-4 0-2-1-1-2 3-2 2-1 3 2zM530 1487l-3 0-1-1-1-1 0-2 2 0 2 0 0 2zM713 1498l-2-6 3-3 4-2 2 6-3 4zM555 1370l-4-5-1-7 5 0 3 0 2 4-2 2zM591 1366l-4-2 0-2 0-2 2-1 3 1 0 3zM577 1359l-1-2 2-3 3-2 0 5-1 1zM615 1337l-3-1-1-2 3-3 3 2zM599 1403l-2 0-3-1 1-3 2 0 2 1zM495 1519l4-3 6 1 0 3-3 2-3-1zM469 1465l1-3 4-2 2 2 1 2-2 3-3 0zM675 1445l1-4 2-2 2-3 2 4 0 4-3 2-1-1zM719 1446l-3-4 4-7 5-3 2 2 2 5-3 3zM611 1371l-4 1-2-2 1-2 2-2 1 0 2 2zM540 1327l-2-1 1-4 2-1 2 3 0 3zM691 1476l4-4 5-1 0 4-5 4zM690 1352l-2-2 1-2 0-2 3 2 0 3zM682 1440l-6 0-2-4 2-4 10 2zM552 1432l-3-1-1-6 2-2 3 2 1 5zM568 1352l4-4 4 1 1 3-6 4zM537 1520l0-3 3-1 3 1-1 2-1 2-3 0zM649 1501l-3-3-2-3 2-4 3-1 2 3 0 3zM622 1444l1-3 3-3 2 3-1 2-3 2zM557 1453l1-4 5-1 1 2-4 5zM605 1327l1-1 4-1 2 2-1 2-1 1-3 2-2-3zM615 1445l-3-2 0-2 2-2 2 2 2 4zM488 1452l2-2 2 1 1 2-4 2zM630 1358l-5 1 1-9 0-3 6 3 2 3zM473 1526l3-2 3 1 0 4-5 0zM522 1457l-3-2 0-4 1-1 2 0 2 2-1 2zM696 1389l-1-1 2-3 2-1 2 1 0 3-1 2-2 0zM534 1373l-2 2-2-4-2-2 3-3 2 1 2 2 1 3zM717 1530l-2-1 1-3 2 0 1 3zM740 1329l1-3 5-4 2 5-5 4z"/>
<path fill="#4E3DB4" fill-opacity="1.0" d="M714 1386l-2 0-3-1-1-3 1-2 2-1 2 0 2 3zM581 1347l-2 5-5-4-3-2 0-2 4-2 2 0 5 2zM689 1403l-5-1-2-7 7 0 2 5zM660 1356l-6-2-1-1 0-4 2 0 2 1 2 2zM657 1478l1-4 4-2 4 2 2 4-5 4zM478 1411l-2-2-2-3 0-4 6 3 0 5zM618 1500l0-3 6-1 1 2 0 4-5 1zM566 1439l-4 1-2-2 2-2 3 1zM554 1468l-2 0-3-2 1-5 5 0 1 4zM680 1362l-1-3 3-4 4 0 1 7-6 6zM652 1406l0-1 2-1 2 0 4 2-4 3-2 0-3 1zM689 1443l-1-3 2-5 3 3 2 1 0 4-2 2-2-1zM544 1457l-6 0-7-2 5-4 2-2 5 3zM515 1379l-3-3 1-4 3 0 5 2-4 3zM611 1503l2-5 2-1 4 3 1 3-2 2-4 0zM671 1501l-3-3 3-4 4-2 2 3 0 1 0 4-3 2zM466 1365l5-8 3-2 6-1 0 4-3 5-4 0zM527 1462l1-3 3-1 1 2-2 3zM531 1449l1-3 4-3 3 0 0 3 0 4-4 2-2 0zM565 1389l-2-2 2-4 3-2 5 3-5 4zM504 1417l-1-2 1-3 4-1 2 3-1 4-2 1zM614 1381l-2 0-2-3 1-1 2-1 2 2-1 2zM630 1499l-1 1-1-1-2-1 0-2 2-1 1 1 1 1zM471 1332l0-7 6-3 2 6-3 4zM478 1331l-2 1-1-1-1-1 0-2 2-1 2 1 0 2zM712 1418l-4-2-4-5 6-3 5 3 1 6zM643 1447l2-5 5-2 4 2 0 2-4 4-4-1zM492 1520l-7-3-2-5-2-2 5-1 2 1 3 4zM627 1383l-4 1-4-2-2-3 1-2 2-1 4 1 3 4zM656 1347l-1-1 1-2 0-4 2 2 1 1 0 3-1 1zM512 1467l6-9 7-3 2 5-7 5zM501 1395l-1 2-2 1-1-3-1-2 2 0 2 0 4 2zM656 1352l-3-2-2-3 0-2 4 0 2 4zM721 1362l-3 1-3-3 1-2 1-1 3 1 1 1zM675 1388l0-3 2 1 1 0 1 2-2 1-2 0zM500 1391l1-2 2-2 2 0 1 1 0 2-2 2-2 0zM697 1463l2-3 3 0 0 3-3 1zM579 1481l0-4 3-5 3 5-2 4zM746 1494l-2-3 1-3 2-4 2 4 3 3-4 1zM573 1442l-3 2-5-1-1-2 2-2 2 0 5 1zM505 1356l-3 2-3-2 0-5 4 0 2 1zM474 1399l3-2 5 0 0 3 1 2-5 2-3-2zM527 1350l1-2 2-2 2 1 1 2-2 2-1 1-2-1zM733 1374l-2 1-1-2-2-2 1-2 3-1 2 1 4 4zM750 1342l-1-1-1-1 2-3 2 0 0 2 1 2zM589 1348l3-2 4 0 0 3-4 1zM516 1488l-4-4 5-4 6 0-4 6zM469 1426l1-4 3-1 2 0 1 2-2 3-3 0zM650 1472l1-1 2-1 3 1 0 1-3 2-2 0zM581 1338l1-4 5-1 1 4-3 3zM671 1346l-1-1-2-3 2-1 2 0 1 3z"/>
<path fill="#6652CC" fill-opacity="0.95" d="M714 1369l-2 1-2-1-6-1 4-5 2-1 4 1 2 3zM672 1514l-1-2 0-1 2-2 2-1 2 3-1 2-2 2zM729 1368l-1-4 2-2 2 0 2 2-2 5zM728 1344l-2-2-1-3 2-1 3 2 0 2zM549 1375l-1-1 2-2 1 0 1 2-1 1zM541 1484l-2 1-6 0-1-3 3-4 2-1 3 2zM545 1519l-1-1 0-2 1-2 2 2 2 1-1 3-1 0zM477 1482l2-2 3-1 3 0 1 2-3 3-1 3-6-2zM600 1462l-3 1-2-2 1-2 4 0zM476 1397l-1-2 1-2 2-2 2 1 3 1-2 3-4 2zM682 1417l-1 1-6-3-7-5 7-5 5 5 4 2zM486 1488l-6 0-4-4 7-2 3 2zM614 1428l-3 0-3 0-1-4 2-3 4 2 2 2zM683 1397l-1-4 2-3 4 2 0 4zM535 1410l-2 1-1 0-1-2 0-1 3 0 2 1zM636 1475l-5-1-3 0-3-6 5-1 3 3zM681 1386l-4-2 0-3 3-2 3 5zM722 1414l3-5 2 0 2 2-2 3zM537 1488l-6 2-2-7-1-4 2-1 7 1 1 5zM528 1354l2-3 4 0 1 2-5 2zM623 1347l-3 0-3 0 2-4 2 0 2 1zM510 1379l-1 1-1-3 1-2 1 0 2 1 0 2zM749 1370l4-3 4-1 3 1 2 2-3 3-4 1-4 0zM579 1400l1-7 5 1 4 3-2 2-6 3zM480 1448l-2-2 1-3 2 0 2 4zM649 1329l3-4 5 0 1 2-3 3-5 1zM488 1485l-7 0-1 0-5-2-2-5 5 1 4 0 3 3zM550 1384l-3-5 4-5 4 4 0 2-2 4zM588 1431l-4 1-3 0-2-4-1-1 1-5 8 0 0 4zM624 1435l-3-1-3-3 3-4 3 0 2 2 1 4zM752 1531l-2-3 1-5 4 2 1 4zM533 1529l-5 0-1-4 5-7 3 9zM721 1373l-2 0-1-2 0-2 2-1 3-1 0 3-1 2zM554 1353l-4 0-5-2 0-2 3-3 6-1 2 5zM690 1446l-3 0 0-1 0-3 1-2 3 2 1 1 0 3zM652 1333l0-2 3-3 1 1 1 1 0 2-1 1-3 1zM679 1425l2-1 2 0 0 3-2 1zM635 1383l-3 0-3-2 1-4 5 3zM700 1378l-2-5 3-3 3 1 1 3-3 2zM588 1520l-5 0-3-2 0-4 2-2 5 3 1 3zM719 1508l4-3 4 1 0 6-6-1zM645 1448l-1-1 3-4 4-2 3 0 1 4-3 7-5-2zM489 1448l0-2 1-2 2 3-1 2zM729 1520l2-3 2 0 3 3-4 2zM687 1492l3-3 7 1-3 6-4 0zM540 1533l0-4 3-1 3 2-1 3-1 3zM702 1516l-2 1-3-2 0-3 2 0 2 0 1 3zM654 1406l-4 0-1-3 1-3 5-1 1 3zM645 1458l-4-2 3-2 2-2 2 1 2 4-2 2zM528 1366l0-1 1-2 3 0 1 3 0 1-3 1zM610 1524l1-2 2-1 3 1-1 2-1 1-3 0zM656 1446l-1 2-3 1 1-3-1-1 1-3 2 2 2 1zM574 1407l5-4 4-1 2 4-4 3zM563 1448l-3 4-4-4-2-3 4-1 4 1z"/>
<path fill="#3A3088" fill-opacity="1.0" d="M560 1329l3-4 4 2 0 2-4 2zM645 1522l1-4 5-3 3 2-3 6zM721 1391l2-3 4 0 2 3-3 3-4 2zM498 1366l-4 2-3-1-1-2 1-3 4-2 2 3zM698 1472l-4 0-4-1 3-3 2 0zM532 1399l1-3 3 0 2 0 2 2-4 3-3 0zM470 1362l-2 0-2 0-2-3 2 0 2-1 1 1 2 1zM529 1380l-2-3 4-5 3 0 0 4-2 3zM487 1440l2-3 2-1 3 2-2 2-4 2zM583 1496l-1-6 3-2 3 5-2 4zM618 1390l-2-5 3-4 6 0 0 6-3 3zM705 1383l1-5 6-1 2 4-4 3zM610 1341l-2-2 1-5 3 3 0 3zM496 1330l-1 1-5 1 2-4 1-2 2 0 1 1zM499 1475l3-4 4 0 1 3-5 5zM710 1422l6-2 5 0 0 4-1 3-5-1zM734 1461l-7 0 3-8 4-1 2 5zM676 1380l-2 0-1-3 2-2 2 1 1 2zM585 1400l-3 1-1-1-2-2 1-2 4 1 1 2zM713 1341l-2 0-3-2-2-2 2-1 2 0 2 1 1 2zM484 1412l1-4 3 1 3 2 0 1-2 3-3 0zM534 1421l-3-2-1-3 2-3 2 2 1 4zM592 1519l-3 3-6-3 0-4 4-2 3 2zM543 1485l0-4 2-3 2 2 0 3zM485 1512l-3-3 1-4 5 0 1 6zM522 1464l-1 1-3 1-2-3-1-2 2-1 3 0 5 0zM560 1367l2-3 3 0 1 2-4 5zM635 1413l-3 3-3-1-2-2 1-3 3-1 3 2zM560 1409l-2-3 1-2 4-1 3 2-3 4zM624 1498l-3 1-4-1-1-1-3-5 7 1 2 1 1 1zM681 1493l-1 3-3-3 0-3 3 0zM687 1416l-3 3-1-3-1-2 3-1 2 1zM571 1452l-3 0-7-2 4-6 4 1 3 2 1 3zM494 1439l-2-2 0-2 1-2 2 0 1 2 0 2zM550 1424l2-3 2 0 4 0-2 3-2 1-6 4zM755 1389l-2-4 1-2 3-1 2 4-2 3zM591 1473l1-2 1 1 2 0 0 2-1 1-3 0zM678 1399l-3 0-1-2 1-4 3 1 1 2zM645 1447l-6-2-7-6 7 0 6 3zM496 1503l-2-2 0-7 3 1 4 5-2 3zM689 1376l-1-3 4-2 1 1 0 2-4 3zM479 1374l-4-4 0-4 4 0 3 4zM616 1357l2-3 2 0 3 0 1 1-2 2-2 1-2-1zM605 1444l-2 0-2-1 0-5 3 1 2 2zM699 1399l-1-6 2-2 2 2 0 3zM581 1471l0-5 4 2 2 3-3 3zM716 1388l-4-1 4-5 4-2 1 1-1 5-2 3zM476 1341l-3-1 1-4 3 1 0 2zM530 1463l-2 0-3-1-1-3 0-3 3 0 2 1 2 3zM725 1519l0-2 4-2 2-1 2 2-2 3-3 2zM589 1506l-3 1-1-5 2-3 5 1 1 3zM607 1421l-4-1-1-2-1-3 3 0 3 0 0 3zM605 1507l0-3 5 0 3 3-1 2-3 1-7 0zM709 1465l0-2 2-2 2-1 2 2-2 2-2 2zM597 1413l-2 0-2-3 1-2 0-2 2 1 2 3 1 3z"/>
<path fill="#5544BE" fill-opacity="1.0" d="M672 1417l-8 1-4-3 2-3 4 0zM599 1483l-2-4 1-3 5 0-1 5zM483 1414l-1-2-1-2 4 0 2 3zM699 1510l-2-2-1-1 2-2 3-1 0 3zM624 1340l-2 1-1-2-2-1 1-2 1 0 3 0 1 2zM530 1364l-3 0-3-1 0-1 1-3 2 1 2 0 2 3zM730 1431l-4-3 0-4 1-2 5 1 2 2 0 3-2 6zM531 1384l2-3 4 1 2 1 4 4-8 1-2 0zM570 1337l-3 2-2 0-2-2 1-2 1-1 2 0 1 1zM561 1488l-4-3 4-2 3-3 3 1 0 4-1 3-2 0zM594 1429l-4-2-2-1 1-3 1 0 2 2zM677 1434l-2 0-4-4 3-5 4 0 3 5zM471 1371l2-2 3 0 3 1-1 3-4 2-2-1zM527 1506l-1-4 5 1 1 3-1 4zM694 1445l-5-1-2-3 2-1 4 1zM479 1327l-3-1-1-4 5 0 2 5zM680 1494l-5 0 2-3 2-1 2 2zM521 1504l-1-2 1-3 3 0 2 2-2 3zM687 1369l-1-3 5 0 2 1 1 1-3 2-3 1zM691 1466l-4-2 2-2 4-2 1 1 1 2-1 2zM733 1450l0-3 1-4 2 1 1 2-1 2zM478 1380l-3-7-1-1 1-4 1-1 2 1 1 5 1 2zM694 1350l-3-3 1-2 3 0 0 2zM591 1347l-3 0-1-5 0-3 3 0 2 3 1 2zM694 1482l-2 1-4-3 2-3 2-1 3 3zM553 1444l-6-1-1-3 4-2 2 2zM533 1343l-4-1-1-4 1-3 2-1 3 4 1 4zM547 1436l-2-1-3-5 4-1 3 1 0 4zM623 1472l-2-5 1-4 5 0 1 3-2 4zM523 1444l-5-3-1-3 4-2 2 1 1 5zM482 1459l-6-1 0-10-2-8 7 5 2 2 0 6zM751 1445l-2 1-5-1 1-2 2-2 4 1zM666 1427l-3 0 0-6 1-5 5 6 1 4zM632 1362l1-3 4-4 4 0 2 3-2 8-5-2zM709 1363l0-2 2 0 2 1 0 3-3 1zM521 1387l-4 2-6-1-2-5 4-2 5 0 4 4zM582 1519l-4 1-9-1 6-7 3 0 5 4zM556 1455l0 2-2-1-2-1 1-2 1 0 2-1 0 1zM490 1403l-1-2 1-4 3 0 1 2-1 4zM600 1485l-4-3 3-5 3 1 1 5zM693 1422l-2 1-3 1-6-3 5-3 4-1 1 3zM690 1453l-1-2 0-3 2-1 1 3 1 2zM734 1445l-5 1-6 1-2-5 2-2 4 0 1-1 3 4zM535 1346l2-5 6-2 6 2-10 6z"/>
</g>
</g>
<clipPath id="c33"><rect x="798.5" y="1322.0" width="291.5" height="212.0"/></clipPath>
<rect x="798.5" y="1322.0" width="291.5" height="212.0" fill="#E8E9D9"/>
<rect x="798.5" y="1322.0" width="291.5" height="212.0" filter="url(#gd_tpc)"/>
<rect x="798.5" y="1322.0" width="291.5" height="212.0" filter="url(#gl_tpc)"/>
<g clip-path="url(#c33)"><g filter="url(#soft)">
<path fill="#2C2A6A" fill-opacity="1.0" d="M898 1462l1-1 3-2 2 0 1 3-3 4-2-2zM926 1522l-4-1-1-3 3-2 2 3zM916 1325l2-2 3-1 1 1 1 2-3 3-3 0zM1022 1429l-4 0-2-3 3-2 3 2zM937 1332l-1-3 1-8 3 3 1 7zM1068 1441l1-2 2 0 0 2-1 1zM851 1368l-1-2 2-3 2 0 2 0 0 1-1 4-3 1zM1021 1390l1-3 2-1 2 1-1 3-2 1zM1041 1423l-3-2-3-5 3-3 3 2 2 5zM1071 1484l-1-2 0-2 1-2 3 0 1 1 0 3-2 1zM900 1351l-1-2 0-3 4 0 2 0-1 5-1 0-2 2zM927 1437l-3-2 0-2 1-2 2-1 2 3-1 2zM804 1346l-2 2-4 3-1-5 1-4 3-3 3 4zM1081 1338l1-3 1-1 3-2 3 3 0 2-2 2-4 1zM864 1524l-3 1-2 0 1-2 0-2 3 1zM920 1509l-3-6 0-5 4 1 1 4zM950 1384l1-2 3-1 2 1 0 2-1 2-3 0zM1057 1525l-1-2-1-2 2-2 4 1 1 2-1 3-2 0zM922 1382l-5 0-1 0-2-2 0-2 2-2 1 2 2 2zM932 1383l-3-1-1-2 1-3 1 1 2 0 1 2 0 3zM1018 1533l-2 1-2 0-3-2 0-2 1-1 4 1 2 2zM1087 1507l0-4 4 1 1 2-1 2-2 1zM934 1349l3-3 3 0 2 3-3 3-4-1z"/>
<path fill="#35327A" fill-opacity="1.0" d="M1050 1327l1-3 1-1 2-1 1 2 1 1-1 3-2 0zM841 1336l-4-4-2-6 4 0 3 6zM951 1502l0-1 0-2 1-1 1-1 1 1 0 3-1 1zM893 1497l-1-3 2-2 1-1 2 0 1 2-1 2-2 1zM833 1374l-2-8 8 3 3 3-6 5zM1083 1390l-3 1-3-2 0-3 6 1zM806 1440l-1-3 2-2 2 1 1 3-2 1zM978 1350l-2-2 1-3 2 0 2 0 2 5-3 0zM1044 1403l-3 5-8-4-2-3 2-3 4-1 6 2zM857 1336l-3 0-2-2 0-5 1-1 4 1 3 3-2 3zM1056 1429l1-3 3-3 3 3-3 3zM862 1381l-5 1-6-4 4-4 5 3zM909 1429l0-2 2-1 4-1 0 3-2 2-2 0zM919 1367l-3 1-1-4 2-1 2 2zM865 1436l1-2 3-3 1 2 1 2-2 2-2 0zM928 1515l-3 1-1-2 1-2 4-1zM879 1419l3-3 3 2 0 3-4 1zM1060 1359l-1-2 2-3 3-1 1 1 2 2-2 3-3 2zM1055 1363l-5 3-3-1-2-3 3-1 5 0zM820 1517l-3 0-2-2-2-1 0-3 5 1 2 0 0 3zM1083 1496l4-4 5-1 1 3-4 3-6 4zM965 1524l-3 0-3-1-1-3 3-1 4 1zM983 1466l-2-2 0-3 4-1 1 5zM824 1411l-2-2 1-4 2 1 1 3zM919 1528l4-1 4-1 1 1 2 1-2 3-2 1-3-1zM894 1468l-2 0-1-2 0-2 2 0 2 1 0 2zM899 1415l1-3 3-1 1 3-4 4zM975 1475l-1-2 1-2 3 0 1-1-1 3 0 2-3 0zM1039 1515l-3 0-1-1 0-4 1-1 2 1 2 3z"/>
<path fill="#3E3A90" fill-opacity="0.95" d="M879 1347l2-4 4 0 1 5-3 2zM913 1356l-3 3-2-6 1-4 2 0 3 1 4 6zM865 1347l-1 2-3 0 0-3 1-2 2 0 1 1zM1073 1399l0-4 5-3 3 2-1 4-4 3zM806 1471l-2-1-2 0-1-2 1-2 3 1 0 2zM1029 1390l-2-1 1-4 2-1 2 1 1 2 0 2-3 2zM834 1403l-4 2-1-1-3-3 3-2 2 0 3 1zM900 1483l-3-2 0-2 2-2 1 0 3 2-2 3zM1047 1401l-6 1-5-3 1-4 5-1 5 4zM1040 1413l-1-2 1-1 2-1 2 0 0 2-1 1-2 2zM882 1365l-4-3-1-4 4-1 3 2 0 5zM856 1477l0-2 1-2 3 0 1 2-1 2-2 1zM1075 1386l-4-1-4-4 0-4 4-1 2 2 2 4zM1086 1458l0-5 4-2 3 2-1 5-4 2zM1067 1408l-3 1-2-1-3-3 0-2 2-1 5 1 1 3zM924 1336l0-2 1-5 3 2 2 1-1 2-1 3-3 0zM909 1438l2-5 4 2 1 2 2 2-3 3-2 1-2-2zM1071 1509l0-6-1-5 4-2 3 3 0 6zM924 1374l-1-1-1-1 0-3 2-1 2 0 1 2-1 2zM1087 1515l-1-2 1-4 3 0 1 2-1 4z"/>
<path fill="#4A44A8" fill-opacity="0.9" d="M1065 1364l-2 1-3-3 0-2 1-2 4 0 1 2 1 4zM844 1335l2-2 2 0 2 1 1 2-1 1-3 4-2-4zM931 1516l2-5 3 2 1 2-4 2zM1078 1493l0-3 2-2 2 0 1 1 1 3-3 2-1 0zM945 1466l-3-2 1-4 2 0 2 3zM813 1444l2-2 2 0 2 2-5 2zM1043 1410l-2-1-3-3 2-2 4-2 2 2 0 2-2 3zM803 1520l1-3 2-3 4 1 6 1-5 3-2 2-5 1zM986 1409l-3 0-3-5 0-3 5 0 2 2 3 7zM812 1397l0-3 4-2 4 1-1 3-3 2zM1032 1484l-3-3 5-2 2 0 4 1-4 4-3 2zM1044 1375l0-4 3-2 2 3-2 4zM923 1348l-2-3 2-3 3 1 0 3zM915 1531l-5 2-4-6 2-5 3 0 5 1 2 3 3 7zM836 1429l1-2 1-2 2 0 1 2-2 3-2-1zM879 1327l0-4 3-2 2 1 2 3-2 3-3 0zM851 1394l-1 2-3-2 0-1 0-2 2 0 2 1zM1079 1358l-1-2-1-2 1-2 2 0 2 3-1 2zM826 1396l-2 1-2 0 0-2 1-2 1 0 3 0-1 1zM1068 1375l-3 0-4-3 0-3 1-2 3 3 3 2zM1043 1478l-6 1 1-4 3-3 3 2zM1063 1494l-1-1 0-4 1-3 3 3 0 2zM1049 1444l-3-1 0-3 3-1 1 3z"/>
</g>
</g>
<clipPath id="c41"><rect x="132.0" y="1547.3" width="292.0" height="209.5"/></clipPath>
<rect x="132.0" y="1547.3" width="292.0" height="209.5" fill="#BFC9C6"/>
<rect x="132.0" y="1547.3" width="292.0" height="209.5" filter="url(#gd_bhtg)"/>
<rect x="132.0" y="1547.3" width="292.0" height="209.5" filter="url(#gl_bhtg)"/>
<g clip-path="url(#c41)"><g filter="url(#soft)">
<path fill="#3530AC" fill-opacity="1.0" d="M405 1686l-4-6 3-5 8 3-1 6zM348 1682l-4 2-4-4 3-3 5 1zM370 1599l-1-4 3-3 5-4 1 7 0 2-1 3-4 1zM180 1718l-10-4 5-10 6 0 3 6zM310 1758l-3 1-3 0-2-3-2-3 7-3 3 4zM135 1635l0-9 8-4 5 6-4 9zM155 1690l-3-4 2-4 5-3 3 4-2 6zM395 1646l-9 2-6-3-1-7 1-3 6 1 3 2zM195 1600l-1-3 3-4 5 1 1 5-2 3-3 0zM157 1639l2 4-11 0 1-3-8-3 8-3 6-1 2 3zM425 1614l-4-1 0-4 1-2 4 2zM367 1710l-6 2-4-4-3-5 6-3 6 5zM348 1609l-2 1-4-1-1-4 2-3 3 1 4 3zM426 1605l-8 5-2-10 0-7 5-4 6 3 1 4 1 9zM354 1693l1-5 7-2 1 3-4 5zM241 1664l-8-3-5-2-3-3 2-5 5 1 5 4zM364 1707l2-3 5-1 1 3-1 4-4 0zM421 1666l-6-10 5-2 5 1 2 8zM405 1560l1-4 4 0 2 2-3 4zM198 1617l-3-4 1-10 6-8 7 5 0 6-1 6-6 13zM389 1624l-3 0-3-1-1-2 0-3 3-1 2 0 6 4zM322 1721l-3 0-4-5 4-3 4 1 2 5zM371 1662l-6-4 0-5 5-1 8 6z"/>
<path fill="#2A2698" fill-opacity="1.0" d="M405 1559l8-3 4-7 6 5 3 3 0 5-9 3-6 4zM333 1641l-6 0-3-10 2-3 7-1 5 6zM352 1678l-5 0-4-5-5-6 6-3 6 1 9 8zM151 1585l-8-7 3-11 4-3 9 7-3 11zM258 1633l-3-3-2-11 7 5 2 6zM259 1599l-3 2-6 1-9 0 4-7 2-3 8 1 5 1zM216 1638l2-5 6-3 2 7-6 2zM336 1686l-3 1-4-2 1-3 5 0zM338 1595l-2-1 0-5 1-3 4-3 2 5 0 6-3 2zM169 1634l-6-5-2-3 0-2 2-3 4 0 2 3 1 4zM327 1633l-1-3 1-2 2-3 2 1 3 1-1 4-3 2zM367 1647l-3-11 0-5 3-5 5 1 2 7 0 5zM158 1576l-4-2 0-5 3-1 3 4zM402 1649l3-4 7 1-1 5-6 3zM317 1683l-6-1 4-8 4-1 4 2-1 2-1 5zM398 1646l-1-3 2-14 6 5 4 6-4 9zM253 1588l-5-1-1-5 1-3 6 3 0 4zM361 1668l2-1 3-5 3 5 4 3-6 2-3-1z"/>
<path fill="#3F3AB4" fill-opacity="0.95" d="M244 1605l-6-3-1-7 0-7 6-10 6 17-1 6zM357 1662l-6 0-4-5-1-4 7-2 2 2 2 5zM342 1575l-5-1-2-2-1-3 3-2 3 2 1 2zM399 1615l5-3 4-4 2 4 1 2-2 3-4 1zM334 1666l-6-1-6-13 1-5 9-2 11 6-4 11zM345 1675l-11-7-3-5 2-5 10-4-1 10zM314 1668l-1-3 1-3 3-6 2 4 3 8-6 0zM353 1630l1-10 3-5 5 0 0 6-4 5zM371 1632l1-2 3-2 1-1 3 2-2 5-1 5-4-5zM237 1574l-5-4-1-7 4-5 5 4 2 8zM338 1693l-5 1-4-3-1-4 1-4 7 3 2 3zM395 1618l0-1 2-2 3-1 1 3 0 2-3 2-2 0zM392 1673l1-9 10-6 4 7-5 7zM383 1651l-7-5 1-8 6-6 5 4 1 5-1 9zM351 1692l3-6 5-1 8 2-6 6-7 1zM394 1585l2-12 5-6 5-1 4 12-8 2zM328 1686l-2-4 0-9 9-10 3 15-4 7z"/>
<path fill="#201D7A" fill-opacity="1.0" d="M302 1595l-2-6 5 2 3 2 3 3-2 3-3 2-4-1zM292 1705l4-10 4-3 2 5-3 4zM422 1662l-4-1-7-2 1-4 1-6 5 1 5 3 1 3zM169 1687l1-4 1-6 7 2 3 4 1 3-6 3-4 1zM160 1763l-3-8 4-9 7-3 7 9-9 13zM344 1691l-3-5 2-3 4-5 3 1 2 5 0 4-4 2zM305 1741l-3 1-8 1-1-6 6-5 3 1 4 5zM312 1635l-5 2-10-7-5-11 11 2 7-2 4 9zM236 1626l-1-9 5-5 4 0 2 8-3 6zM363 1686l-8-7 3-6 7-7 3 8 0 8zM382 1575l-10 1-3-17 12-3 5 2 2 13zM375 1618l-6 0-2-3 1-3 5 2zM388 1572l-1-3 3-3 3 1 0 4-2 2zM162 1662l-4 4-4-3-2-6 4-1 6 0zM323 1656l-5 6-3-8 2-4 4-1 3 2zM157 1591l-3 0-4-3 4-3 6 0zM158 1637l0-9 1-6 3-4 4-2 2 5 0 5-3 4zM352 1714l-5-2-3-7 3-3 3-2 6 1 3 5-3 7zM372 1678l1-4 5-2 3 0 2 3-3 3-2 0zM349 1621l-1-4 4-1 3 1-1 3-3 2zM362 1679l8-9 8 0 3 5-1 4-12 7zM398 1609l3-4 3-2 6 1-1 2-2 4-7 1zM324 1648l-8-3-4-6 5-1 5 4zM317 1761l-13 0 3-8 4-5 10 2-2 8z"/>
<path fill="#3833AA" fill-opacity="0.95" d="M302 1732l0-3 4-3 4 1 1 2-1 3-4 3zM364 1688l3-3 5-2 2 5-1 6-6-3zM173 1628l-8 2-12-1 8-7 8 1zM241 1568l-2 2-3-1-1-5 4-1 2 2zM346 1745l-6 5-6-7 0-3 7-4 3 2zM194 1685l6-4 7 4-3 6-8 3zM312 1697l-3-4 0-3 5-6 2 8-1 4zM390 1585l1-5 2-2 3 0 2 2-2 4-3 2zM358 1617l-7-5 8-8 13-4 0 11-1 4-8 6zM383 1603l-1-6 8-3 9-2-5 11-7 2zM380 1694l0-11 8-1 4 5 0 9zM318 1716l-4-9 8-8 6 9-3 8zM411 1554l-3-1-1-2 0-1 2-2 3 0 1 3-1 2zM260 1558l2-6 8-3 2 6-8 6zM248 1714l0-5 7-5 3 0-1 6-5 5zM322 1605l9-6 11-2 1 3 7 5-4 5-9 2-7-3zM337 1716l-4-2 0-3 2-5 3 1 6 5-4 3zM132 1698l1-3 2-4 4 3 2 5-7 1zM325 1697l-1-20 7-8 13 5-9 13zM353 1697l-6 6-6-8-3-8 9 1 4 3zM228 1597l-4 2-6 0-2-5 6-2 6 3zM361 1618l0-5 4-2 3 1 1 2-1 3-3 3zM398 1667l7-9 10 2 0 9-10 3z"/>
</g>
</g>
<clipPath id="c42"><rect x="466.5" y="1547.3" width="291.0" height="209.5"/></clipPath>
<rect x="466.5" y="1547.3" width="291.0" height="209.5" fill="#BEC8C6"/>
<rect x="466.5" y="1547.3" width="291.0" height="209.5" filter="url(#gd_bhtg)"/>
<rect x="466.5" y="1547.3" width="291.0" height="209.5" filter="url(#gl_bhtg)"/>
<g clip-path="url(#c42)"><g filter="url(#soft)">
<path fill="#3530AC" fill-opacity="1.0" d="M612 1589l-1 3-6-2-2-2 2-4 4 0 3 1zM580 1696l-3-6 3-7 5 1 3 11zM640 1582l-5 0-3-1-1-7 2-1 7 3 1 4zM529 1590l-1-7 0-7 7 3 5 2-4 7-2 3zM557 1600l-3 3-9-2-3-6-1-7 8-1 7 2 3 7zM516 1580l0-5 7-3 0 5-4 4zM692 1648l0-7 6-6 8 1 4 7-12 9zM759 1656l-6 1-6 1-15-5 7-6 9-9 6 6 4 7zM745 1709l-7 1-3-5 3-4 7 3zM628 1682l-7 4-4-1-6-7 8-2 7 3zM680 1668l2-4 5 4 0 4-5 1zM511 1616l-3 1-4-1 0-3 1-2 2-1 2 1 2 3zM757 1574l-3 2-6-5 0-5 3-5 5 1 4 2 2 8zM720 1721l3-8 7-1 4 2 6 7-8 3-14 4zM521 1591l2-11 11 4 6 0-2 7-5 3-11 5zM648 1692l-7-1-2-8 2-9 7 2 9-1-3 13zM593 1604l-1-4 5-2 3 2 0 4-3 3zM514 1733l-2-4 4-1 2 0 3 3-1 1-3 2zM648 1689l4-3 3-1 2 1 3 4-1 2-5 1-4 1zM695 1653l-3 3-2-6 0-2 1-2 3 0 2 3 1 2zM739 1637l-6 1-11-2 7-6 4-4 10 1zM724 1638l-4 1-6-5 6-2 6 3zM642 1607l-2-4 1-7 5-1 4 0 1 5-1 6-4 2zM684 1574l-5-1-1-9 4-10 5 5 5 2 1 7-2 14zM530 1639l-7-2 1-9 5-3 7-2 3 13z"/>
<path fill="#2A2698" fill-opacity="1.0" d="M755 1657l-1-2 1-3 1-2 3-2 2 5-2 2-2 2zM614 1578l-13-2-3-9 8-6 14 12zM479 1565l-6-7 1-12 4-1 7 8 0 7zM576 1615l-3-10 12 3 8 3 2 3-3 4-8 4-6-5zM676 1573l-2-6-4-10 8 1 7 3 0 7-1 3zM494 1730l6-8 7-3 8 4-2 8-13 5zM484 1647l-7-1-6-7 2-4 4-4 10 2 0 9zM671 1638l-4-2-1-4 1-4 4 1 2 5zM572 1721l-6-2-4-7 5-5 7 1 5 11zM552 1725l-6-5 2-9 9-4 2 8 0 9zM723 1572l-7-3 3-5 3-2 4 8zM574 1703l-5-2 7-5 4 0 8 0-6 5-2 2-4 2zM749 1561l-4-1-4-3-2-6 6-4 4 3 5 6zM615 1687l-5-3-7-3 8-4 5 0 3 5zM569 1673l-2-3 0-3 3-1 3 1 1 3-1 3zM653 1677l-2-2 4-3 2-1 4 0-2 3 0 3-3 0zM658 1681l0-8 8-1 3 4-1 5-6 4zM548 1593l-7 3-10-1 3-8 4-5 6 2 3 3zM589 1632l-1-3 5-4 3-2 3 5 0 2-4 4-4 0zM503 1655l-4-7 7 1 2 1 1 5-3 2zM641 1649l-4-5 5-1 4 0 0 3-2 5zM732 1663l-1-7 6-7 5-1 2 9-6 6zM522 1612l-6-3-3-9 2-6 7 1 9-1-1 7-4 8zM539 1731l-2-2-4-4 6-1 2 1 2 2-1 4z"/>
<path fill="#3F3AB4" fill-opacity="0.95" d="M524 1709l1-3 4-4 3 3 1 2-1 3-4 1zM714 1714l-4-2-1-3 3-2 3 3zM552 1714l0-2 4-1 2 0 1 3-2 3-3 0zM657 1628l-3-9 11-1 2 5-3 5zM498 1580l-2-3 2-5 4-4 6-1-2 6 0 4-4 3zM609 1718l-3-2 0-4 2-3 3 0 3 5-2 2zM711 1569l4-7 5 6-2 5-6 0zM491 1663l-4-9-4-12 13 0 5 5 0 6zM482 1710l2-5 3-4 7 3-2 5-7 3zM586 1634l1-4 6-2 2 2 3 5-8 1zM563 1717l-6-10 7-6 9 2-2 9zM729 1593l-7 0 2-7 2-6 5 2 3 1 1 8-3 2zM495 1597l-4 1-3-2-1-5 3 1 3 1zM722 1646l-1-4 4-7 9-2 1 5 2 10-9-1zM605 1638l-5-4 4-6 4 1 2 6zM712 1606l-5-6 5-6 3 2 2 7zM590 1687l-4-1-8 1 3-7 3-4 3-5 4 7 2 6zM685 1591l1 7-15-4-5-3 1-8 4-2 8-7 6 11zM673 1654l-6 2-4-3-3-5 3-3 11-2 0 7zM593 1608l-2-5 3-11 5 5 2 3-1 6-4 4zM576 1637l-2 1-3-2 0-4 1-5 3 3 3 4 1 1zM659 1605l6-3 6 0-2 8-5 3zM605 1751l4-3 4 0 5 0 0 3-1 4-7 6-6-5zM569 1594l-3-4 0-6 5-1 6 0 1 3 0 7-6 3zM544 1754l-4 10-6-5-5-4-1-5 5-3 8-4 0 6zM725 1737l2-5 6-4 5 1 4 4-2 5-3 4-8-1zM663 1602l-10-2-3-3 1-9 1-6 10 7 2 7zM734 1612l8-10 8-6 16-6-7 10-4 7-10 4zM625 1553l-2-8 5-4 8-5-2 10-5 8zM510 1646l-5-4 6-2 3 2 2 5zM474 1692l-8-6 9-10 5-2 4 5 1 6-4 5zM662 1615l2-4 4-1 2 1 1 3-4 3-3 0zM703 1640l-6-3-3-4 2-7 6 4 2 5z"/>
<path fill="#201D7A" fill-opacity="1.0" d="M494 1589l1-4 4 0 3 1-2 5-2 0zM632 1689l-2-4 3-7 6 3 1 4-4 4zM483 1687l-2-4 4-5 3-1 8 2-5 5-4 3zM617 1654l-7-12 2-14 9 6 9 18zM606 1565l-8-3-3-6 4-10 14 12zM612 1702l-7-2 4-7 2 0 4 3-1 6zM531 1646l-7-1 1-6 4-1 5 4zM708 1758l-3-2-1-3 3-5 4-1 9 2-5 7-3 2zM501 1626l-5-2 3-6 8-5 3 3 2 4-2 4-6 6zM689 1562l-1-10 6-5 6 3-2 10zM670 1673l1-6 7-3 5 3-2 7-8 3zM705 1591l13-9 6-1 6 3-6 7-6 1zM510 1681l-3 1-2 0-2-3 1-2 3-2 3 3zM607 1678l1-4 3-1 3 2 0 2-2 3-2-1zM659 1627l-4-2 0-11 6 4 3 2 0 7zM708 1690l1-4-1-7 7 0 3 3 3 7-6 1zM751 1634l-5 3-8-2-5-4 1-3 6-8 6 5 12 5zM519 1561l-6-2 1-6 4-2 4 4zM655 1677l-1-7 3-3 3-2 4 0 3 5-6 5-3 6zM493 1695l1-4 3-13 6 3 4 8-1 8-6 4-7 5zM758 1560l-3 2-5-2 0-4 3 0 4 2zM552 1663l3-3 6 0 1 3-2 3-5 0zM743 1703l-5-8 0-9 8-9 9 5-2 11-5 5zM651 1617l-1-7-2-7 1-4 5-1 4 3 0 3 1 10zM628 1610l2-8 6-5 4 2 1 7-7 5z"/>
<path fill="#3833AA" fill-opacity="0.95" d="M651 1557l-2-5 4-4 4 1-2 6zM603 1601l-4 1-4-1-1-3 2-4 5 3zM501 1576l-1-7 4-2 6-1 1 7-5 9zM614 1636l9-6 7 0-1 6-6 2zM656 1632l7-4 5 1-1 6-4 2zM699 1600l-5-2-1-3 0-2 2-3 4 0 3 4 0 4zM731 1724l-3-1-1-4 3-2 3 0 1 2 0 5zM703 1745l1-4 2-1 3 3 0 2-3 4-2-2zM597 1601l-4-2-5-15 7 2 6 1 3 6 0 7zM737 1561l-5 0-3-1 1-5 4-1 2 3zM545 1710l-2-2-1-5 1-2 4-1 3 3 1 4-3 2zM681 1690l-1-4 4-6 6-3 5-3 0 9-2 5-7 6zM461 1669l3-8 6-7 5 5 3 6-3 5-3 5-8-5zM726 1567l-5 3-5-4 1-6 8 0zM588 1668l1-5 3-2 3 2-1 3zM563 1742l7-7 10 5-2 7-14 10zM596 1637l6-10 10-3 5 5-11 11zM592 1556l-6-3-3-11 8 2 5 2 0 7zM474 1720l-2-3 2-9 4 3 0 8zM621 1718l-2-5 2-4 6-4 8 2-4 11-4 4zM717 1570l-7 0 0-6 5-2 3 3zM644 1657l3-4 5 1 4 6-10 0zM543 1640l-3-2-1-4 2-3 4 2 1 5zM607 1680l3-6 9-5 6 1-4 10-8 3zM744 1644l1-4 5-3 4 1 1 4-5 5-5 1zM511 1584l-2-2-1-4 3-2 2 0 2 3-2 6zM580 1627l1-10 4-5 6-1 3 7-6 7zM587 1554l-6-1-2-5 1-4 5-2 3 4 0 6z"/>
</g>
</g>
<clipPath id="c43"><rect x="799.5" y="1547.3" width="292.0" height="209.5"/></clipPath>
<rect x="799.5" y="1547.3" width="292.0" height="209.5" fill="#C0CAC7"/>
<rect x="799.5" y="1547.3" width="292.0" height="209.5" filter="url(#gd_bhtg)"/>
<rect x="799.5" y="1547.3" width="292.0" height="209.5" filter="url(#gl_bhtg)"/>
<g clip-path="url(#c43)"><g filter="url(#soft)">
<path fill="#3530AC" fill-opacity="1.0" d="M808 1698l-2-3 1-7 3 1 4 0 1 4 0 2-3 2zM831 1653l0-8 2-7 5 2 3 6-4 4zM854 1751l-6-4-2-6-1-8 6 0 5 1 5 4-5 6zM846 1659l2-3 5-2 1 4-5 4zM902 1755l-3-3 0-4 2-9 7 7-1 8zM1055 1629l-7-2-4-3 2-7 3-2 6 4 2 4zM1070 1620l-6-6 0-9 3-1 9-11 1 16-2 8zM1023 1662l-1-3 7-3 3 1 3 1-2 6-3 3-11 3zM818 1671l-3 0 0-6 2-1 3-1 1 4-1 3zM871 1602l3-4 6-1 4 5 6 3-13 2-4-2zM962 1628l-2 1-2 0-4-5 3-3 5 3 1 2zM840 1576l-2-6 4-1 6 0-2 4-2 3z"/>
<path fill="#2A2698" fill-opacity="1.0" d="M983 1703l1-7 7-2 4 6-5 5zM917 1728l5-12 7-8 6 9-6 10zM949 1590l-3 1-4-4 1-3 3-2 3 3 1 2zM818 1692l-3 2-3-2 1-2 3-2zM982 1635l-4-2-4-4 1-5 4-1 2 0 5 5 4 3zM1093 1738l-3 3-11-2-3-5 0-7 9 1 7 4zM929 1663l-3-4 1-3 1-5 2 0 2 3 1 3 0 5zM1028 1607l1-2 3-1 4 1 0 2-2 2-3 1-2 0zM1028 1663l-6 0-3-5-1-5 5 0 6 4 3 4zM994 1699l4-6 7-4 3 3 2 8-7 0z"/>
<path fill="#3F3AB4" fill-opacity="0.95" d="M818 1580l0-11 8-1 3 4-4 7zM1001 1597l-2-8 1-5 4 1 1 7zM1057 1697l-4 1-1-5 3-3 2 1 3 2zM1090 1731l-5-4-3-4 3-9 9 5-2 8zM1086 1743l-2-1-1-4 2-2 3 0 1 3 0 5zM1080 1620l3-3 3-1 3 2-1 2-1 6-4-4zM1042 1667l2-4 3-3 2 3 0 4-4 1zM1037 1699l8-12 10-2 3 8-8 7zM949 1759l-4-1-4-12 7-2 5 1 3 5 0 9zM1088 1703l-7 1-4-3 2-7 7 4zM854 1648l2-4 5-2 2 2-1 4-3 1zM885 1710l-8 9-5-8-1-7 5-3 9 5zM1060 1640l-3-2 0-2 1-1 2-1 2 1 1 2-1 2zM879 1732l4-10 13-5 12 1-18 15zM871 1701l-1-3 1-5 3-2 2 0 3 5-2 3-3 4zM1079 1568l2-4 3-2 2 1 1 3-2 2zM1016 1694l-1-4-6-9 11-3 6 3 2 9-5 3zM918 1758l3-4 2-4 4 1 0 3-2 2zM935 1701l-3-1-9 0 3-8 3-3 3-1 5 5 2 3zM827 1669l0-7 8-8 1 9-4 7zM809 1700l-6-3-1-12 5-2 4 7 1 8z"/>
<path fill="#201D7A" fill-opacity="1.0" d="M1072 1571l0-8 4-3 8-1-3 9-3 4zM1017 1606l-2-2 2-5 3-3 4 0 1 2 0 5-3 3zM1042 1688l2-4 0-4 8 1 1 4-2 4-2 1-4 1zM993 1666l-5 0-6-3 6-3 5 2zM1009 1679l0-6 3-2 3 3-1 6zM843 1700l-3 1-4-1 1-6 3-1 2 0 3 4zM840 1721l-3-2-1-2-2-5 5-3 1 4 2 3 0 3zM796 1732l4-11 4-1 4 3 7 5-5 3-6 2zM865 1591l-2-5-1-4 4-5 3 3 1 5-1 6zM971 1648l-2-7 5-6 5 3-1 7zM1077 1616l-6-3 0-5 1-7 4-3 8-3 0 14 0 6zM799 1623l3-3 3 1 0 3-4 2zM1048 1654l-4-3 3-3 2-2 3 0 1 3 0 3-3 2zM1063 1660l-17-7-2-9 9-12 7 15zM866 1650l-2-4 5-6 5 0 0 4 0 6-5 3zM865 1708l-3-4-1-9 3-2 9 4-3 7zM1075 1583l-3-2 1-3 4-1 1 4zM1027 1758l-2-4 1-3 3-1 3 2-2 4zM872 1718l-9 0-7-8 0-3 4-6 7 0 3 7 7 9zM1020 1612l0-3 3-2 2 2-1 4-2 0zM1020 1668l6-1 7 1-4 4-4 0zM831 1616l-2-1-1-5 1-2 4 3 1 3z"/>
<path fill="#3833AA" fill-opacity="0.95" d="M864 1646l-1-3 1-3 3 2 2 5zM861 1717l-3-3 0-4 3-1 3 2 1 4-1 2zM830 1668l-5 0 0-4-2-7 8 2 2 3 0 4zM985 1620l-6-4-1-5 2-4 7 8zM804 1715l3-3 4 1 0 4-5 2zM922 1625l-2-2-2-2 1-4 1-1 4 3 0 3zM863 1701l-2-2 2-6 5-1 2 4-2 5-2 2zM875 1736l-8-7-2-7 5-2 5 3 2 7zM876 1710l-4-1-1-5 3-1 3 3zM1058 1614l2-3 3-2 4 1 1 6-6 0zM1054 1711l-6 0-6-4-1-4 10-4 2 6zM1063 1745l0-8 5-3 7-3 4 4-3 11-9 2zM844 1671l0-5 2-2 3-1 2 1 0 3-2 2-1 1zM1001 1706l1-6 10-6 1 8-1 4-6 5zM931 1593l-3 2-3-4-5-3 5-2 4-1 4 3-1 3zM900 1667l-17 3-7-3-6-5 3-7 7 0 10 5zM1001 1646l3-5 1-3 3 0 1 3-1 4-2 0zM830 1656l-3-10 1-6 5 0 6 10zM835 1590l-5-6-1-9 3-4 6 1 5 3 0 6-6 7zM1079 1588l-4-4-3-4 3-6 4-2 5 8-1 6zM950 1694l-1-5 4-5 2 3-1 6zM804 1702l-3 0 1-4 1-4 2 0 2 2 1 3-2 3zM939 1651l-1-4 5-6 8-2 3 10-6 3-7 3zM1042 1610l-1-5 3-3 4 3-1 4zM847 1705l-5-3 7-4 5-2 3 3-1 2-3 10-8 2z"/>
</g>
</g>
<text x="72.7" y="1440.7" font-size="33.4" font-weight="bold" text-anchor="middle" fill="#26262c" transform="matrix(0.929 0 0 1 5.16 0)">TPC-1</text>
<text x="64.7" y="1677.4" font-size="33.4" font-weight="bold" text-anchor="middle" fill="#26262c" transform="matrix(0.96 0 0 1 2.59 0)">BHT101</text>
<text x="272.3" y="1785.8" font-size="33.4" font-weight="bold" text-anchor="middle" fill="#26262c" transform="matrix(0.98 0 0 1 5.45 0)">NC</text>
<text x="620.8" y="1792.2" font-size="33.4" font-weight="bold" text-anchor="middle" fill="#26262c">MIMIC</text>
<text x="931.8" y="1792.2" font-size="33.4" font-weight="bold" text-anchor="middle" fill="#26262c">INHIBIT</text>
<line x1="1312.2" y1="1548.8" x2="1312.2" y2="1519.5" stroke="#E07A30" stroke-width="1.4"/>
<line x1="1302.8" y1="1519.5" x2="1321.5" y2="1519.5" stroke="#E07A30" stroke-width="2.0"/>
<rect x="1293.9" y="1548.8" width="36.5" height="165.6" fill="#E07A30"/>
<line x1="1365.8" y1="1458.3" x2="1365.8" y2="1424.5" stroke="#DA321E" stroke-width="1.4"/>
<line x1="1356.4" y1="1424.5" x2="1375.1" y2="1424.5" stroke="#DA321E" stroke-width="2.0"/>
<rect x="1347.5" y="1458.3" width="36.5" height="256.1" fill="#DA321E"/>
<text x="1366.7" y="1423.1" font-size="26" text-anchor="middle" fill="#111" letter-spacing="1.8">**</text>
<line x1="1418.8" y1="1619.9" x2="1418.8" y2="1598.1" stroke="#4B5EAD" stroke-width="1.4"/>
<line x1="1409.4" y1="1598.1" x2="1428.1" y2="1598.1" stroke="#4B5EAD" stroke-width="2.0"/>
<rect x="1400.7" y="1619.9" width="36.1" height="94.5" fill="#4B5EAD"/>
<text x="1419.7" y="1596.3" font-size="26" text-anchor="middle" fill="#111" letter-spacing="1.8">**</text>
<line x1="1508.0" y1="1619.9" x2="1508.0" y2="1602.0" stroke="#E07A30" stroke-width="1.4"/>
<line x1="1498.6" y1="1602.0" x2="1517.3" y2="1602.0" stroke="#E07A30" stroke-width="2.0"/>
<rect x="1490.5" y="1619.9" width="34.9" height="94.5" fill="#E07A30"/>
<line x1="1561.2" y1="1559.5" x2="1561.2" y2="1534.6" stroke="#DA321E" stroke-width="1.4"/>
<line x1="1551.8" y1="1534.6" x2="1570.5" y2="1534.6" stroke="#DA321E" stroke-width="2.0"/>
<rect x="1543.7" y="1559.5" width="34.9" height="154.9" fill="#DA321E"/>
<text x="1562.1" y="1530.0" font-size="26" text-anchor="middle" fill="#111" letter-spacing="1.8">**</text>
<line x1="1614.3" y1="1650.1" x2="1614.3" y2="1635.7" stroke="#4B5EAD" stroke-width="1.4"/>
<line x1="1605.0" y1="1635.7" x2="1623.7" y2="1635.7" stroke="#4B5EAD" stroke-width="2.0"/>
<rect x="1597.3" y="1650.1" width="34.1" height="64.3" fill="#4B5EAD"/>
<text x="1615.2" y="1636.0" font-size="26" text-anchor="middle" fill="#111" letter-spacing="1.8">**</text>
<line x1="1276.8" y1="1351.8" x2="1276.8" y2="1716.0" stroke="#000" stroke-width="3.2"/>
<line x1="1260.8" y1="1714.4" x2="1652.0" y2="1714.4" stroke="#000" stroke-width="3.2"/>
<line x1="1260.8" y1="1714.4" x2="1276.8" y2="1714.4" stroke="#000" stroke-width="3.2"/>
<text x="1255.0" y="1724.3" font-size="29" font-weight="bold" text-anchor="end" fill="#1a1a1a">0</text>
<line x1="1260.8" y1="1589.7" x2="1276.8" y2="1589.7" stroke="#000" stroke-width="3.2"/>
<text x="1255.0" y="1599.6" font-size="29" font-weight="bold" text-anchor="end" fill="#1a1a1a">100</text>
<line x1="1260.8" y1="1465.0" x2="1276.8" y2="1465.0" stroke="#000" stroke-width="3.2"/>
<text x="1255.0" y="1474.9" font-size="29" font-weight="bold" text-anchor="end" fill="#1a1a1a">200</text>
<line x1="1364.6" y1="1714.4" x2="1364.6" y2="1730.4" stroke="#000" stroke-width="3.2"/>
<text x="1364.6" y="1758.0" font-size="26" font-weight="bold" text-anchor="middle" fill="#1a1a1a">TPC-1</text>
<line x1="1560.8" y1="1714.4" x2="1560.8" y2="1730.4" stroke="#000" stroke-width="3.2"/>
<text x="1560.8" y="1758.0" font-size="26" font-weight="bold" text-anchor="middle" fill="#1a1a1a">BHT101</text>
<text x="1153.7" y="1533.2" font-size="30" font-weight="bold" text-anchor="middle" fill="#1a1a1a" transform="rotate(-90 1153.7 1533.2)">Invasion cells number</text>
<rect x="1602.5" y="1379.6" width="38.5" height="18.5" fill="#E07A30"/>
<text x="1664.0" y="1397.2" font-size="31" text-anchor="start" fill="#1a1a1a">NC</text>
<rect x="1602.5" y="1427.9" width="38.5" height="18.5" fill="#DA321E"/>
<text x="1664.0" y="1445.5" font-size="31" text-anchor="start" fill="#1a1a1a">MIMIC</text>
<rect x="1602.5" y="1476.2" width="38.5" height="18.5" fill="#4B5EAD"/>
<text x="1664.0" y="1493.8" font-size="31" text-anchor="start" fill="#1a1a1a">INHIBIT</text>
<clipPath id="c51"><rect x="133.3" y="1871.4" width="292.3" height="211.4"/></clipPath>
<rect x="133.3" y="1871.4" width="292.3" height="211.4" fill="#E6E6CE"/>
<rect x="133.3" y="1871.4" width="292.3" height="211.4" filter="url(#gd_tpc)"/>
<rect x="133.3" y="1871.4" width="292.3" height="211.4" filter="url(#gl_tpc)"/>
<g clip-path="url(#c51)"><g filter="url(#soft)">
<path fill="#5B46C4" fill-opacity="1.0" d="M359 1968l-4-2-3-3 2-1 4 1zM158 1972l1-2 1-1 2 0 2 3-2 2-3 1zM260 1946l-1-2-1-3 1-4 2 0 2 3 1 3-1 3zM350 1979l-2-4 2-2 2 0 0 2 0 4zM374 2048l2-1 2 0 0 2-1 2-2 0zM321 2005l0-3 6 0 0 1-1 3-3 0zM185 1893l-3-1-1-3 2 0 3 1zM141 2025l-2 0-3-1-1-2 0-2 3 0 2 1 2 2zM223 2018l-1-4 3-1 2 1-1 3zM351 1890l-4 0-4-2-1-3 0-3 5 1 3 3 2 2zM367 2080l-3-1 0-3 0-3 2-1 2 2 2 3-2 2zM382 1904l1-1 3-1 0 2-1 2-2 0zM417 1987l0-2 0-1 2-1 1 1 1 1-1 2-2 0zM257 1875l0-2 2-3 5-2-1 5-1 2-2 2zM198 2078l-5-2 3-2-1-5 3 1 3 2 1 3-2 3zM191 1918l-2-1-2-4 1-3 2-1 3 2 1 4zM423 1992l-2 0-1-3 1-2 1-2 3 2 0 2 0 3zM283 1898l2-3 5-3 2 1 0 3-2 3-4 2zM288 1889l3-2 1 1 1 1 0 3-3-1zM196 2083l-4-2-5-1-2-4 4-3 7 0-1 5zM166 2000l-3-4 0-5 4 0 2 6zM272 1898l-2-1 0-2 1-1 2 1 0 2zM406 1915l-1-2 0-2 2 1 1 2zM385 1993l1-2 3 1 0 1-1 1-3 0zM402 2004l-2-1 2-3 2-1 1 0 1 3-1 1-2 2zM308 2000l-1 1-2 0-1-1 0-2 1-1 3-2 3 4zM223 1989l-1-1 0-4 3 0 1 4zM202 1960l2-2 0-1 1-1 3 0 0 2-1 2-1 0zM342 1936l-3 1-2-2 0-3 3 0 3 2zM174 1937l1-2 2 1 2 1 0 0 0 2-3 0-1 0zM359 2032l1-2 2-2 1 0 1 2-3 2zM187 2010l-2-4 3-3 1-1 2 2 1 3-3 3zM263 1897l-2-2 2-1 2 0 0 1 1 3zM353 2022l-1-1 3-1 1 0 1 1-1 2-2 1zM420 1937l5-3 5 0 0 6-8-1zM218 2063l-4-3-1-5 4 0 2 5zM383 2054l-2-7 3-3 4 2-2 7zM230 1974l-3 0 1-3 0-1 2-2 5 0-1 5-1 1zM283 1969l1-1 2 0 2 0 0 2-2 1-2-1zM231 2056l1-1 2-4 2 2 0 2 0 1-2 1-2 0zM156 1908l-1-2-1-3 2-1 2 2 0 3zM262 1963l-1 1-2-1-3-1 1-3 3 0 1 1 2 2zM211 1983l1-4 4 1 1 2-3 1zM265 2011l0 0 2-3 1 2 0 1 0 2-2 1 0-1zM373 2064l-3-2 5-4 1 1 3-1 0 3-2 2-3 1zM303 2002l3-3 5 0 0 2-3 5-7 2zM247 2050l1-3 2-2 3 1-1 3-3 1zM373 1880l-3 1 0-2-1-3 3 0 2 1 0 1z"/>
<path fill="#4E3DB4" fill-opacity="1.0" d="M416 1884l2-3 1-1 3 1 0 3-3 1-2 0zM297 2005l4-1 3-1 2 1 0 2 1 3-4 0-2-2zM264 1885l3-4 5-1 0 3-5 4zM379 2011l-2 1-2-1 0-2 0-1 1-1 2 1 2 2zM258 2058l-1-6 1-5 4 2 1 4zM131 1908l2-2 3 1 1 1-2 2-5 1zM362 1949l-1-1-1-3 2 0 2 2zM153 1957l-1 1-2-2 1-2 2 1zM149 2065l-2-3-1-1 0-3 2-1 1 1 1 1 0 2zM382 2037l-1-1 2-2 3-1-1 2-1 2zM211 1903l-1-1-1-3 0-3 2 2 1 2 0 2zM339 2065l2-2 1-1 3 1 2 2-2 1-3 2-4 0zM258 2032l-1-3 2-3 3-3 3 5-1 2-4 3zM307 1992l1-4 3-1 2 3-3 2zM288 1972l0-3 2-1 2 0 0 2-2 2zM296 1934l0-3 4 0 3 1 3 3-5 1-3 4-2-4zM383 1914l-2 1-2-2-1-2 1-1 1-1 4 2 0 2zM182 1935l1-1 2-2 2 1 1 1-1 2-2 2-3-2zM371 2039l-2-3 0-4 3-1 2 3 0 3zM220 2075l-3 3-3-1-2-3 2-2 3-4 5 5zM162 1891l0-2 3-1 2-1 0 2-1 2-2 1zM277 2048l1-3 1-2 2 1 1 2-1 2-2 0zM181 1876l-2-1-1-3 2 0 3 3zM301 1983l0-4 2-2 2 3-1 3zM361 1895l-2-1-3-1 1-3 3 0 2 2zM232 2082l2-2 2-3 3 2 0 4 0 3-4-1-2-1zM390 1882l-3-2 0-2 3 0 1 2zM150 2002l-2 1-3 0 2-3 3 0zM135 1957l-3 1-2-2 1-3 0-4 4 2 1 2 0 2zM272 1921l0-2 2-2 2 1 2 0-3 3-1 1zM301 1989l1-5 5-3 2 3-3 4zM299 1920l1-1 2 0 0 3-3 0zM201 1890l-4-4 0-4 4-1 2 5zM251 1945l-1-2 0-2 1-3 3 1 1 2 0 1-2 3zM346 1879l-4-1-2-5 3-2 5-1 0 7zM267 1877l-1-2 3-3 1 1 0 3zM320 1936l-2 1-2-1-1-2 2-2 2 0 1 2zM193 2064l-2-1-1-2-3-5 4 1 4 2 0 3zM302 1898l3-3 2 0 4 1-2 3-3 2-6 1zM295 1881l3-2 3-1 3 1-1 2 0 2-4 1-3-1zM269 2038l-2-1 0-4 3-1 3 2-1 4zM273 2003l4-2 3 1 1 4-5 0zM266 1986l-3-1 1-3 2-1 2 1 1 1-2 3zM197 2021l-2 0-2-2 1-2 2 0 1 1zM351 2035l2-2 2-2 2 1 0 3-2 2-3 0zM295 2036l-3-2 2-2 2-2 2 2 1 3-2 3zM356 2042l-3-3 0-4 5 0 0 5zM195 1928l-1 1-3 0-1-1 1-3 1 0 2 1zM285 1890l0-1 3-3 2 1 1 1-1 2-1 1-4 3zM135 1916l-2-4 1-2 1 0 1 3zM376 2043l-1-3 3-2 2 2-1 3zM314 2082l-2 0-1-4 2-3 2 3 1 3z"/>
<path fill="#6652CC" fill-opacity="0.95" d="M304 2028l2-4 3-1 2 3-2 2zM288 2054l-3 1-2-2 0-2 2-2 3-2 1 3 0 3zM246 1929l-1-2-2-3 1-2 3 0 1 2 0 4zM171 1994l-3-2 0-4 3 1 2 4zM347 1946l-2-1-1-2-2-4 3 1 1 1 2 2 2 4zM359 2033l-2-1 0-3 1-1 2 2 1 2zM376 1950l-3-1-1-1 1-2 3 1zM377 2044l3-4 5 1 2 7-7-1zM354 2032l-2-1 0-3 2-2 3 2-1 2zM269 1944l-2-2 0-3 2-4 3 3 1 2-2 3zM370 1886l4-4 4 0 2 3 0 3-4 2-5-3zM185 1974l-3-1-1-2-1-4 3-2 2 1 2 2 0 4zM377 1971l3-2 3 0 1 3-4 1zM174 2083l2-3 4-2 4 3-3 3-3 1zM223 2009l1-3 4 2-1 4-3 0zM262 1963l2-2 3 0-1 2-3 3zM153 2070l0-1 1-1 1-1 3 0-2 3-1 1-1 1zM228 2004l-1-1-2-2-1-3 4 1 1 0 0 3zM282 1923l0-4 5 4 2 4-7 1zM254 1949l-2 0 1-3 1-4 1 5 0 1zM290 2061l-1 1-3-1 0-3 0-1 3 0 2 1 0 2zM374 1937l-4-1 0-2 1-2 3 1 1 2zM334 2015l0-2 0-2 3-1 0 1 0 3-1 1zM411 1947l1-4 3-1 1 2-3 4zM232 1930l0-4 2-1 3 2-3 4zM173 2023l-2 1-1-3 1-2 2 1 3 1zM319 1875l1-1 3 0 0 2-2 1zM270 2080l-3-4 2-3 4 2 1 4zM248 1977l-2-3 1-3 2 0 1 5zM264 1949l-2 4-5-3 1-4 1-2 3 1 3 2zM355 2044l-4 1-3-2-2-2 0-2 3-1 4 1zM175 2063l-2 0-1-2 2-2 5 1zM306 1895l0-2 2-1 2 0 1 2 0 1-2 1-2 0zM189 1877l-2-2-4-2 2-3 2 0 2 0 2 3 0 2zM353 2016l-2-1 1-2 0-1 2-1 1 2 0 2-1 1zM400 1992l-2-1 3-7 3 0 1 3 1 3-2 2-3 2zM139 2053l0 1-2 0-2-1 0-1 1-1 2 0 1 1zM142 2021l-2 1-3-1 0-2 2-2 3-1 1 4zM283 2030l-2 1-3 0-5-2 5-3 2 0 4 1zM252 1911l-2 0-2-2 0-1 3 0 2 1zM287 2063l0-4 3-1 2-1 1 1 1 3-2 2-2 0zM371 1942l3-2 1-2 1-1 1 1 1 2-1 2-1 0z"/>
<path fill="#3A3088" fill-opacity="1.0" d="M134 2036l2-3 2-1 3 1 3 1-3 3-4 3-2-3zM306 1908l1-4 2-2 2 1 2 3-2 3-2 0zM156 2034l-1 0 0-3 1-2 1 1 1 1 0 3zM216 1917l-4-2 0-5 3 0 2 4zM327 1951l-1-2 0-5 4-4 2 5 0 5-2 2zM406 2027l-1-3 2-2 3 2-2 4zM186 2028l-1 3-3-3-1-1 1-2 2 0 2 2zM180 2080l1-2 5-1 0 2 0 2-4 1zM308 1984l-2 0 0-3 1-3 3 0 2 3-1 2 0 2zM268 1965l-4-3 1-5 4 0 1 4zM190 2072l-2 2-1-3 0-1 1-2 2 1 0 2zM312 1947l-1-2 0-3 3-1 2 0 1 2-1 2-2 2zM413 2010l2-2 2-1 1 2 1 0-2 3-1 2-2-3zM385 1965l-1-4 3-2 2 3-2 2zM167 1889l-2 0-4-1 3-2 4 1zM398 1932l-1-2 1-3 1 0 2 1 1 2-2 2zM352 2014l3-3 3 0 0 3-4 1zM274 1908l1-2 4-1 2 1-1 3-5 2zM316 1996l-1 0-1-2-1-2 1-1 2 1 1 1 0 2zM173 1897l0-2 2-1 1 2-2 2zM338 1897l1-2 4 1-1 2-3 0zM177 1922l-3 0-1-2 0-6 3 2 3 1 0 4zM391 1962l0-5 2-2 5-1 0 5-4 2zM187 2048l-2 2-3-1 0-4 1-1 3-1 2 2zM254 1963l-5 0-1-3 2-3 4 3zM187 1900l-1-1 2-2 1 0 2 0 1 3-2 0-1 1zM198 2039l1-2 2-1 4 1-3 3-3 1zM233 1958l-1 0-2 0 0-1 0-1 2-1 1 1zM276 1920l-2 0-1-2-1-2 2 0 1 0 2 2-1 2zM343 1915l-2-1 0-1 1-2 1 0 1 1 0 2zM252 1883l1-2 1-1 1 0 0 2-1 2zM289 2052l-2 4-3-3-1-1 0-2-1-4 5 2 1 2z"/>
<path fill="#5544BE" fill-opacity="1.0" d="M200 1978l2-3 3-1 5 3-2 2-3 1-4 0zM418 2053l0-7 1-4 5 1-1 8zM149 1930l-1-1-2-1 1-1 0-2 2 1 1 1 1 2zM220 2053l-2-3 2-2 4 2-2 3zM216 2082l-1-1 1-3 2 0 0 4zM343 1979l-1-3 0-1 2-2 0 1 1 2-1 2zM387 1954l-2-1-2-2 0-2 1-3 3 0 3 3-1 4zM350 1887l-2 1-1-1 0-2 2-1 1 1zM201 1956l0-4 5-1 3 2-3 5-3 0zM286 2023l0-3 1 0 1-1 2 1 0 1 0 2-2 1zM206 1986l-2-1-1-2 1-2 2-1 2 1 1 2-1 2zM242 2082l-2-3 1-2 2-2 2 3-2 4zM140 1880l-1-2 2-4 2 1 0 4zM358 2003l-2-2 1-2 2-1 1 2-1 3zM288 2065l-4-2-1-6 2-2 6 2 0 5zM390 1978l-2-1 0-2 2-2 1 0 1 3 0 3zM146 1955l-2-4 4-2 3 0-1 4-2 2zM181 1985l-1-1-1-2 1-2 2 1 1 2 0 2zM359 2073l1-2 2 0 2 1 0 2-2 1-1 0zM328 1929l-3 0-3-2-1-3 3-1 3 0 1 3zM377 1972l-2-3-1-2 1-2 2-2 4-1-1 6-1 2zM248 2059l-2-1-1-1 0-3 2 1 2 1 0 1zM137 1968l-3 1-1-1 1-3 3 1zM148 1915l2-3 4-2 2 1-2 3-3 3zM200 1992l-3-1-1-4 2-1 3 3zM367 1880l-1-1-1-3 2-3 2 1 1 3-1 2zM261 1880l-2 1-4 0-1-3 0-1 4-2 3 3zM320 2083l0 2-3-1-1-1 0-2 1 0 2 0 1 1zM393 2046l-2-2 1-2 2-1 1 4zM350 1915l-1 0-2-2 0-1 0-2 2 0 2 1 1 2zM334 2041l-5 0 3-5 3-2 2 0 1 3 0 3-2 0zM152 2074l-2-1 0-2 1-1 2 1 0 1zM388 1979l-2-3 2-5 3-3 1 5 1 7zM351 1966l-2 0-3-4-2-4 4 1 3 2 3 2zM192 1990l-2 0-3-2 0-2 1-1 3-2 2 4zM272 2050l3-1 1 0 2 1-1 2-3 2-3-1zM140 2035l-3 1-2-2 2-2 2 0zM414 2034l-2 0-1-2 1-1 2 1zM148 2063l-1-2 0-4 2 2 1 0 1 2-1 1-1 1zM290 1905l-1-3-1-2 2-3 3 1 0 3-1 3zM273 1924l-2-1-1-1 1-2 0 0 2 1 0 1zM358 1904l-4 0-2-1-1-2-1-2 2 0 3-1 2 2zM318 2019l1-3 4-1 2 0 2 2-2 3-3 2-2-1zM141 2037l0-2 2-3 2 0 1 2 0 1-2 2-3 1zM132 2071l0-4 2 0 4-1-1 4-2 3zM409 1959l-1-2 3-1 1 1-1 2z"/>
</g>
</g>
<clipPath id="c52"><rect x="466.5" y="1871.4" width="290.3" height="211.4"/></clipPath>
<rect x="466.5" y="1871.4" width="290.3" height="211.4" fill="#DEE0CF"/>
<rect x="466.5" y="1871.4" width="290.3" height="211.4" filter="url(#gd_tpc2)"/>
<rect x="466.5" y="1871.4" width="290.3" height="211.4" filter="url(#gl_tpc)"/>
<g clip-path="url(#c52)"><g filter="url(#soft)">
<path fill="#5B46C4" fill-opacity="1.0" d="M626 1904l-2 2-2-3 0-2 2-2 2 0 0 3zM542 2050l-3 1-5-3 4-3 3 0 2 2zM500 1959l-3 0-1-1 1-2 2-1 2 3zM647 1887l-2 0-2 0-1-3 1-2 2 2 2 2zM640 1936l-2-2 3-2 1 1 1 3-2 1zM660 1956l-2 1-2-1-4-1 4-2 2 0 2 0zM733 1952l-1 0-1-2 0-2 1-1 2 1 3 2-2 2zM708 1883l-3-2 0-3 3-2 3 1-2 6zM694 1897l-1-1-2-4 3-3 3 4 0 3zM571 1888l2-3 3 0 2 0 1 2-1 3-2 1-6 0zM553 2073l-1-5 0-2 2-2 3 0-1 4-1 1zM539 1991l-2-2 1-1 1-1 1 2 0 1zM505 1934l-1-1-2-2 1-2 2 0 2 1 0 2zM584 2034l0-3 3-3 4-4 2 4 1 3-5 3-3 1zM721 2035l-4 1-3-2 1-3 3-1 3 2zM607 1964l-3 1-4-2-2-2 1-2 2-1 5 1 0 2zM755 2022l-2-1 0-3 0-1 1-2 2 2 1 2 0 2zM563 1912l-1 0 1-3 1-1 2 2-1 2zM701 2047l1-3 3 2 1 2-4 1zM578 2033l2-2 1 0 3 2-1 3-3 1-1-1zM527 1994l-2 0-2-2 0-3 2 1 2 1zM657 1901l-4-1 0-5 2 0 3 3zM745 1997l1-2 3 0 1 2-1 1-2 0zM534 2075l-6 2-3-1 1-3 3 0zM634 1967l-1-3 1-2 2 1 0 3zM630 1875l0-2 0-1 2 1 1 1 0 1-1 1-2 0zM533 1971l-1 0-2-2-1-1 1-1 1-1 2 2 1 1zM490 2077l-1 0-1-2 1-2 2-1 1 1 1 2-1 1zM498 1922l-2 1-2-3 2-2 3 2zM520 1970l2-3 4 0 1 3-3 3zM683 1954l0-2 4-2 0 3-1 2zM740 1900l-2 1-2-2 1-2 3 1zM644 1919l-3-1-1-2 2-2 1-1 3 1 0 2-1 1zM527 1968l2-4 3-1 2 1 0 3-4 2zM547 1896l-2 0 0-4 2-1 2 2 1 1zM489 1935l-3-1-1-1 0-2 1-2 2 0 2 3 0 2zM621 2006l0-4 2-6 4 5-2 6zM562 2026l-1-1-1-2 1-1 2 1 2 0 0 3zM687 1961l-4-1-2-2 0-3 2 0 3 2zM576 1942l-3 1-2-1 1-2 3 0zM522 1992l-1-4 3-2 2 0 3 4-5 2zM671 1895l-1 0-1-3 1-1 1 0 2 2-1 1zM636 1961l-3 1-2-1 0-2 3-2 1 2zM692 2004l1-4 2-2 2 0 2 3-3 2zM696 1985l-1-3-2-3 5-3 2 1 0 2 3 5-3 2zM502 1895l-1-4 1-3 4 2-1 3zM559 1997l-2-1 1-2 1-1 2 1 0 2zM603 2072l-1-1 0-2 1 0 1 0 2 1 0 2-2 0zM716 1904l1-2 2-2 2 1-1 3-2 0zM531 2060l-2 0-2-1 1-2 3 1zM730 2029l-1-2 3-2 1 1 0 3zM619 1977l-2 1-2 0-1-1-1-1 1-2 2 0 2 1zM653 1943l-1-3 2-3 2 0 1 2 1 2-3 3zM572 1991l-2-4-1-8 6 0-1 9zM659 2054l-3-1-2-4 3-1 3 3zM662 1957l-1 0-1-2 0-2 1 0 4 0-1 3zM720 1905l0-1 2-1 1 1 1 1-1 2-2 0-1-1zM574 1994l0-1 1-2 2 0 2 0-1 2-1 2-1 0zM491 1951l0-3 3-3 2-2 2 2 5 0-6 6-4 5zM697 1891l-1-3 2-4 3-2 2 2 0 4-2 3zM705 1882l-3-2-1-2 1-1 2 0 2 2zM635 1983l-5-1 3-3 4-5 1 5 0 3zM585 1917l2-1 3-1 1 2-3 2zM565 2075l-2-2 2-3 3-1 0 5zM584 1969l0-2 2-1 1 1 0 3-2 0zM478 1951l-4 0-3-4 1-2 5 2zM712 2024l2-2 5 1-2 3-3 1zM522 1967l-1 0-2 0 0-3 2 1zM661 1879l-1-3 4-1 1 2-2 3zM709 2008l-1-3 2-1 3 1-1 3zM494 1997l0-3 1-1 2-1 0 1 0 2-1 2zM738 2028l-2 1-4-1 0-2 2-1 4 1zM645 1977l-1-1-1-2 0-1 1-3 2 3 0 2zM680 2002l4-4 4-3 3 2 0 4-4 2-4-1zM601 2045l-1-5 2-3 4 0 2 2-3 6zM629 1895l1-4 2-1 1 2-2 2zM521 2027l-3 0 0-2 1-3 2 3z"/>
<path fill="#4E3DB4" fill-opacity="1.0" d="M713 2048l-2 0-2-5 3-3 3 0 2 3 0 4-2 2zM738 2033l-2-2 1-1 1-2 3-5 0 6 0 3-2 1zM684 1992l-2-1 0 0 0-2 0-2 3 2 0 1 0 2zM741 1944l3-3 3 0 1 2-1 3-5 0zM599 1992l-1-1-1-1-1-2 2-1 1 1 2 2 0 0zM480 1992l0-1 2 0 1 1 1 1-1 0-2 1-1-1zM470 1924l-2-2 0-3 2-1 4-1 1 1-1 4-3 2zM512 1873l3-2 2 1 0 1-1 1-1 0zM626 1989l-2-2 0-1 0-2 2 0 2 1 0 1-1 2zM614 1942l-2 0 0-2 1-2 1 1 1 1 0 1zM530 1935l0-2 0-3 4-2 1 1 1 2-2 3-1 2zM691 2065l-1-1-1-1 1-2 2 1 0 2zM584 1988l-2-2 0-4 2-1 1 1 1 4zM741 2079l-2 1-1-2-1-2 1-4 4 2 0 4zM566 2045l-1-1-1-3 0 0 3-1 1 1 1 1-1 2zM538 1914l-2-1-2 0 2-3 2 0 1 1 0 1zM654 1958l-1 0-3 0-4-1 4-2 2 0 3 1zM654 1983l-5 0-2-1-1-4 1-2 4 0 2 1 1 3zM588 2005l-1-4 1-4 2-2 2 2 1 3-2 5zM538 1912l0-3 4-1 2 3-2 2zM524 1951l-2 1-3-1-1-3 1-2 2-1 2 0 2 3zM582 1939l-1-3 1-3 2 0 1 3-1 2zM740 2042l-2-2 0-3 1-1 1-2 1 2 2 3-1 2zM523 2054l-2-2 0-5 3 0 3-1 1 2-1 3-3 4zM470 1969l0-5 5-2 2 3-3 4zM495 1878l-2 0-4-1-2-3 1-3 6 1 2 2zM574 1992l-1 2-2 0-3-1 0-1 1-4 3 1 1 2zM557 2034l-1-3 2-2 2 0-1 4zM718 1963l-1-2 0-2 2-2 2 2 0 2-1 2zM522 2068l-2-2 1-4 1-2 4-3 0 6 0 2-2 3zM544 1997l-4-3-1-4 5 0 1 4zM722 1946l-3 3-3-1-1-2 1-3 2-1 3 1zM629 2071l-3-2 1-3 2-1 3 4zM555 2002l-3-1 0-4 0-3 3 0 4 4-1 3zM589 1970l-3-1-2-3 2-4 2-1 5 3 1 7zM604 2037l-3-4 3-2 3 2 0 3zM522 1930l-4 2-3-4 2-5 3 2 3 0 1 3zM616 2042l-2 0-2 0 0-2 1-2 1 0 2 2zM607 1892l-2 0-1-3 1-4 2 3 1 3zM568 2047l-1 0-2-2 0-2 1-1 2 1 1 2zM524 2032l1-3 3-1 1 1-1 4-2 0zM576 2052l-5 0 3-3 2-2 2 1 1 3zM541 2002l-2 1-4-3 1-3 4-1 1 1 1 1 1 3zM486 2041l-1-1 1-3 1-1 2 1 0 2 0 1-2 2zM581 2024l-2 1-1-3 1-1 2 1zM557 2020l-4-1 3-7 3 0 1 7zM693 2007l-1-2 1-2 1 1 1 1 0 3zM489 1920l1-1 2-1 2 1-1 2-2 1-2-1zM481 2045l-2-2 0-3 2-1 3 0-1 4zM705 1946l-1-1 0-2 2 0 1 2zM528 2074l-2-3 2-2 2 0 0 3zM577 1940l1-1 2-1 2 1 0 1-1 3-3-2zM668 1939l0-4 2-2 2 1 0 3-2 2zM720 1918l-1-3 4-1 1 2-2 3zM481 1896l-3 0-2 0-2-1 0-2 2-1 2-1 1 2zM728 1987l-3 0-1-4 5-2 1 3zM550 2006l-3 1 1-2 0-1 2 0 0 0 0 2zM561 1961l3-1 2-1 2 1 1 1-1 2-2 0-3 0zM560 1907l-3 0-4-1 4-4 2-1 3 2 0 1zM747 1950l1-2 2 0 0 2-2 1zM568 1958l-2 1-3-1 2-3 2 0zM587 2018l3-2 2-1 2 0 1 3-2 2-3 0zM504 2038l-1-1 0-1 1-1 1-1 2 2-1 2-1 2z"/>
<path fill="#6652CC" fill-opacity="0.95" d="M696 2011l2-4 4-2 2 5-5 3zM645 1990l1-2 0-2 2 1 2 1 0 1-1 4-2-1zM738 1900l-2-1 1-4 2-1 1 1 1 2 0 2-3 2zM705 1909l-2-1-4-5 5 1 2 3zM727 2002l0 3-4-2-1-1 0-2 2 0 2 1zM691 1955l-1-1 1-3 1-2 2 1 1 3-2 2zM645 2051l-3-2 0-4 2-1 2 5zM618 1874l2-1 3-1 2 3-1 4-5-3zM720 1987l-3 0-1-3 1-2 3 1 1 1zM638 1985l-3 2-2-1 1-3 2 0zM724 1882l-1-1-5-1 2-3 1-1 2-1 3 3 1 2zM668 1948l-2-2 0-2 2-3 1 4 0 2zM740 1920l-2 0-2-1 0-3 1 0 2 0 1 1 0 2zM568 1979l-2 0-2-2 1-2 4 0 0 2zM631 1901l-1-2 1-3 3 0 1 3-1 2zM745 2010l0-2 0-1 2-1 1 1 0 1 0 2-2 2zM473 1993l3-1 3 0 1 0 1 2-1 2-2-1-2 0zM589 2070l0-2 1-2 2 0 0 2 0 2-2 0zM559 2061l0-3 2-2 2 0 1 3 0 2-3 1zM542 1886l-1 2-2-3 1-1 0-2 3 1 2 0zM567 2082l-2 1-2 1-2-2-1-2 2-1 4-1 1 2zM597 1960l-4 1 1-5 1-2 2 1 2 2-1 2zM685 1918l-3-1-2-2 0-2 2 0 2 2zM699 1963l-3-1 0-3 1-2 1 0 3 1 0 4-1 1zM539 1951l3-3 2 0 1 1-1 2-3 1zM614 2032l1-3 5-1 1 4-2 2-3 1zM595 2046l2-4 5 2 0 3-4 2zM532 1959l-1-1 0-1 0-1 1-1 1 1 1 1-1 1zM518 2016l0-1 0-3 3-1 1 1 1 3-1 2zM494 2014l-2 0-1-1-1-1 2-1 2 1zM731 2038l-1-2 0-3 3-2 1 2 0 4zM669 2067l-2-1 0-2 1-4 2 1 1 2 0 2zM520 2002l-3-3 0-3 2 0 2 2zM503 1942l0-4 4-1 1 1 0 4-2 1zM544 2034l-1 2-3-2-3-2 1-2 2 0 3 1 1 2zM543 2029l-3 0-1-2 1-2 3 0 0 2zM667 1939l-1 2-2-1-1-2 1-1 2 0 2 1zM678 1941l0-2 1-2 3-1 0 3-1 1-2 1zM527 1973l-2 4-2-3-2-1 0-2 2-1 2 0 4 2zM681 1998l1-2 2-1 1 2-1 2zM605 1918l-3-4 3-3 2 0 3 3-2 2zM703 1874l1-2 1-1 2 1 1 1-1 2-1 0-3 0zM751 1927l2-4 3 2 0 2-3 2zM561 2022l-1-3 1-3 1-1 3 1 0 3-1 2zM594 1950l-4-3 0-5 4-1 1 5zM626 1972l1-2 3-2 2 2 0 4-1 1-4 0zM736 1906l-1 0-1-3 1-1 1-1 1 2 0 2zM482 2077l-2-3 1-3 2-1 2 1-2 4zM712 1975l-3-1-2-4 1-3 6 0-1 4zM661 1940l0-1 2-1 2 0 0 2-2 3-1-2zM481 1883l0-1 2 0 2 0 0 1-1 1-1 3-2-1zM645 1933l-2 1-2 0-2-1 1-3 2 0 3 1zM737 1925l-2-1-1-2 0-2 1 0 2 0 0 2zM502 1934l3-3 4 2-1 4-3 1zM698 2044l5-2 3 0 3 3-2 2-2 1-4-1zM558 2029l-2-5 0-6 5 1 1 4zM604 2063l0-2 1-2 1 0 1 1 0 1 0 1-2 1zM516 2011l-1 1-2 0-2-1 0-1 2-2 3-1 0 2zM621 1999l-1-1 0-2 2 0 1 2zM737 1991l-2-3 1-2 2-4 3 1 1 3-1 2-1 3zM545 1912l-2-4 6 0 2 4-1 3-2 0zM539 1967l-2-2-3-6 2-2 5 2 1 5zM565 2056l-1-2 2-1 1 0 1 1-1 1-1 1zM490 1874l1-5 4-1 2 2-2 4-2 1zM670 1993l-2 0-2 1 0-3 2-1 1 1 1 1zM644 1897l-1-3 2-4 1 3 0 5zM638 1978l-1 0-2-1 1-2 1 0 1-1 0 2z"/>
<path fill="#3A3088" fill-opacity="1.0" d="M746 1884l3-3 5-1-1 4-4 1zM608 2082l-2 0-2-2 0 0 1-2 1-1 1 2 1 1zM473 1899l-2 1-2-2-1-3 1-2 2 0 2 2 1 3zM609 2031l-2-1 0-3-1-2 2-2 3 2 1 3 0 3zM470 2070l-1-4 2-2 3 0 2 2-2 3-2 1zM484 1967l-2-2-2-2 1-2 1-1 3 2 1 3zM544 2038l-4 1-2-4 0-3 1-1 6 0-1 3zM621 1887l0-2 1-1 1 0 1 1 1 1-2 1zM548 1998l-2 0-3-1 1-2 2-1 1 2zM673 2056l-4 0-4-6 6 0 4 3zM535 1958l-1-3 0-2 1-1 2 0 0 3-1 1zM505 1938l0-5 0-3 3-1 1 1 1 2-2 3zM652 2054l4-3 2-1 3 1 0 2-2 3-3 1zM647 1991l0-3 2-1 2 2-2 2zM501 1981l-1 1-4 1 1-3 1-2 2 1zM533 2003l2-3 4 1-1 2-3 3zM483 2037l-2-7 4-1 2 0 2 0 0 3-2 3zM641 1986l-2-1-3-4 4 1 2 2zM746 2084l-4-1-1-2 0-4 3 1 4 1-1 4zM700 2065l2-4 4-2 3 2-1 3-5 2zM515 1894l-5-3 0-4 4-1 3 3zM618 2008l2-2 2 0 2 1-2 3-2 0zM527 1976l4-1 4 0 2 1 0 2-3 3-3-1zM636 2041l1-2 1 1 1 1-1 2-1-1zM660 2065l-5-1-1-3 2-2 2 2zM665 1984l-1-2 1-2 0 0 2 0 2 0-2 3-1 1zM520 2079l-3-3 4-4 3-1 1 2 0 3-1 1zM697 2032l-6 0-2-2 0-3 3-1 3 2zM636 2083l0 0 1-4 2 1 1 1 0 2-2 1 0 0zM676 2076l0-3-1-2 2-2 1 2 1 1 0 2-2 0zM552 2071l1-2 2-1 2 0 4 0-3 4-4 0-1 0zM722 1941l1-2 2-1 2 2-2 4zM558 1948l0-3 1-2 2-1 1 3-2 2zM546 1897l0-1 1-1 2 1 1 0-2 3-1-1zM607 1991l-2 0-1-1-1-3 3-1 2 0 2 2-2 2zM534 2006l0-2 4-2 2 1 0 1-1 3-2 2-3-1zM632 1904l-2 5-3-5-2-2-2-5 6 3 4 1 3 2zM479 1969l-1-4 5-3 2 0 0 3-2 4zM727 2067l-4 1-1-4 2-2 3 1zM610 1955l0-2 2-5 1 3 2 1-1 3-3 1zM519 2034l-2 4-3-2-2-3 2-2 1 0 3 2zM616 1983l0-3 3-1 2 1 0 3-4 0zM684 2037l-1 0 0-2 1-1 2 0 0 2zM499 2062l-2-4 0-4 2 0 3 1-1 5zM596 1982l-2-3 2-4 3 0 0 5zM669 1892l-2-1 0-2 1-2 3 0 1 2 0 1-1 2zM711 2053l-3 0 0-4 1-2 3 1 1 2zM557 1936l2-1 2 0 2 0 0 2-2 1-1 1-2-1zM707 1908l-2-2 3 0 3-2 0 2 0 2-2 1-2 0zM659 1921l-1-2 0-3 2-2 2 3 0 2zM602 1915l-4 0-2-3 2-4 3-1 3 5zM752 1915l-2-3-1-2 1-1 2 0 1 0 1 4zM583 1944l-2 1-2-2 0-2 1-1 4 0 0 3zM638 2012l-6-2-1-4 4-2 3 4z"/>
<path fill="#5544BE" fill-opacity="1.0" d="M593 1891l-3 0-1-3 1-1 2-1 1 2zM565 1958l-3-2 0-5 2-2 1 1 3 3-2 4zM635 1895l0-1 1-2 2 0 0 1 1 2-2 0-1 1zM593 1954l-2-1 0-2-1-1 2-3 2 2 0 2 0 2zM498 1922l-2-1-1-2 0-2 3 0 1 3zM698 1891l2-2 1 0 3 1-1 1-1 2-2 0zM560 1975l-1-3 2-3 2 1-1 5zM556 1916l-2-3 3-4 2 2 0 3zM749 1912l-1-1 0-3 0-1 3 1 4 0-2 6zM609 1924l0-3 2 0 2 0 1 2-1 2-3-1zM653 1979l-2-2 0-2 3-3 2 2 0 2-2 4zM693 1935l1-1 3-1 1 2-1 2-3 0zM542 2045l-3-2-3-4-1-3 4 0 2 0 2 5zM645 1944l1-1 3 0 2 1 0 2-3 0-2 0zM560 1915l0-1-1-2 3-2 2 1 0 2-1 3-1 2zM597 1950l-3-2 1-2 3-1 0 3zM678 1897l-1-1 1-3 2 2 0 1-1 2zM607 1957l1-1 2-1 2 1-1 2-3 1zM532 2033l4-3 4 1 2 3-3 2-4 0zM487 2039l0-2 0-1 2-1 2 1 0 2-1 1-1 0zM702 1939l1-2 4 0 2 1 0 2-3 2-4-1zM482 2051l-1-2 1-2 2 1 0 3zM720 2067l0-3 4-3 0 4-2 3zM617 1974l-4-1-1-2-1-2 2-1 2-2 1 4zM487 2082l-2 0-1-3 3-1 2 2zM681 1956l-3 5-3-4-3-3 2-3 3 1 5 2zM745 1931l2-3 3-1 2 2 5 1-8 2-2 0zM636 1965l-1-1-1-1 0-2 2-2 1 3 1 1zM652 1889l2-3 4 0 1 2-4 3zM631 2022l0-2 2-1 2 2 0 2-3 1zM475 2051l-1 2-4 0-6-1 4-3 3-1 3 1zM760 1923l-3 3-3-2 1-3 4-2zM534 1875l0-2 2-4 4-4 2 5-2 3-2 3-4 0zM595 2058l-2 1-3-1 1-4 4 1zM722 1978l-2-1 0-3 2-1 2 0 2 2-2 2zM591 2028l-2-2 0-1 0-3 3 0 1 1 1 4-2 2zM610 1974l0-3 1-2 3-1 0 2-1 3zM666 1992l0-1 1-2 1 1 1 2-1 1zM530 1874l1-2 3-2 3 1 0 2-2 2-5 3zM737 1917l0-4 2-5 2 4 0 3-2 2zM500 1962l-2-1-1-2 0-2 2 0 1 0 1 3 0 2zM670 1933l-3-4 1-6 1-1 2-2 3 4 1 4-3 2zM535 1879l-2-2 1-2 2 1 1 2zM504 1964l-1-1 0-3 2 1 1 2zM619 1987l-2 0-2-3 1-2 2-1 3 1 0 4zM665 1971l-3 0-2-2 0-3 2-3 3 2 2 2zM614 2026l1-1 3-1 0 3-3 1zM531 2045l-1-5 1-3 4-2 2 4 0 8zM716 1937l-1-1 2-3 1 0 2 1 0 1-1 2-1 1zM671 2063l-2 1-2-3 2-1 2 1zM597 1988l-2-1-1-1 1-1 2 1 2 2zM674 1949l-1-2 1-1 1-1 2 1-1 2zM748 1985l1-2 4 0 0 3-3 1zM669 1943l-2-2 0-3 2 1 2 3zM582 1933l-1 1-3 0-1-1 0-1 1-1 3 0 1 2zM648 1986l1-2 1-1 2 1 1 1-3 2zM675 1960l-1-2 0-4 2-2 2 2 3 2-2 7zM567 2049l2-1 2 0 2 1-2 2-2 0zM715 1986l-5-2-3-2-1-4 4-1 3-1 1 5zM532 1881l-3-1-1-2 0-2 0-3 4 1 5 3-1 4zM722 1985l2-4 5 3 3 2-1 2-4 2-3-1zM503 1888l1-2 3 0 1 1 0 1-1 1-3 1zM588 1935l-5 0-4 0-4-4 6-1 2-3 2 5zM659 1964l2-3 2 2 1 2-2 1-2 0zM545 1893l-1 3-2-3-1-1 1-1 1-1 1 1 1 0zM738 2012l-1-2 0-1 2-2 1 1 2 3-3 1zM602 2039l-5 3-3 0-1-2-1-3 1-2 3 0 4 2zM613 1995l-2 2-2-3-1-1 1-2 2-1 1 1 1 2zM571 2075l-2 1-3 1-1-1-1-4 1-1 3 0 3 2z"/>
</g>
</g>
<clipPath id="c53"><rect x="796.4" y="1871.4" width="290.4" height="211.4"/></clipPath>
<rect x="796.4" y="1871.4" width="290.4" height="211.4" fill="#E8EBDF"/>
<rect x="796.4" y="1871.4" width="290.4" height="211.4" filter="url(#gd_tpc)"/>
<rect x="796.4" y="1871.4" width="290.4" height="211.4" filter="url(#gl_tpc)"/>
<g clip-path="url(#c53)"><g filter="url(#soft)">
<path fill="#5B46C4" fill-opacity="1.0" d="M863 1974l-1 1-3-1-1-1 0-1 2-1 3 0 2 0zM887 1942l3-2 2 2 1 4-5-2zM908 1920l-2-1-1-1 1-3 2-1 2 3 2 2zM1066 1899l-4-1-4-5 5-1 3-1 3 3 0 3zM960 2040l-3-2-1-6 6 1 3 6zM956 1926l-2 2-4 0 0-3 3-1 2 0zM876 1931l-2 0-2-3 1-1 2 0 2 1 0 3zM1052 2060l-1-3 3-2 2 3-3 2zM878 2020l-1 0-4-1-1-1 1-2 0-1 5 1 1 2zM1055 1874l-4 2-3-4 2-3 5 1zM1073 2072l1-3 6-2 2 2-1 4-6 2zM948 2076l2-3 3-1 0 3-3 3zM974 1949l-1-2 2-2 2 2-1 2zM975 1971l-3-3-2-3 4-2 3 4zM980 2003l0-2 3-1 1 1-1 3-2 0zM845 1933l-2-5 4-7 3 5-2 6zM1008 1932l-1-2 1-2 2 1 0 3zM888 1931l2-2 5-1-2 5-3 2zM1028 1989l0-3 3-2 2 0 2 0 0 3-3 4-3 0zM989 1987l-2 0 0-2 0-2 3 0 1 0 0 3zM823 2036l-3 0-1-2 0-2 1 0 2 1 1 1zM834 2033l1-3 5 1 0 3-3 2zM1005 1916l-3-2 1-3 3 0 1 4zM949 1883l1-4 3-2 5 3-5 3zM870 1889l-1 2-2 0-2-1-1-3 2-2 3 0 2 2zM954 1977l1-3 1 0 4 1-2 2-2 2zM1049 1909l1-2 2 0 1 0 0 2-1 1-1 0zM949 1935l3-2 2-2 2 1 0 1-1 1-2 1zM856 2071l-3-2-1-5 3 0 2 4zM843 1942l-1-1 0-3 1-2 2-3 1 5 0 2 0 1zM1031 1878l0-2 2-1 1 0 1 2-3 1zM881 1911l-1-2 0-3 2-1 2 2-1 2zM917 2003l-1 1-2-3-2-5 3 2 2 0 3 2-1 3zM1070 1900l1-2 5-1 0 4-2 2-3 0zM852 1885l0-2 2-3 1 1 2 2-3 3zM876 1886l-1-1-2-6 1-2 2-1 3 3 0 2-1 4zM1048 2030l0-3 2-3 3 1 1 3-2 2-2 0zM1027 1906l-2-2 1-2 4-3 1 2 0 2-1 2-1 1zM950 1918l-3-1 0-2 2-1 3 1z"/>
<path fill="#4E3DB4" fill-opacity="1.0" d="M860 2007l-1 0-2-2 0-1 2-1 1 0 1 2 0 1zM902 2001l-2 1-1-1 1-2 2 0zM986 1896l2-1 2 0 2 2-2 1-3 0zM1037 2033l1-4 3 2 1 1-1 3-1 2-2-2zM1038 1956l-4-2 1-3 3-1 1 3zM859 2043l-2 0-2-4 2-5 5 7zM996 2020l-3 1-3 0 0-3 0-2 1-2 3 2 2 2zM1019 1952l-2-1 2-4 1-2 2 2 1 4-2 2zM969 2081l-1 0 1-3 2-1 1 0 0 3-1 2zM811 1931l-1 1-3 0 0-2 1-2 3 1zM1063 1901l-1-1-2 0-1-2 0-1 2 0 1 0 2 2zM975 1994l-3 0-1-3 1-2 4 3zM865 1923l1-3 2 0 1 1-2 2zM871 1906l-1-1 0-2 1-2 1 0 2 3-1 2zM997 2063l-1 0-3-1 1-2 2 0 2 1zM866 2084l-5-2-2 0-2-2 0-2 2-1 2 0 3 3zM845 1951l-2-4-1-3 2-2 3-3 0 5 0 3zM848 2003l1-3 1-1 2 0 1 2 1 3-4-1zM887 2055l-1-2 0-2 2 0 1 1 1 2-1 1zM1023 2074l-3 1-4-2 1-3 3-2 4 1 1 3zM905 1917l-1-3 3-3 3 3-2 3zM835 1953l-2 2-3-2 0-2 1-2 2-1 2 4zM1038 1920l-1 1-2-1 0-2 1-1 1 0 1 1 1 2zM815 2055l-3 2-1-1-1-3 2-1 3 0zM919 2081l3-2 2 2 0 3-3 0zM925 1968l-2 0-2-1 0-2 2 0 3 2zM813 1935l-2 3-7-2-1-3 7-2 3 1zM1021 2059l-1-1 0-2 1-2 2 1 0 3zM847 1975l-2 1-3 0-1-3 2-1 4 1zM1037 2078l2-3 2 1 3 1-3 4-2 0-2-1zM826 1995l-1-2 0-2 2-1 2 2 0 2zM1025 1875l1-2 2 0 1 2-3 2zM858 1888l2-2 1-3 5 1 6 0-5 4-4 2-2 1zM1032 1929l-4 1-2-2-2-3 0-4 6 3 3 2zM980 1959l-5 0-1-5 3-1 2 2z"/>
<path fill="#6652CC" fill-opacity="0.95" d="M907 1912l-4 1-3-4 1-2 5 2zM869 1912l0-1 2-2 1 2 0 2zM1002 2021l-2 0-3 0-1-3 4 1zM934 1957l1-4 2-1 2 3-2 4zM838 2029l-2 1-1-1 0-2 2 0 2 1zM938 2017l2-1 1 0 1 1-1 1-2 0zM1031 1968l2-2 3 0 0 2-3 1zM880 2012l-2-2 4-1 1 1 1 1-1 2-1 1-2-1zM933 2005l-4-6-1-5 6-1 1 5zM1044 1888l-1-1-1-2 2-1 1 0 1 3zM983 1987l0-5 2-3 3-1 0 4-1 6zM962 1958l-1-3 3-3 2 2 0 2-3 2zM1037 1939l2-2 4 0 2 1-2 3-1 1-4 0zM936 1928l-2-1 0-2 2-1 2 3zM1050 1881l-2-5 2-4 4 2 2 6zM834 2083l-2-1 0-2 0-2 2 0 2 3-1 2zM953 1948l-4 1-5-2 0-3 5-1 4 1zM1083 1998l-1 1-1-1-1-1 0-2 3 0 0 1 0 1zM868 1881l-2-1-1-1 0-2 2 0 1 0 1 1 0 2zM1066 1980l0-1 1-1 2-2 1 2 0 1-2 2-1 0zM817 1877l-2 1-3-2 2-2 3 0zM981 1966l-2-1 0-1 0-1 1-1 2 0 0 2 0 1zM872 1919l-3 1-3 0-1-2-1-2 4-1 2 2zM938 2062l-1 1-2-1-2-1 1-1 1-1 2 1 2 2zM1046 2066l2-2 2 0 2 1 0 2-1 2-2 0-3-1zM839 1919l-5 2 0-8 4 0 3 2zM943 1882l-1-2 2-2 2 0 1 1-1 3-2 0zM1061 1972l1-2 2 0 1 1-1 2-3 2zM1046 2073l-2 1-1-2-3-1 2-2 1-1 4 1 0 1zM1031 1986l-1-1-1-2 1-1 1 0 2-1 0 2 1 3zM822 2078l-3 1-4-2 4-4 3 1zM992 1898l0-1 2-1 1 2 0 1-1 1-2-1zM952 2060l2-2 3 0 0 4-3 0zM901 1965l0-3 4-2 1 0 3 2-1 3-2 1-3 0zM810 1943l-1-2 0-1 1-1 3-1-1 3 0 1-2 2zM859 2034l-1-2 4-2 3 1-2 2-2 1zM920 2058l0-2 3-1 2 1 1 2-1 2-2 0-3 0zM886 1881l-1-2 0-2 1-1 2 0 1 3-1 2zM1087 1994l-3-1-1-1 0-3 2 0 3 3zM823 2065l-1-3 3-3 3 5-2 2zM839 1969l-1 0 1-3 1-2 1 2 0 2-1 2z"/>
<path fill="#3A3088" fill-opacity="1.0" d="M920 1924l-1-4 8 1 0 2-2 3-3 0zM1021 1952l-1-4 0-3 3-2 2 2 2 3-4 2zM887 1946l0-3 4-3 5 2-5 4zM946 2016l2-2 3 1 1 1-2 2-3-1zM977 1960l-2-1-1-2 1-2 2 2 1 1zM828 2074l-1 1-1-2 1-3 2 3zM837 2082l-3-4 0-5 3 2 1 4zM912 1949l-2 1 0 0-2-1 0-1 1-1 2 0 1 0zM879 1992l0-2 4-2 4 2 0 2-3 2-3 0zM823 1933l-5-1-1-4 2-3 3 4zM1057 1890l-3 0-3 0 1-5 2 0 3 2zM917 2028l-3-1-1-2 3-2 2 3zM910 1898l-2 1-1-5 1-6 3 4 2 3 0 3zM954 1881l2-1 3 0 1 3-2 1-3 0zM817 2081l1-1 1-1 1 2 0 1-1 1-1 0zM1062 2077l-2-4-1-3 4-2 2 1 1 4-1 3zM939 1989l1-6 3-5 2 5-2 3zM986 1892l-1 0-2-1 0-2 0-1 2 0 1 1 1 1zM1071 2007l0-2 1-2 2-1 2 4-2 1zM809 1876l-5-2 3-4 3 0 2 4zM992 2030l1-2 2 0 3-1-1 4-1 1-1 1-2-1zM876 1880l1-4 3-1 1 3-2 3zM941 2068l-3-2-2 0-1-2 1-1 3 0 0 2zM927 2034l-2 0 0-1 1-2 1 0 1 1 0 1 1 1zM1038 2040l-1-3 1-1 2 1-1 2zM895 1953l1-4 2 1 1 2-3 3zM816 1880l1-3 1-1 3 0 0 2-1 2-2 1zM890 2049l-2-1-1-1-1-3 3-1 3 0 3 3 1 2zM934 2040l-4 2 0-6 1-3 2-1 5 1-1 4-1 3zM819 1925l-2 0-1-2 1-1 1 0 1 0 1 1 0 4zM1065 1993l-1-4 3-4 4 2 0 3-2 3zM951 1878l-2 1-2-2 0-2 2 0 1 2zM1015 1922l-1-3 1-1 2 0 0 2zM983 2012l3-1 2-1 3 3 1 3-5 1-3-2zM880 1931l-1-2 1-3 2 2 1 3zM1013 1971l-1 1-3-1-1-1-2-1 3-1 3 0 1 1zM896 2003l-4-1-1-5 3 1 2 2z"/>
<path fill="#5544BE" fill-opacity="1.0" d="M970 2063l3-5 3-1 2-1 1 2-1 5-3 0zM821 1944l-3-2 1-6 3 0 2 6zM892 1889l-3 0-2-2-1-3 1-5 4 5 2 2zM832 2044l-4 2-2-2-1-1 1-2 2 0 5 1zM964 1997l-2-5 4-2 3 1 2 3-4 3zM806 2080l-2 2-3-2 0-3 4 2zM926 1947l-2 1-5-1 1-2 2-2 4 1zM810 2074l0-2 1-3 3-1 1 1 0 2-1 2-2 2zM946 1996l0 0-2-1-1-1 1-1 2-1 1 2 0 1zM1068 1959l-3-1 0-2 1-2 2 0 2 1 0 2-1 2zM901 1890l-4 2-4-3 3-3 3 0zM974 1922l-3 2-2-2 0-3 4 1zM1063 1965l-4 0-4-4 3-4 4 1 2 5zM880 1910l-1 0-1-1 1-1 1-3 1 2 1 2-1 1zM859 1907l0-3 0-1 3 0 1 2 0 1-1 2-3 0zM1083 2073l-1-1-4-4 3-2 3-1 2 3 1 1-1 5zM1002 1949l-1 0-2-3 3-1 2-1 3 2-1 1-2 2zM861 2031l-2 0-2-3 0-2 1-1 4 1 1 3zM1086 1960l-2 2-6-2 2-3 2-1 4 2zM969 1971l-2-3 1-4 3 0 3 5zM1013 1928l-3-6 6-1 3 2-2 4zM1058 1926l2-2 4-1 1 3-3 2-2 0zM873 2010l0-4 0-2 3 1 1 2-1 2zM926 1957l-2-1 1-3 2-1 1 1 0 3zM1003 2076l-2 2-2-2 0-1 1-1 2 0zM1013 1933l-2 2-4-3 0-3 2-2 5 2zM1021 1969l0-1 2-1 2 1-1 2 1 2-4-1zM908 1890l-1 1-4-2-2 0 3-4 1-1 2 1 2 1zM999 1882l-4 1-2-1-2-2 2-3 2-1 2 2 2 3zM1053 2034l-4-1-2-2 2-2 5 2zM853 1949l5-3 3 1 0 3-6 2zM880 2021l-1 0 1-2 1-1 1 1 1 1-1 2-1 0zM888 2063l-2-3 1-3 2-2 4-1-2 5 0 6zM927 1983l-3-3 1-2 2-2 1 4zM832 2041l-1-1 0-2 3 0 0 2 0 3zM1034 1946l-1-2-3-5 4-3 4 0 2 4-4 5zM853 2038l1-2 2-1 4 1-3 3-4 3zM1053 2013l1-2 3-1 2 2-3 2zM1075 1963l-2 0-2-2 1-1 2 0zM881 1908l4-4 4-1 2 2 1 2-1 2-4 1-2-1zM995 1969l2-4 5 3 0 3-6 2zM1041 1892l-2 0-1-1-1-2 1-2 3 0 3 2-1 1zM1003 1964l1-3 2-1 2 1 0 3-3 2z"/>
</g>
</g>
<clipPath id="c61"><rect x="133.3" y="2102.3" width="292.3" height="209.7"/></clipPath>
<rect x="133.3" y="2102.3" width="292.3" height="209.7" fill="#B2BCC2"/>
<rect x="133.3" y="2102.3" width="292.3" height="209.7" filter="url(#gd_bht)"/>
<rect x="133.3" y="2102.3" width="292.3" height="209.7" filter="url(#gl_bht)"/>
<g clip-path="url(#c61)"><g filter="url(#soft)">
<path fill="#3530AC" fill-opacity="1.0" d="M279 2222l-2-1-5 0 3-4 2-2 2 1 2 3-1 2zM294 2206l-2 0-3-1 0-1 1-2 2 0 2 0 1 3zM160 2130l-5 1-3-3-3-3 4-4 3-6 3 7 3 5zM228 2222l2-3 2 2 1 3-3 1zM192 2115l2-4 4-2 4 0 3 3-1 4-5 3-3-1zM153 2217l1-4 5-2 3 5-5 5zM271 2242l-2-4 1-6 3 0 4 1-1 5zM300 2148l0-2 3-3 3 0 2 1-1 4-1 1-4 4zM404 2126l-3-4-1-7 6 2 3 4-3 4zM133 2192l-7-3 4-6 5-7 2 9 0 6zM285 2286l-4-3-2-4 2-4 3-1 2 5 2 4zM179 2249l-7 1 4-11 2-3 7-1 4 7-6 7zM285 2144l-3-1-2-3 0-2 5-2 3 5zM404 2303l-2-5-1-5 2-4 3-1 4 5 1 3-3 5zM196 2234l0-2 5-2 3 0 3 3-3 4-5 1-4-1zM393 2164l-3-1-6-6 1-4 2-6 6 7 2 5zM162 2204l0 2-5 1-2-3-1-4 3-2 4 0 2 1zM143 2293l1-3 2-3 3 0 2 3-1 4-3 0zM412 2124l0-4 4 0 3 3-4 4zM233 2239l-10 5-8-14 9-3 9 5zM340 2221l-6-3-1-2 0-5 1-1 4 0 3 4 3 9zM207 2127l-4-9 11 0 1 5-2 4zM242 2304l-2-2 0-4 1-3 4 0 3 3 0 1-1 4zM258 2254l-3 3-7-3 0-7 7-2 5 4zM270 2142l-3 1-2-3 1-2 1-2 4 0 1 3 1 2zM165 2277l4-8 8 2-1 7-5 3zM234 2218l10-3 4-2 5 2 4 5-6 5-9 0zM391 2241l0-6 2-2 3 3-1 4zM137 2252l10-2 5-1 5 4-3 3-4 3-7-1zM249 2212l3-6 6 5-2 5-7 3zM308 2264l-2 1-2-1 0-2 1-3 1 0 2 2 1 1zM157 2136l2-2 4 1 4 4-6 1-4 3zM162 2254l-6-5-3-3 2-7 3 0 4 5 3 7zM388 2124l-2-2-1-3 3-4 3 1 1 2 4 5-6 1zM191 2156l-3 1-3-2 1-4 3 0zM317 2269l-3-6-1-3 2-3 3 1 5 2-4 3zM227 2232l-5-4-2-3 0-6 2-6 7 11 1 4zM197 2183l4-9 12-6-1 9-8 9zM151 2286l0-6 7-9 8 2-2 10-4 6-5 0zM136 2274l1-2 1-1 3 0 3 1-2 2-2 3-2-1zM381 2308l-2-1-2-2 1-3 3-4 2 5 3 4zM251 2257l9-3 7 0 4 5-11 2zM134 2192l2-2 3 0 6 1-1 5-8 1-2-3zM349 2252l-2-4-2-2 4-3 2 0 2 3 0 1-1 4zM405 2134l-1-6 2-3 4 2-1 4z"/>
<path fill="#2A2698" fill-opacity="1.0" d="M360 2256l0-2 2-3 2 1 1 3-2 1-2 1zM191 2125l-3-1-1-2-1-2 1-2 3 1 1 2 2 2zM155 2160l-2-5 5-8 3-1 8-4-4 11-5 5zM300 2218l-2-2-2-2 4-4 2 3 0 3zM151 2300l4-2 5 2 0 3-7 2zM418 2200l-7 0-3-6 4-2 6 4zM331 2273l-5-1-1-3 3-3 3 1 4 4zM212 2183l3-5 5-2 1 5-4 4zM227 2104l-1 3-5-1-3-3-2-3 5-2 6 1 1 2zM232 2161l-3-2-2-4 1-3 3 1 1 2 2 4zM154 2119l0-3 3-2 5 3-4 7zM261 2235l-5-12 0-8 4-3 7 0-1 5-3 8zM414 2200l-3-2 1-4 4 0 2 6zM203 2183l-4-7 1-4 2-4 3 1 2 1 1 5-3 4zM403 2174l-9-3-4-7 4-3 7 5zM229 2170l-3 1 0-2 0-3 1-3 2 3 2 0 0 3zM259 2302l-2 0-2-4-1-5 4 3 2 1 1 5zM362 2291l0-5 5-5 6 3 0 6-6 3zM166 2179l-5-5 4-2 4 1 0 4zM420 2175l-3-4 5-6 4 3 2 6zM144 2215l-3 0-3-3 0-4 2-4 4 1 2 3 3 7zM304 2273l6-7 9 6-5 6-8 0zM424 2245l-8 3-2-9 3-5 7 6zM429 2148l-6 4-9 0-2-5 8-5 9-1zM387 2303l-6-1-6-2-3-6 10 0 3 3zM143 2107l-6 0 5-13 12-6 1 9 0 4-4 6-3 2zM308 2315l-2-3 2-7 4-2 3 0 1 4 0 6-3 2zM204 2197l-7-5-7-11 10 5 11 7zM349 2297l2-3 5-2 5 4-1 3-5 3-6 2zM368 2291l-2-4 3-3 4 1 1 8zM212 2186l2-4 6-1 2 3 1 4-2 6-6-3zM389 2189l-5-3 2-9 5-1 3 5-1 5zM407 2255l-1-6 4-4 4-2-1 8-1 3zM289 2251l-1-3 6-1 2 1 0 4-1 4-5-3zM277 2258l2-4 1-2 6-1 0 3 5 6-8 1-4-1zM149 2234l-4-1-2-2-1-2-1-7 5 3 3 3 1 3zM420 2110l-5 1-2-4-1-3 2-2 4 0 3 3 5 3zM393 2274l-3-5 5-8 6-1 0 7-3 8zM166 2125l-3 1-2-3 0-2 2-4 3 3 1 4z"/>
<path fill="#3F3AB4" fill-opacity="0.95" d="M231 2211l-6-3-5-16 12 7 2 5zM182 2188l-6-1-3-2 0-3 3 0 3 2zM242 2303l-1-4 2-4 5-5 2 7-1 2-1 8zM382 2163l-8-1-3-5 4-5 7 6zM317 2190l-2-1 1-7 2-6 3 3 2 3-1 6-1 3zM384 2161l3-2 2-1 3 2-1 1-2 3-3-1zM204 2148l-3 2-3-2 0-2 2-4 4 4zM143 2307l-5 4-4-6 0-6 2-1 7-1 0 7zM408 2173l-3 2-6 1-4-4-7-2 10-5 6 3 7-1zM181 2158l-6 1-6-1-2-6 3-3 6 0 4 4zM134 2159l-1-7-1-8 10 3 1 6-1 5zM330 2214l-1-5 1-2 5-2 4 1 0 4-1 3-4 3zM205 2144l-2-4 1-5 3-2 2 1 1 4-3 5zM250 2205l-3-2-1-7 4 2 3 2-1 4zM314 2284l0-4 2-4 3 0 1 4-3 5zM254 2281l-2-1-1-3 2-2 2 1 2 3-1 1zM304 2250l-5 3-6-5 4-5 10-4zM376 2139l-3-2 4-4 3 1-1 4zM300 2307l-1-3 4-4 3 0 0 5-2 3zM312 2211l-3 1-6-1 1-4 3-1 9 0zM189 2109l-7-2 5-6 0-7 7 4 1 3 0 5-2 3zM224 2194l-2-4 1-3 4-3 2 4 1 4-3 2zM370 2237l-2 0 0-4 3-1 2-1 3 2-2 3-1 2zM338 2181l-7-2 2-8 1-2 5-3 2 4 1 6-1 2zM305 2166l-1-3-2-1 2-2 3-1 2 1 0 3-2 2zM168 2137l1-3 3-1 4 0 0 3 0 6-6-3zM283 2280l-4-2-2-4 1-3 4-1 3 6zM342 2207l3-2 5 0 2 2 1 6-6-1-6-2zM348 2225l0-2 2-3 2 1 2 1-3 4-3 1zM307 2269l-1-7 5-4 5 3-3 5zM372 2238l-4 0-1-3 1-2 4-3 0 5zM208 2273l-2-2 1-4 1-6 2 4 2 1-1 4-2 2zM297 2288l-4-2-6-11 6 0 4 4 3 6zM206 2265l-5-4 5-3 1-3 7-1 2 7-3 3-4 7z"/>
<path fill="#201D7A" fill-opacity="1.0" d="M175 2296l-2-5 4-5 5 3-3 8zM354 2274l-5 3-3-5 2-5 6 4zM234 2231l-2-2-2-4 0-5 4-1 2 6 1 3zM341 2247l2-1 2-1 1 2-1 2-2 3zM415 2241l-4-5 4-2 4 1 0 4zM172 2106l-1 0-2-3 0-3 2 0 3-2 0 3 0 4zM159 2230l3-3 4-2 0 5 0 1-4 0zM270 2234l1-3 2-1 2 4-3 2zM287 2295l2-2 6-3 4 2 0 3-1 5-2 4-7-3zM354 2292l-3 1-2-1-1-4 2-1 3-1 1 2 2 2zM341 2211l-3 2-2-6 3-1 2 1zM310 2299l-2-5 8-4 1-2 3 3 1 6-5 0zM207 2167l-8-7 1-7 5 0 3 6zM204 2197l2-3 6-1 2 2 4 2-6 3-7 5 0-5zM314 2138l3-6 8-5 4 4 0 3-4 8-9-1zM207 2215l-3 0-2-2 1-2 2-1 3 2zM403 2183l-4-2-2-4 3-3 5 1 0 4zM326 2263l-5-2-1-5 6 0 2 2zM205 2200l-5-1 1-7 3 1 4 5zM189 2155l-4 1-6-2 0-5 4-2 6 2zM392 2177l2-3 6-1 2 5-6 1-2 0zM377 2246l6-9 5-1 5-1 0 7-4 5-5-1zM278 2254l-2-3 1-2 2-3 2 2 1 3-1 3zM388 2177l-4 0-2-3-2-4 3-1 4 2 2 2zM284 2297l-2-2-6-2 6-3 4-1 3 3-1 2zM352 2140l-4-4 0-4 3-1 4 3 2 7zM163 2282l-1-5 7-4 4 4-5 7zM236 2197l-11 6-13-4 9-7 9 0zM409 2200l-3 0-2-3 0-2 4 0 1 2zM253 2264l-6-3-3-3 3-3 4 3zM255 2268l-2-5 8-3 3 1-1 5-2 4zM321 2187l-7-6-2-12 8 3 3 7zM257 2312l-6 4-8-5-1-4 7-4 9 4zM393 2198l-4-2-1-4 2-2 4-2 1 8zM317 2287l-3 1-2-2-1-4 3 1 3 2zM200 2136l-5 3-5-7 3-4 5 0 4 3zM146 2169l-1-6 4 1 6 0 2 4-4 4-6 0zM298 2146l2-4 4-3 3 2-1 4-4 2z"/>
<path fill="#3833AA" fill-opacity="0.95" d="M298 2241l-3 0-5 0-3-2 5-2 5 1zM180 2310l-5 6-7-3 0-4 7-11 5 8zM197 2280l-4 2 0-3 1-3 1-1 3-1 1 4-1 2zM391 2148l-3 0-2 0-2-3 0-1 1-1 5 0 2 2zM383 2128l-3-5 7-2 4 1-1 5-4 2zM318 2119l1-4 2 0 2 2-3 5zM243 2187l-2-6 3-6 5 1 1 3-1 6zM168 2246l-2-2-1-2 3-2 1 0 1 2-1 3zM180 2260l-3 0-3-5 3 0 4 3zM400 2145l-2-5 1-3 3-2 2 4-1 2zM191 2182l-3-1-1-5 0-2 4 0 3 3-1 4zM397 2301l2-3 3 2 2 2-2 2-5 0zM304 2160l-8 4-6-7 4-4 11-3zM183 2124l-6-1 3-6 3-5 2 3 3 3-1 3-1 7zM419 2118l-8 0-1-7 6-3 5 2zM266 2261l-1-2 0-2 2-5 1 4 3 1 0 3-3 2zM346 2229l0-2 4 0 1 2-2 4zM172 2170l-6-1 5-4 2-2 6-1-2 5-2 3zM166 2266l-2-3 2-3 3-1 1 1 0 3-2 3zM268 2247l-4 0-3-3 1-4 5-6 1 6 1 4zM220 2107l0-3 4-4 2 3 0 4zM190 2109l-2 0-4-5 2-2 3-1 2-1 3 5-1 2zM200 2221l1-2 4-2 2 1 2 2-1 3-4 1-2 0zM169 2253l-5 0-2-1 0-2 3-3 4 4zM168 2236l0-3 2-3 4 1 5 1-6 4-2 2zM161 2189l-1-2 2-7 3 1 5-1-4 8-3 4zM145 2191l-10 3-8-3 1-6 10 0zM376 2216l-3 1-2-1-1-3 2-2 6-2zM338 2245l-3 0 0-5 1-3 7-3-1 7-1 3zM254 2179l2-3 6-4 0 6 0 3-3 2-4-1zM269 2112l-2-5 0-3 5-4 4 0 0 6 0 11zM332 2135l1-7 5-3 6 2-1 6-7 3zM184 2187l-3 0-2-1-1-1 1-3 2 0 3 1 0 2zM231 2283l2-3 3 0 0 2-2 4zM238 2250l1-5 1-4 6-2 0 5-1 6zM411 2257l-8-1-4-4 3-4 5 2zM405 2313l-10 1-7-2-1-4 1-3 5 1 6 2zM383 2192l3-8 7-1 1 2 4 4 4 4-9 1-4 2zM219 2135l-5-6 1-9 6 1 3 12zM317 2206l1-4 1-3 5-3-1 7-3 3zM141 2117l-3-4 1-5 5 1 2 4zM292 2241l-6 2-3-3 2-3 7-2zM325 2178l-2-2-4-3 1-5 2-1 5 1 1 4 3 4zM184 2292l4-9 6-6 3 7-1 3-5 5z"/>
</g>
</g>
<clipPath id="c62"><rect x="466.5" y="2102.3" width="290.3" height="209.7"/></clipPath>
<rect x="466.5" y="2102.3" width="290.3" height="209.7" fill="#B4BEC4"/>
<rect x="466.5" y="2102.3" width="290.3" height="209.7" filter="url(#gd_bht)"/>
<rect x="466.5" y="2102.3" width="290.3" height="209.7" filter="url(#gl_bht)"/>
<g clip-path="url(#c62)"><g filter="url(#soft)">
<path fill="#3530AC" fill-opacity="1.0" d="M610 2217l-10-3-4-1-4-5 2-3 5-1 3 2 4 4zM635 2271l0-4 5 0 3 1 0 1 2 4-6 1-1-1zM603 2287l-2 6-3-6-3-2 2-3 2-2 3 1 2 3zM552 2301l0-2 0-2 2 0 2 0 1 2 1 3-5 1zM649 2185l-6-4 6-3 4 0 2 4-3 3zM578 2135l-6-6 11-6 2 2-2 8zM651 2272l-2-3 3-5 5-3 2 6-1 6zM610 2227l1-2 5 0 1 1-1 3-6 1zM617 2170l-3-4 1-3 2-5 2 4 4 3-4 4zM754 2186l-3 1-2-2-3-6 5 2 4 2zM678 2308l-4 1-3-3 0-6 7 4zM560 2273l2-3 1-2 4-3 1 5 1 2-2 6-3-3zM592 2166l0-2 3-3 2 0 1 3-2 3zM617 2224l-8-3 5-9 5-7 3 9 1 8zM646 2207l0-5 5-1 3 5-4 4zM569 2175l-7 4-5-5-5-5 4-3 5-2 4 3zM724 2292l1-3 4-7 3 4 1 3 1 3-4 1-6 3zM504 2244l2-5 6-2 3 4-6 5zM626 2257l-9-3-2-6 6-3 9 6zM614 2256l1-6 7 2 4 2-1 4-6 3-4-2zM576 2199l-2-4 3-3 3-6 3 7 0 3-2 3-3 0zM699 2272l-4 0-1-5 0-5 4 1 3 2 1 5zM531 2291l-2-2 1-2 2-2 4 0-2 3 1 5zM619 2211l3-5 4-2 3 3 0 6-3 1-6 0zM510 2263l7-5 6 2-1 7-8 2zM574 2226l7-2 7-3 2 4 4 3-7 2-3 0-3-1zM545 2162l-7 5-3-5-5-4 1-5 7 1 2 0 5 4zM651 2283l-4-1-1-2 2-3 3 0 1 2zM601 2213l-6-1-4-3 0-6 4-1 5 6zM468 2259l-2-3-1-3 4 0 2 0 0 3-1 2zM520 2161l-1-1-2-5 4 1 3 2-1 3zM557 2194l5-4 11 0-6 6-7 1zM564 2251l2-2 4-1 5 2 0 2-2 4-4 0-5-3zM508 2228l-4 0-2-3 3-2 3 1zM586 2143l2-3 4-2 5 0 1 2-1 3-5 3-3 0zM656 2210l-4 3-3-4-1-4 0-2 4-1 4 1 5 3zM614 2257l-4-7 5-7 6 4-1 8zM641 2276l-4-1-1-7-2-7 6 4 5 5-1 5zM595 2303l7-4 4 1 1 4-3 3-6 1zM562 2259l1-6 5-3 2 8-5 2zM642 2142l-3-2-2-3-1-4 5 1 3 4zM639 2279l-2-4 2-5 4 1 1 4-2 3zM591 2195l2-1 3-1 2 1 0 3-2 1-5 0zM549 2170l0-5 4-6 3 6 0 2-3 3zM647 2214l-2 4-4-3-5-2 3-4 3 0 4 1zM658 2197l-5 2-6-1 0-3 4-3 9-1zM680 2278l-3 1-3-1-7-5 5-3 5-1 2 5 3 2zM712 2233l-5 5-9 0 3-8 5-2 5 0zM734 2116l0-5 6-7 5-1 5 2 2 7-8 8-5-3zM651 2297l-1-4 3-5 3 0 2 2-1 4-3 5zM711 2194l-1-1 1-4 3 0 2 1 0 3-2 3zM657 2172l-5-3 2-8 9 1-2 9zM630 2204l-6 0 1-9 4 2 5 3zM471 2312l1-4 4-4 2 1 3 0 0 3-3 4-3 0zM474 2227l7-2 7-1 3 9-10 0z"/>
<path fill="#2A2698" fill-opacity="1.0" d="M577 2211l-9 4-7-5 2-5 13 0zM567 2177l-4 0-4-3 2-5 3 1 6 5zM631 2227l3-5 5-5 2 0 3 1 0 3-3 4-3 2zM636 2284l-1-4 4-4 3 1 1 5 0 3-4 0zM699 2163l0-1 2-3 1 1 2 1 0 2-2 1-2 2zM579 2227l-3-9-1-6 1-5 4 1 3 3 3 3-3 7zM469 2269l-2 2-2-2-2-2 2-2 2-1 3 3zM582 2190l-4-1 1-7 3-6 3 0 2 6 1 3-3 7zM597 2190l-6-5 2-3 3-7 6 4 1 3 0 9zM585 2149l-6 1-4-4 0-10 9 7zM581 2276l-7 0-4-7 6-6 6 5zM625 2264l1-3 3-1 5 0-3 5-3 1zM655 2220l-4-6-3-3 4-4 1 0 3 3 0 5zM676 2147l7-3 3-6 3 2 3 2 0 3-4 3-5 0zM545 2257l-6 2-5-3 0-6 9 2zM519 2216l-2-5 4-3 3 1 1 6zM663 2206l-2-8 4-6 4 5 0 9zM603 2310l3-2 5-3 0 3 1 3-1 2-5 1-2-2zM664 2142l1-6 3-2 3-2 3 3 0 9-7 3zM568 2188l-1-4 4-3 2 0 4 3-4 3-3 1zM738 2125l0-3 3-2 4 1-2 4-2 4zM582 2167l-2-3 1-5 4 2 4 2-5 5zM642 2118l-3-1-2-5 3-4 6 4-2 5zM546 2222l-14-8 0-13 7-2 6 5 2 8zM615 2297l-8 5-11-4 9-4 7-1zM655 2161l3-7 6-2 9 1-5 8-6 8-6-6zM551 2149l0-4 4-1 2 1 1 3-3 3zM702 2305l4-3 3-1 3-1 1 2-1 3-3 2-2-2zM669 2293l-5-3 4-4 3-3 2 3-1 4zM719 2165l10-5 6-4 6 0 1 7-6 3-4 2zM637 2312l-1-2 1-5 3-2 2 0 2 4 0 5-5 1zM520 2195l-2 0-5-2 2-2 3-2 3 4zM624 2187l-4-1 0-3 3-2 3 3zM624 2205l5-2 4-7 2 4 0 4-1 3-4 1zM589 2183l-3-4-3-2 0-3 1-1 3 1 2 1 0 2zM680 2252l3-4 4 0 6 2-1 3-3 7-8-3zM553 2256l-1-3 2-8 3 4 5 3-5 3zM516 2145l-2-6 3-5 4-2 3 1 0 6-5 6zM587 2301l-4 2-6-4 3-3 7 1zM594 2175l2-11 8-5 4 4-5 17zM645 2280l-2-4 3-2 3 1 0 2-1 2zM755 2209l-2-5 2-3 3 1 2 2-1 3zM595 2166l-3-4 2-11 5 6 6 0 1 5-3 5-6 2zM577 2162l-4-1-1-4 1-5 3 2 3 4 1 3zM701 2263l-5 0-3-3 3-4 4 3zM713 2262l-4-3 0-3 3-1 3 3zM587 2296l2-11 8 0 8 0-5 8-9 6zM672 2240l-1-1 1-3 1-2 2 0 1 5-2 2zM650 2222l-5 1-8-3 7-3 4 0zM608 2231l-4 0-1-3-3-6 6 0 2 1 2 4 0 5zM625 2117l-2-4 4-3 3 1 3 5-4 1zM670 2242l-2-2-1-1 1-4 1-2 4 0 0 4-1 3zM620 2256l-4 0-2 0-1-3-3-5 6 3 3 0 1 3zM665 2206l2-2 2-1 3 1 2 2-3 2-3 0-4 1zM520 2205l0-2 2-4 4-1 1 3-2 3-3 2zM519 2251l-2-5 5-1 1 2 0 3zM699 2246l-5-2 0-7 6-3 2 8zM760 2261l-6-2-4-6 2-3 2-2 7 4 0 6zM607 2256l-4-2 3-5 3 2 4 6zM638 2270l1-9-1-5 6-4 2 4 1 4-2 8zM559 2237l-2-5 1-7 6-4 3 5-1 8zM513 2223l-2-2-2-1 1-4 2-1 5-1-1 5 1 4zM650 2167l-4-1 0-3-1-5 3-1 3 1 3 3 2 7zM595 2297l-7-3-1-6 4-1 5 5zM602 2290l2-5 3-3 4 0 3 2-1 2-3 3-2 1zM551 2196l-3-1-1-5 3 0 2 3zM608 2163l-4-6 4-5 4 2 0 6zM489 2222l-4 1-6-3 6-2 4 2zM572 2312l-4-11 4-8 7 4 0 7zM627 2271l-1-6-4-3 6-2 4 1 2 3-3 5zM553 2286l2-4 9-4 1 5-1 5-6 4-4-3zM649 2133l4-3 5 0 0 3-6 1zM643 2249l-1-4 4-1 3 2-3 5zM615 2213l-3-2 2-3 2-3 2-2 1 3 0 2 0 2zM677 2286l0-10 7-3 4 4-5 7zM535 2260l-3-5-2-2 2-6 4-6 4 6 2 7-4 4zM568 2307l2-10 2-4 4 0 2 2 1 5-5 3zM682 2199l-6-1-1-8 6-4 4 2 1 9zM637 2146l-3-1 1-2 1-3 3 0 1 2 3 3-4 2zM541 2258l2-2 4 0 2 1 1 3-5 0-3-1z"/>
<path fill="#3F3AB4" fill-opacity="0.95" d="M611 2136l-6-2-2-5 4-2 3 0 2 5zM530 2265l-10 5 0-9 3-7 7 2zM732 2152l-3-1-3-3 1-5 3 0 3 5zM632 2275l-7-3-4-10 5-4 5 3 3 4zM614 2271l-6-1 0-10 8-2 2 1 2 8-3 4zM626 2183l-3 0-2-4 4 0 2 2zM606 2245l-4-3-3-3 0-5 2-1 6 5 1 4zM593 2254l-4-2-3-3-3-6 6 1 4 1 3 4zM564 2208l1-12 4-5 3 2-1 9zM552 2248l-4 1-9-2 2-10 4-3 7 7 2 4zM657 2182l-4-2 3-3 1-2 2 1 2 2-2 5zM694 2239l-5 0-2-3 2-4 5 4zM574 2167l5-14 5-5 6 3-1 7-5 5zM591 2149l3-3 3 0 2 3-1 2-2 1-4 0zM651 2113l-9 1-5-10 7-3 6 6zM492 2127l-7-10 9-6 4 3 2 11zM536 2220l-4 4-9-2-7-7 9-4 4 1 12 1zM628 2303l-3-4-2-3 3-3 2 2 1 3zM689 2314l-4-5 1-7 4-3 4 7 2 14zM560 2198l-7-4-2-7 3-5 8 4 3 8zM638 2180l0-5 4-3 3 4-2 4zM577 2242l1-2 3-1 2 0 4 2-5 3-3 1zM555 2260l3-4 4-2 3 2 1 4-4 2-6 0zM479 2216l-4 3-3-5 1-2 2-1 8 3zM729 2241l2-2 6 0 5 0 0 5-3 2-5 6-5-6zM558 2129l-1-4 3-5 4-2 3 4 0 4-2 3-7 2zM687 2224l2-2 2 0 2 1 1 2-2 1-2 2-2-1zM598 2292l-6-3-4-4-4-4 8-3 5 2 6 4zM571 2297l-7-3-7-11 12-5 5 12zM610 2285l-3-3 0-5 4 0 3 1 2 2-2 2-2 6zM571 2259l3-3 10 3-4 5-7 0zM604 2313l2-7 6-2 3 5-8 10zM584 2257l3-4 3 1 1 4-3 2zM531 2181l-4 1-7-6 5-4 2-1 4 2 2 6zM636 2263l2-10 3-5 2-1 4 2-1 5-2 5zM580 2142l-5 0-4 0 0-4 2-3 4 1 2 3zM599 2163l0-4 7-2 1 4-1 3-2 2-3 0zM643 2297l-1-1-1-2 0-2 1-1 4-1 0 4 0 2zM605 2288l-4-3-2-6 2-8 6 5 4 4 3 7zM578 2229l-7 2-5-5 3-4 7 1zM578 2287l2-3 3 0 2 3 0 2-4 1-3-1zM695 2143l-7 0-3-2 1-3 2-1 6 0zM584 2223l-8 1-8-1 4-8 5 0 6 3zM515 2289l-3-3-1-10 9 2 1 5-2 7zM634 2208l-3 0-1-4 3-1 3 2zM683 2118l-7-1-2-1 0-3 1-3 4 1 2 3zM592 2258l-3 2-5-1-2-1 0-4 4-1 4 1 0 1zM494 2242l5-4 4-1 1 5-3 4-4-1zM547 2161l-1-3 3-3 3 3-2 2zM609 2271l-1-2 2-2 1-1 2 1 0 3-1 1zM694 2134l-6 1-5-2-1-3 1-6 5 0 4 3 2 4zM614 2308l2-2 6-1 4 4-2 2-3 2-8-1zM608 2184l-2-1 0-3 1-3 2-1 3 2 0 2-2 4zM574 2212l-7-8 10-2 5 2 0 5-2 5zM482 2205l-4-11 6-7 6 3-1 7zM612 2179l-8-10 1-6 0-6 5 2 9 7-5 6zM563 2183l-4 0 0-2 1-4 1-1 5-3 0 7 2 5zM486 2165l8-8 12-4-2 10-9 5zM590 2214l0-4 3-3 7 1 3 4 4 3-8 5-4-2zM727 2211l-3-1-2-3 1-3 3 0 3 3zM533 2277l-6 4-5-2-2-2 0-1 1-2 5-2 4 3zM578 2186l4-5 6-8 3 9 2 6-3 2-6 1-5-2zM544 2263l-5 1-4-3-1-8 7 3 3 3zM485 2166l2-2 4 0 1 3-2 3-3 1zM650 2222l-1-2 4-4 2 2-1 4zM504 2267l0-1 1-4 3 2 2 1 0 1-2 3-3 0zM629 2168l-4 0-3-1-1-2 0-4 4 2 6 0zM521 2240l-6-8 7 0 6 0 2 2 2 3-2 10-6-4zM523 2155l7-4 7 2-4 8-13 5zM508 2192l-3-2-1-4 3-1 3 5zM634 2177l2-3 3 1 0 2-1 5-3-2zM555 2290l-2-2-1-3-1-3 4-2 2 4 1 1-1 4zM496 2252l1-5 2-8 13 1-6 9-2 6-4-1zM655 2125l-3-2-2-2 0-2 2-1 2 0 5 2-2 4zM578 2241l-3-3 4-5 5-7 1 7 1 3-2 2-3 4zM532 2214l-2-1-1-4 1-2 5-2 1 4-1 4zM662 2272l-4 1-4-6 1-1 4-2 2 2 2 5zM597 2276l1-4 3-1 4 0 3 3-3 4-2 3-9-2z"/>
<path fill="#201D7A" fill-opacity="1.0" d="M528 2218l-1-8 5-2 4 3-3 6zM632 2259l-6-4-7-1 6-5 4-3 3 5 0 2zM543 2219l-6-6 1-5 5-1 2 6zM605 2241l-5 3-4-2-3-5 4-2 5 1 4 2zM644 2240l1-2 3-1 2 1 0 2-1 2-4 0zM650 2186l-2-4 3-7 5 0 2 5-3 4zM754 2279l-3 1-3-1-2-2 0-2 3 0 3 0 1 2zM680 2121l-1-3 1-2 4-1 1 2-1 3-2 2zM641 2294l-4-1-1-1 0-4 1-1 4 1 5 6zM742 2109l-6 2-7-2-3-5 7-4 13 0zM583 2246l-2-2 2-6 4 0 4 2 1 3-1 4-3 5zM623 2242l-5-1 2-6 2-2 6 2 1 2 0 6zM637 2236l-4 5-2-5 2-2 3 0zM482 2261l-4 0-11-4 6-6 2-5 3 1 7 6-1 4zM601 2282l-4 2-1-5 2-2 4-3 1 6zM616 2274l2-4 1-4 3 3 2-1 0 5-3 0-1 1zM505 2244l4-4 3 0 3 3-1 3-1 1-4-1zM523 2125l-3-1 0-5 1-2 4-1 2 3 1 6zM583 2303l-2-6 5-4 4 3-4 6zM621 2239l0-4 2-2 2 0 2 2-1 3 0 6-4-4zM594 2229l-7-2-7-7-1-5 5-3 8 5 5 8zM529 2225l1-4 3-5 5-1 3 5 0 4-2 3-7 3zM644 2303l-5-2-1-9 2-5 8-6 2 13-1 5zM636 2253l-1 1-4 0-3-2 0-4 5 1 3 2zM618 2137l-1-2 0-3 2-1 5 0-1 4-3 2zM636 2202l0-4 1-2 4-1 1 4-1 3-3 2zM620 2147l-3 2-1-2 0-2 1-2 3 1 1 2zM623 2232l-5-1 0-4 4-2 3 4zM601 2220l-3-4-2-3 1-2 3-1 3 2 2 2-2 4zM567 2184l4-9 8 4 2 6-7 4zM589 2270l-2-4 2-3 2 0 2 4-2 3zM546 2178l6-6 6 0 1 6-7 4zM541 2301l-4 1-6-4-1-9 4 0 6 3 5 6zM569 2153l-6-2-2-5-1-5 4-1 5 4 2 5zM579 2201l-2 1-2-3 1-2 1-2 3-1 0 4 1 3zM696 2149l-6-4 6-6 6-1 3 3-1 6-5 3zM646 2201l1-3 0-2 5-1 1 1 2 5-3 2-4 2zM602 2269l-3 1-2-3 0-3 2-1 3 1 0 3zM550 2269l-2-7 6-7 4 0 3 6-5 9zM629 2293l-2 0-2-3 1-4 2-1 2 2 1 2 0 3zM654 2288l-4-5 3-5 7-4 3 7-3 9zM733 2174l12-3 6 0 2 4-5 7-6-4zM658 2114l-2-2-5-4 5-4 5-1 3 5-2 5zM595 2270l-5-2-1-9 5 0 3 7zM640 2202l-9 1-7-3 2-5 2-2 7 2zM633 2208l5-5 6-1 1 3-2 4-5 0zM546 2124l-4 0-3-4 1-2 2-5 3 2 2 3 1 5zM632 2204l-13-5-5-11 9-2 5 6zM656 2175l-3 2-4-2-1-1 1-2 2-1 3 1 2 2zM633 2209l-2-2-2-6 3-2 3 4 1 4zM607 2312l-4 0-4-3 1-4 3 0 4 4zM616 2165l2-4 4-3 2 4-3 3zM616 2205l-8-3 3-5 3-2 6 2-1 5zM744 2304l-6 0-3 1-2-3 0-2 2-1 3 0 3 2zM585 2207l-4-1-2-2 1-5 2 0 3 2 2 3zM575 2208l5-2 5 0 1 4-5 1zM566 2227l-4 3-5 0-2-3 0-3 4-3 2 0 4 4zM615 2217l2-3 2-2 5 0 5 1-4 4-5 2-3 1zM525 2257l-1-4 5-3 3 2 1 4-6 3zM631 2189l-9 0-7-4 1-11 12 8zM688 2164l2-6 6-4 4 1 2 5-5 7-5 2zM559 2286l-5-1 5-6 5-1-1 7zM538 2104l-2 5-9-3 2-4 3-2 4 2z"/>
<path fill="#3833AA" fill-opacity="0.95" d="M539 2231l-4 4-3-2-1-4 3-3 6 1zM754 2138l-4 1-3-5-4-7 6 1 4 2 2 5zM607 2282l-5-4-3-5 2-4 9 2 0 6zM650 2246l-3-5 1-8 5 1 2 9zM618 2115l-2 1-2-2 1-3 3 1 0 1zM572 2286l-5 3-6-3-1-5 6-3 5 4zM540 2188l-3-2 0-7 7-7 1 10 0 4zM644 2193l0-4 5-2 0 3-1 3-3 1zM615 2316l-11 0-2-12 4-3 2-3 5 4 1 5zM624 2268l-4-1-6-3-1-6 1-5 6 1 4 3 5 6zM602 2238l-4-5 0-5 4 2 2 3zM479 2230l2-7 9-2 0 6-5 5zM511 2205l-4-3-2-6 5 0 3 2 1 6zM598 2241l2-7 7 1 1 6-5 2zM621 2204l-3-7 4-3 6-2 3 6-7 8zM607 2259l-2-1 0-2 0-2 2-1 2 1 0 2 0 2zM719 2199l-3 8-7-13 0-3 5-4 6 4 3 6zM703 2220l-1-8 5-9 8 6-7 11zM572 2185l-1-4 0-4 1 0 3-1 0 2 1 2-1 2zM522 2215l2-4 5-1 3 6-3 5-6-2zM522 2280l-1-9 12-6 0 10-6 8zM630 2144l-3-3-1-5 1-2 4 1 2 3 0 3zM487 2309l-4-1-4-2 1-6 2-2 2-1 8 2-2 8zM617 2230l-4 1-6 0 5-4 4-1zM619 2262l3-6 7-2 3 3 6 2-8 4-8 2zM638 2199l2-2 2 0 3 2-1 2-2 1-4 2zM582 2191l4-3 12-1-3 6-5 3-6-1zM655 2266l0-5 3-5 4 2-1 6zM672 2245l3-6 6-4 5-2 5 3-6 8-3 1zM646 2259l-3-2-2-4 4-1 4 4zM590 2240l-4-5-1-5 4-4 6 5 0 6zM662 2221l-2 4-2-3-5 1 2-6 3-2 5-2 4 5zM636 2181l-7-2-2-9 8-1 4 9zM522 2267l3-3 7 1 3 8-8 0zM654 2167l-4 2-1-3 2-3 2 1zM618 2238l-1-6-4-4 0-7 5-1 5 5 0 4 2 4zM607 2249l-5-3-1-4 3-3 8-1-2 9zM568 2208l-4-3-3-4 3-3 2 0 4 3 0 4zM628 2294l-14 3-7-4 2-4 10-4zM588 2175l1-5-2-5 4-2 3 0 2 2-1 4-2 3zM620 2125l1-2 5-3 3 2 6 2-6 7-5 1-3-4zM550 2278l-3-1-5-5 6-2 2 0 2 4zM583 2288l3-3 4 0 0 4-5 1zM633 2275l0-2 3-3 3 2 1 1-1 4-5 0zM689 2235l0-3 2-3 4-3-1 5 1 4-4 1zM598 2116l-5 2-4 0-6-2-1-4 4-4 6 1 12 2zM612 2283l-2 1-3-1 2-4 2 0zM661 2202l-2-1 2-4 2-1 2 3 0 6zM625 2276l-4-2 2-6 4 0 1 5zM574 2178l6-8 8 2-2 7-6 2zM570 2146l5-6 6-1 5 6-6 5-7 0zM656 2168l-6 1-4-5 1-5 7-1 3 5zM575 2224l-2-3 0-3 3-2 2 2 0 6zM502 2223l-2 2-3 0-4-1 0-5 4-2 2 0 3 3zM471 2297l11-5 9-5 2 7 2 9-9 0-6 0zM663 2162l-4-1-4-6 0-4 7 3 4 5zM519 2183l-1-7 9-4 2 4-5 9zM560 2245l1-3 3 0 2 0 1 4-2 1-3 0zM659 2227l6-3 4 2-1 3-4 1zM634 2312l-3 6-8-7 1-5 5 0 5 2zM575 2286l0-5 5 3 2 1-1 3-4 1zM676 2203l-3-4 2-2 5-1 6-1-3 5-2 4-3 1zM572 2314l-4-4 3-8 6-4 3 3 2 4-1 8-4 11zM531 2135l-2-2 0-3 1-3 2 0 2 3-1 4z"/>
</g>
</g>
<clipPath id="c63"><rect x="796.4" y="2102.3" width="290.4" height="209.7"/></clipPath>
<rect x="796.4" y="2102.3" width="290.4" height="209.7" fill="#B0BAC0"/>
<rect x="796.4" y="2102.3" width="290.4" height="209.7" filter="url(#gd_bht)"/>
<rect x="796.4" y="2102.3" width="290.4" height="209.7" filter="url(#gl_bht)"/>
<g clip-path="url(#c63)"><g filter="url(#soft)">
<path fill="#3530AC" fill-opacity="1.0" d="M935 2121l0-2 2-2 3 2 0 2-2 1-2 1zM836 2143l-1-5 1-2 2-2 2-1 2 3 0 3-1 3zM1078 2302l-6 3-6 1-5-6 0-2 5-2 7-1 7 2zM1055 2292l5-3 6 2 3 6-5 2-8-1zM1078 2166l-1-3 5-2 3 2 0 3 0 5-4-1zM937 2267l-3-1-2-9 3 2 4 4 1 4zM1088 2268l-2-1-3-4 2-1 2-3 4 6zM1012 2239l-1-3 4-1 2 3 1 2-2 2-2 0-2-1zM1056 2129l3-4 6 0 3 4-3 4-6 1zM1017 2185l-4-1-2-4 3-3 3-1 3 3 0 3zM839 2148l4-7 2-3 9-4-2 6-3 4-3 4zM1084 2269l-5 0-1-10 5-2 4 7zM1035 2139l-2 0 1-3 2-3 2 1 3 2-2 2-2 2zM802 2240l4-4 2 0 4 2-1 4-2 2-5-1zM894 2112l-4-4 1-5 5-1 2 6zM1062 2115l-1-5 5-5 4 1-3 8zM1041 2263l2-2 2 0 2 0 1 2 0 3-4 0-2-1zM804 2134l2-6 5-1 6-4-2 8-1 5-4 1-5-1zM900 2147l-5-3 4-10 9-1 3 7 0 5-4 8zM1044 2256l-3 0-2-1 1-2 3 0zM1006 2300l-3-1-3-6 5-4 3-3 2 7 1 6z"/>
<path fill="#2A2698" fill-opacity="1.0" d="M974 2232l1-5 8-6 5 2 1 4-6 7-9 7zM840 2171l-2-2-2-5 2-2 2-2 4 2 1 2-1 5zM1088 2259l-3-4-2-2 0-4 2-2 3-2 2 5 0 4zM1001 2158l4-6 10 0 2 5-5 3-8 1zM942 2190l-5 1-4-2 1-7 5 2 3 2zM1040 2131l1-5 4-7 4-1 3 7-7 6zM942 2195l-6 3-2-5 3-4 4 3zM1015 2300l-2-3 0-3 4 0 2 2 0 3-1 0zM996 2266l-1 4-5-5 0-2 2-2 4 1 2 2zM896 2232l-1 1-4 0-2-2 3-3 2 0 3 1 1 1zM1019 2221l1-8 4-2 5 3-3 6zM877 2212l-5-1 3-3 2-2 2 0 2 2 0 1-1 3zM1031 2237l-2-6 2-5 2-1 6-1-3 7-1 1zM863 2159l0-6 4-6 4-3 6 4-2 5-4 4zM932 2186l-3-1-3-3-2-8 4 1 5 3 1 5zM853 2197l0-3 2-3 3 1-1 4-2 1zM990 2298l-10 3-8-3 1-5 10-1z"/>
<path fill="#3F3AB4" fill-opacity="0.95" d="M1001 2310l-1-2 1-2 2-1 1 0 1 1 0 2-2 2zM863 2114l-2 2-3-1-2-3 0-2 1-1 4 1 2 2zM925 2268l-5 2-6-5-1-3 6-2 6 4zM914 2272l11-6 6 4 5 7-13 1zM995 2228l1-4 5-4 4 2-1 4-3 3zM936 2163l-3-1-3-1-4-5 5-2 3 0 1 2 2 3zM952 2118l-2 1-4-3 2-2 3 0 3 1zM970 2301l0-3 3 0 4 2-4 2zM935 2238l4-5 5 2 2 3-7 1zM949 2238l5-3 6-3 3 1 0 5-3 3-4 0zM1021 2214l-4 3-8 3 0-9 3-5 4 0 5 4zM962 2150l0-4 1-7 4-5 3 3 9 2-8 6-2 9zM932 2111l-3-4 2-3 4 1 0 4zM849 2263l-2-4 3-5 3 1 4 6-4 5zM827 2154l-1 2-4 3-2-6 0-3 1-1 4-1 4 3zM1022 2141l5-6 7-1-1 10-6 1zM1072 2182l4-2 6 0 3 5-11 2zM1037 2188l1-5 2-2 3 2-2 3zM936 2309l-4 1-6-2 4-3 5 0zM958 2198l-1-5 10-2 3 4 1 3-1 4-5 5-10-2zM807 2218l-5-4 5-9 3 0 3 6-3 6zM965 2288l-1 2-5 2-2-6 1-4 3-1 3 1 2 3zM1043 2147l3-3 4-2 3 3-1 2-3 3-5-1z"/>
<path fill="#201D7A" fill-opacity="1.0" d="M1083 2128l-1 5-8-2-4-3-2-3 7-3 5 1 10 3zM828 2115l3-3 3-3 2 1 1 2-3 2-1 1zM952 2297l-2-4 3-3 2 2 0 4zM849 2260l4-7 5-2 2 3-5 5zM971 2186l-3 0-6-4-4-5 9 1 4 3zM1072 2289l-7-5 5-5 4 1 1 6zM926 2118l-4-5 4-3 5-2 5-1 1 6-4 3-4 9zM1045 2266l-5-3 2-3 2-3 4-1 0 3 1 3-2 3zM1036 2130l2-2 6-5 1 5 3 4-3 3-3 2-4-3zM888 2139l-6-5 1-6 4-2 5 7zM961 2271l1-3 2-2 2 0 1 1 0 3-2 1zM1039 2261l2-3 2 0 2 1 2 3-3 1-3-1zM1052 2229l-6 0 1-4 2-4 2 0 4 5zM956 2279l-8-5 7-8 6 5 1 6zM1019 2220l0-4 4-3 3 0-4 7zM942 2294l2-7 5-5 4 3 1 4-5 4zM879 2309l-4 1-3-2-3-5 3-3 3-2 4 4 1 5zM1053 2118l-6-3-2-4 1-5 6 1 4 4-1 6z"/>
<path fill="#3833AA" fill-opacity="0.95" d="M1065 2242l-3 2-2-4 2-3 4 1zM1034 2231l-1-4 1-6 5 2 0 3 2 4-6 2zM853 2300l-4 1-4-6 0-4 5 0 5 5zM950 2231l4-2 3-1 2 2-1 1-2 3-3-1zM932 2146l1-10 3-5 5 3-1 8zM1018 2262l-5-3-1-4 4-2 3 1 6 2-4 6zM881 2149l10-8 5-4 7 1 2 3-7 8-7-1zM1053 2119l1-5 9-3 3 3 0 5-5 3-6 0zM934 2243l-1-2 1-2 2-1 4-1-2 5 0 2-2 1zM1008 2260l2-5 10 0-1 4-7 3zM867 2221l-7-8 9-4 5 1-2 7zM801 2126l-1-4 3-3 2 0 3 1-2 4-3 3zM935 2156l-4 0-2-3-1-2 2-2 3 1 2 2zM956 2176l5-7 5 2 2 6-8 4zM864 2228l-3-7 5-4 5 1 0 8zM986 2298l-1-8 7-4 6-2-1 10-6 7z"/>
</g>
</g>
<text x="78.9" y="1990.0" font-size="33.4" font-weight="bold" text-anchor="middle" fill="#26262c" transform="matrix(0.94 0 0 1 4.73 0)">TPC-1</text>
<text x="61.0" y="2222.7" font-size="33.4" font-weight="bold" text-anchor="middle" fill="#26262c" transform="matrix(0.967 0 0 1 2.01 0)">BHT101</text>
<text x="261.8" y="2342.1" font-size="33.4" font-weight="bold" text-anchor="middle" fill="#26262c" transform="matrix(0.98 0 0 1 5.24 0)">NC</text>
<text x="611.0" y="2348.0" font-size="33.4" font-weight="bold" text-anchor="middle" fill="#26262c">MIMIC</text>
<text x="922.1" y="2348.0" font-size="33.4" font-weight="bold" text-anchor="middle" fill="#26262c">INHIBIT</text>
<line x1="1275.8" y1="2052.7" x2="1275.8" y2="2025.0" stroke="#E07A30" stroke-width="1.4"/>
<line x1="1266.5" y1="2025.0" x2="1285.2" y2="2025.0" stroke="#E07A30" stroke-width="2.0"/>
<rect x="1257.7" y="2052.7" width="36.2" height="200.5" fill="#E07A30"/>
<line x1="1330.0" y1="1953.3" x2="1330.0" y2="1922.4" stroke="#DA321E" stroke-width="1.4"/>
<line x1="1320.7" y1="1922.4" x2="1339.3" y2="1922.4" stroke="#DA321E" stroke-width="2.0"/>
<rect x="1311.7" y="1953.3" width="36.6" height="299.9" fill="#DA321E"/>
<text x="1330.9" y="1923.0" font-size="26" text-anchor="middle" fill="#111" letter-spacing="1.8">**</text>
<line x1="1384.2" y1="2137.9" x2="1384.2" y2="2116.1" stroke="#4B5EAD" stroke-width="1.4"/>
<line x1="1374.9" y1="2116.1" x2="1393.6" y2="2116.1" stroke="#4B5EAD" stroke-width="2.0"/>
<rect x="1366.2" y="2137.9" width="36.1" height="115.3" fill="#4B5EAD"/>
<text x="1385.2" y="2118.3" font-size="26" text-anchor="middle" fill="#111" letter-spacing="1.8">**</text>
<line x1="1474.6" y1="2142.0" x2="1474.6" y2="2122.1" stroke="#E07A30" stroke-width="1.4"/>
<line x1="1465.2" y1="2122.1" x2="1483.9" y2="2122.1" stroke="#E07A30" stroke-width="2.0"/>
<rect x="1456.7" y="2142.0" width="35.8" height="111.2" fill="#E07A30"/>
<line x1="1528.2" y1="2000.2" x2="1528.2" y2="1974.0" stroke="#DA321E" stroke-width="1.4"/>
<line x1="1518.8" y1="1974.0" x2="1537.5" y2="1974.0" stroke="#DA321E" stroke-width="2.0"/>
<rect x="1510.3" y="2000.2" width="35.7" height="253.0" fill="#DA321E"/>
<text x="1529.1" y="1970.6" font-size="26" text-anchor="middle" fill="#111" letter-spacing="1.8">**</text>
<line x1="1582.6" y1="2163.8" x2="1582.6" y2="2147.9" stroke="#4B5EAD" stroke-width="1.4"/>
<line x1="1573.2" y1="2147.9" x2="1591.9" y2="2147.9" stroke="#4B5EAD" stroke-width="2.0"/>
<rect x="1564.7" y="2163.8" width="35.8" height="89.4" fill="#4B5EAD"/>
<text x="1583.5" y="2148.1" font-size="26" text-anchor="middle" fill="#111" letter-spacing="1.8">**</text>
<line x1="1239.9" y1="1885.8" x2="1239.9" y2="2254.8" stroke="#000" stroke-width="3.2"/>
<line x1="1223.9" y1="2253.2" x2="1620.3" y2="2253.2" stroke="#000" stroke-width="3.2"/>
<line x1="1223.9" y1="2253.2" x2="1239.9" y2="2253.2" stroke="#000" stroke-width="3.2"/>
<text x="1218.5" y="2263.1" font-size="29" font-weight="bold" text-anchor="end" fill="#1a1a1a">0</text>
<line x1="1223.9" y1="2127.1" x2="1239.9" y2="2127.1" stroke="#000" stroke-width="3.2"/>
<text x="1218.5" y="2137.0" font-size="29" font-weight="bold" text-anchor="end" fill="#1a1a1a">100</text>
<line x1="1223.9" y1="2001.0" x2="1239.9" y2="2001.0" stroke="#000" stroke-width="3.2"/>
<text x="1218.5" y="2010.9" font-size="29" font-weight="bold" text-anchor="end" fill="#1a1a1a">200</text>
<line x1="1328.4" y1="2253.2" x2="1328.4" y2="2269.2" stroke="#000" stroke-width="3.2"/>
<text x="1328.4" y="2298.0" font-size="26" font-weight="bold" text-anchor="middle" fill="#1a1a1a">TPC-1</text>
<line x1="1528.2" y1="2253.2" x2="1528.2" y2="2269.2" stroke="#000" stroke-width="3.2"/>
<text x="1528.2" y="2298.0" font-size="26" font-weight="bold" text-anchor="middle" fill="#1a1a1a">BHT101</text>
<text x="1153.7" y="2068.1" font-size="30.3" font-weight="bold" text-anchor="middle" fill="#1a1a1a" transform="rotate(-90 1153.7 2068.1)">Migratory cells number</text>
<rect x="1570.4" y="1913.4" width="39.2" height="19.0" fill="#E07A30"/>
<text x="1633.0" y="1931.8" font-size="31" text-anchor="start" fill="#1a1a1a">NC</text>
<rect x="1570.4" y="1962.6" width="39.2" height="19.0" fill="#DA321E"/>
<text x="1633.0" y="1981.0" font-size="31" text-anchor="start" fill="#1a1a1a">MIMIC</text>
<rect x="1570.4" y="2011.8" width="39.2" height="19.0" fill="#4B5EAD"/>
<text x="1633.0" y="2030.2" font-size="31" text-anchor="start" fill="#1a1a1a">INHIBIT</text>
</svg></body></html>
